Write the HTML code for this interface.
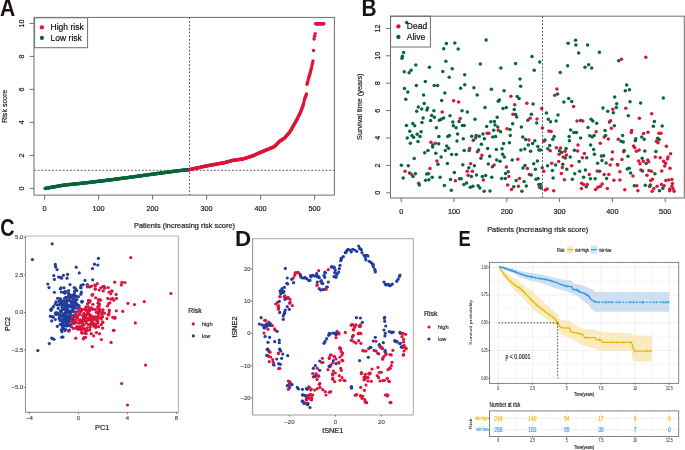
<!DOCTYPE html>
<html><head><meta charset="utf-8"><style>
html,body{margin:0;padding:0;background:#fff;}
body{width:685px;height:450px;overflow:hidden;}
svg{display:block;filter:blur(0.3px);}
text{font-family:"Liberation Sans", sans-serif;}
</style></head><body>
<svg width="685" height="450" viewBox="0 0 685 450">
<rect width="685" height="450" fill="#fff"/>
<line x1="34" y1="170.3" x2="334.4" y2="170.3" stroke="#444" stroke-width="0.9" stroke-dasharray="1.8 1.8"/>
<line x1="189.5" y1="17.4" x2="189.5" y2="195.1" stroke="#444" stroke-width="0.9" stroke-dasharray="1.8 1.8"/>
<circle cx="45.14" cy="188.41" r="1.75" fill="#07663a"/>
<circle cx="45.68" cy="188.31" r="1.75" fill="#07663a"/>
<circle cx="46.22" cy="188.22" r="1.75" fill="#07663a"/>
<circle cx="46.76" cy="188.12" r="1.75" fill="#07663a"/>
<circle cx="47.3" cy="188.03" r="1.75" fill="#07663a"/>
<circle cx="47.84" cy="187.93" r="1.75" fill="#07663a"/>
<circle cx="48.38" cy="187.84" r="1.75" fill="#07663a"/>
<circle cx="48.92" cy="187.74" r="1.75" fill="#07663a"/>
<circle cx="49.46" cy="187.65" r="1.75" fill="#07663a"/>
<circle cx="50" cy="187.55" r="1.75" fill="#07663a"/>
<circle cx="50.54" cy="187.46" r="1.75" fill="#07663a"/>
<circle cx="51.08" cy="187.36" r="1.75" fill="#07663a"/>
<circle cx="51.62" cy="187.27" r="1.75" fill="#07663a"/>
<circle cx="52.16" cy="187.17" r="1.75" fill="#07663a"/>
<circle cx="52.7" cy="187.08" r="1.75" fill="#07663a"/>
<circle cx="53.24" cy="186.98" r="1.75" fill="#07663a"/>
<circle cx="53.78" cy="186.89" r="1.75" fill="#07663a"/>
<circle cx="54.32" cy="186.79" r="1.75" fill="#07663a"/>
<circle cx="54.86" cy="186.7" r="1.75" fill="#07663a"/>
<circle cx="55.4" cy="186.6" r="1.75" fill="#07663a"/>
<circle cx="55.94" cy="186.51" r="1.75" fill="#07663a"/>
<circle cx="56.48" cy="186.41" r="1.75" fill="#07663a"/>
<circle cx="57.02" cy="186.32" r="1.75" fill="#07663a"/>
<circle cx="57.56" cy="186.22" r="1.75" fill="#07663a"/>
<circle cx="58.1" cy="186.13" r="1.75" fill="#07663a"/>
<circle cx="58.64" cy="186.03" r="1.75" fill="#07663a"/>
<circle cx="59.18" cy="185.94" r="1.75" fill="#07663a"/>
<circle cx="59.72" cy="185.84" r="1.75" fill="#07663a"/>
<circle cx="60.26" cy="185.75" r="1.75" fill="#07663a"/>
<circle cx="60.8" cy="185.66" r="1.75" fill="#07663a"/>
<circle cx="61.34" cy="185.56" r="1.75" fill="#07663a"/>
<circle cx="61.88" cy="185.47" r="1.75" fill="#07663a"/>
<circle cx="62.42" cy="185.37" r="1.75" fill="#07663a"/>
<circle cx="62.96" cy="185.28" r="1.75" fill="#07663a"/>
<circle cx="63.5" cy="185.19" r="1.75" fill="#07663a"/>
<circle cx="64.04" cy="185.13" r="1.75" fill="#07663a"/>
<circle cx="64.58" cy="185.07" r="1.75" fill="#07663a"/>
<circle cx="65.12" cy="185.01" r="1.75" fill="#07663a"/>
<circle cx="65.66" cy="184.96" r="1.75" fill="#07663a"/>
<circle cx="66.2" cy="184.9" r="1.75" fill="#07663a"/>
<circle cx="66.74" cy="184.84" r="1.75" fill="#07663a"/>
<circle cx="67.28" cy="184.78" r="1.75" fill="#07663a"/>
<circle cx="67.82" cy="184.73" r="1.75" fill="#07663a"/>
<circle cx="68.36" cy="184.67" r="1.75" fill="#07663a"/>
<circle cx="68.9" cy="184.61" r="1.75" fill="#07663a"/>
<circle cx="69.44" cy="184.55" r="1.75" fill="#07663a"/>
<circle cx="69.98" cy="184.49" r="1.75" fill="#07663a"/>
<circle cx="70.52" cy="184.44" r="1.75" fill="#07663a"/>
<circle cx="71.06" cy="184.38" r="1.75" fill="#07663a"/>
<circle cx="71.6" cy="184.32" r="1.75" fill="#07663a"/>
<circle cx="72.14" cy="184.26" r="1.75" fill="#07663a"/>
<circle cx="72.68" cy="184.2" r="1.75" fill="#07663a"/>
<circle cx="73.22" cy="184.15" r="1.75" fill="#07663a"/>
<circle cx="73.76" cy="184.09" r="1.75" fill="#07663a"/>
<circle cx="74.3" cy="184.03" r="1.75" fill="#07663a"/>
<circle cx="74.84" cy="183.97" r="1.75" fill="#07663a"/>
<circle cx="75.38" cy="183.92" r="1.75" fill="#07663a"/>
<circle cx="75.92" cy="183.86" r="1.75" fill="#07663a"/>
<circle cx="76.46" cy="183.8" r="1.75" fill="#07663a"/>
<circle cx="77" cy="183.74" r="1.75" fill="#07663a"/>
<circle cx="77.54" cy="183.68" r="1.75" fill="#07663a"/>
<circle cx="78.08" cy="183.63" r="1.75" fill="#07663a"/>
<circle cx="78.62" cy="183.57" r="1.75" fill="#07663a"/>
<circle cx="79.16" cy="183.51" r="1.75" fill="#07663a"/>
<circle cx="79.7" cy="183.45" r="1.75" fill="#07663a"/>
<circle cx="80.24" cy="183.39" r="1.75" fill="#07663a"/>
<circle cx="80.78" cy="183.34" r="1.75" fill="#07663a"/>
<circle cx="81.32" cy="183.28" r="1.75" fill="#07663a"/>
<circle cx="81.86" cy="183.22" r="1.75" fill="#07663a"/>
<circle cx="82.4" cy="183.16" r="1.75" fill="#07663a"/>
<circle cx="82.94" cy="183.11" r="1.75" fill="#07663a"/>
<circle cx="83.48" cy="183.05" r="1.75" fill="#07663a"/>
<circle cx="84.02" cy="182.99" r="1.75" fill="#07663a"/>
<circle cx="84.56" cy="182.93" r="1.75" fill="#07663a"/>
<circle cx="85.1" cy="182.87" r="1.75" fill="#07663a"/>
<circle cx="85.64" cy="182.82" r="1.75" fill="#07663a"/>
<circle cx="86.18" cy="182.76" r="1.75" fill="#07663a"/>
<circle cx="86.72" cy="182.7" r="1.75" fill="#07663a"/>
<circle cx="87.26" cy="182.64" r="1.75" fill="#07663a"/>
<circle cx="87.8" cy="182.57" r="1.75" fill="#07663a"/>
<circle cx="88.34" cy="182.51" r="1.75" fill="#07663a"/>
<circle cx="88.88" cy="182.44" r="1.75" fill="#07663a"/>
<circle cx="89.42" cy="182.38" r="1.75" fill="#07663a"/>
<circle cx="89.96" cy="182.31" r="1.75" fill="#07663a"/>
<circle cx="90.5" cy="182.25" r="1.75" fill="#07663a"/>
<circle cx="91.04" cy="182.18" r="1.75" fill="#07663a"/>
<circle cx="91.58" cy="182.12" r="1.75" fill="#07663a"/>
<circle cx="92.12" cy="182.05" r="1.75" fill="#07663a"/>
<circle cx="92.66" cy="181.99" r="1.75" fill="#07663a"/>
<circle cx="93.2" cy="181.92" r="1.75" fill="#07663a"/>
<circle cx="93.74" cy="181.86" r="1.75" fill="#07663a"/>
<circle cx="94.28" cy="181.79" r="1.75" fill="#07663a"/>
<circle cx="94.82" cy="181.73" r="1.75" fill="#07663a"/>
<circle cx="95.36" cy="181.67" r="1.75" fill="#07663a"/>
<circle cx="95.9" cy="181.6" r="1.75" fill="#07663a"/>
<circle cx="96.44" cy="181.54" r="1.75" fill="#07663a"/>
<circle cx="96.98" cy="181.47" r="1.75" fill="#07663a"/>
<circle cx="97.52" cy="181.41" r="1.75" fill="#07663a"/>
<circle cx="98.06" cy="181.34" r="1.75" fill="#07663a"/>
<circle cx="98.6" cy="181.28" r="1.75" fill="#07663a"/>
<circle cx="99.14" cy="181.21" r="1.75" fill="#07663a"/>
<circle cx="99.68" cy="181.15" r="1.75" fill="#07663a"/>
<circle cx="100.22" cy="181.08" r="1.75" fill="#07663a"/>
<circle cx="100.76" cy="181.02" r="1.75" fill="#07663a"/>
<circle cx="101.3" cy="180.95" r="1.75" fill="#07663a"/>
<circle cx="101.84" cy="180.89" r="1.75" fill="#07663a"/>
<circle cx="102.38" cy="180.82" r="1.75" fill="#07663a"/>
<circle cx="102.92" cy="180.76" r="1.75" fill="#07663a"/>
<circle cx="103.46" cy="180.7" r="1.75" fill="#07663a"/>
<circle cx="104" cy="180.63" r="1.75" fill="#07663a"/>
<circle cx="104.54" cy="180.57" r="1.75" fill="#07663a"/>
<circle cx="105.08" cy="180.5" r="1.75" fill="#07663a"/>
<circle cx="105.62" cy="180.44" r="1.75" fill="#07663a"/>
<circle cx="106.16" cy="180.37" r="1.75" fill="#07663a"/>
<circle cx="106.7" cy="180.31" r="1.75" fill="#07663a"/>
<circle cx="107.24" cy="180.24" r="1.75" fill="#07663a"/>
<circle cx="107.78" cy="180.18" r="1.75" fill="#07663a"/>
<circle cx="108.32" cy="180.11" r="1.75" fill="#07663a"/>
<circle cx="108.86" cy="180.05" r="1.75" fill="#07663a"/>
<circle cx="109.4" cy="179.98" r="1.75" fill="#07663a"/>
<circle cx="109.94" cy="179.92" r="1.75" fill="#07663a"/>
<circle cx="110.48" cy="179.85" r="1.75" fill="#07663a"/>
<circle cx="111.02" cy="179.78" r="1.75" fill="#07663a"/>
<circle cx="111.56" cy="179.71" r="1.75" fill="#07663a"/>
<circle cx="112.1" cy="179.64" r="1.75" fill="#07663a"/>
<circle cx="112.64" cy="179.56" r="1.75" fill="#07663a"/>
<circle cx="113.18" cy="179.49" r="1.75" fill="#07663a"/>
<circle cx="113.72" cy="179.42" r="1.75" fill="#07663a"/>
<circle cx="114.26" cy="179.35" r="1.75" fill="#07663a"/>
<circle cx="114.8" cy="179.28" r="1.75" fill="#07663a"/>
<circle cx="115.34" cy="179.21" r="1.75" fill="#07663a"/>
<circle cx="115.88" cy="179.13" r="1.75" fill="#07663a"/>
<circle cx="116.42" cy="179.06" r="1.75" fill="#07663a"/>
<circle cx="116.96" cy="178.99" r="1.75" fill="#07663a"/>
<circle cx="117.5" cy="178.92" r="1.75" fill="#07663a"/>
<circle cx="118.04" cy="178.85" r="1.75" fill="#07663a"/>
<circle cx="118.58" cy="178.78" r="1.75" fill="#07663a"/>
<circle cx="119.12" cy="178.7" r="1.75" fill="#07663a"/>
<circle cx="119.66" cy="178.63" r="1.75" fill="#07663a"/>
<circle cx="120.2" cy="178.56" r="1.75" fill="#07663a"/>
<circle cx="120.74" cy="178.49" r="1.75" fill="#07663a"/>
<circle cx="121.28" cy="178.42" r="1.75" fill="#07663a"/>
<circle cx="121.82" cy="178.35" r="1.75" fill="#07663a"/>
<circle cx="122.36" cy="178.27" r="1.75" fill="#07663a"/>
<circle cx="122.9" cy="178.2" r="1.75" fill="#07663a"/>
<circle cx="123.44" cy="178.13" r="1.75" fill="#07663a"/>
<circle cx="123.98" cy="178.06" r="1.75" fill="#07663a"/>
<circle cx="124.52" cy="177.99" r="1.75" fill="#07663a"/>
<circle cx="125.06" cy="177.92" r="1.75" fill="#07663a"/>
<circle cx="125.6" cy="177.85" r="1.75" fill="#07663a"/>
<circle cx="126.14" cy="177.77" r="1.75" fill="#07663a"/>
<circle cx="126.68" cy="177.7" r="1.75" fill="#07663a"/>
<circle cx="127.22" cy="177.63" r="1.75" fill="#07663a"/>
<circle cx="127.76" cy="177.56" r="1.75" fill="#07663a"/>
<circle cx="128.3" cy="177.49" r="1.75" fill="#07663a"/>
<circle cx="128.84" cy="177.42" r="1.75" fill="#07663a"/>
<circle cx="129.38" cy="177.34" r="1.75" fill="#07663a"/>
<circle cx="129.92" cy="177.27" r="1.75" fill="#07663a"/>
<circle cx="130.46" cy="177.2" r="1.75" fill="#07663a"/>
<circle cx="131" cy="177.13" r="1.75" fill="#07663a"/>
<circle cx="131.54" cy="177.06" r="1.75" fill="#07663a"/>
<circle cx="132.08" cy="176.99" r="1.75" fill="#07663a"/>
<circle cx="132.62" cy="176.91" r="1.75" fill="#07663a"/>
<circle cx="133.16" cy="176.84" r="1.75" fill="#07663a"/>
<circle cx="133.7" cy="176.77" r="1.75" fill="#07663a"/>
<circle cx="134.24" cy="176.7" r="1.75" fill="#07663a"/>
<circle cx="134.78" cy="176.62" r="1.75" fill="#07663a"/>
<circle cx="135.32" cy="176.55" r="1.75" fill="#07663a"/>
<circle cx="135.86" cy="176.47" r="1.75" fill="#07663a"/>
<circle cx="136.4" cy="176.4" r="1.75" fill="#07663a"/>
<circle cx="136.94" cy="176.33" r="1.75" fill="#07663a"/>
<circle cx="137.48" cy="176.25" r="1.75" fill="#07663a"/>
<circle cx="138.02" cy="176.18" r="1.75" fill="#07663a"/>
<circle cx="138.56" cy="176.1" r="1.75" fill="#07663a"/>
<circle cx="139.1" cy="176.03" r="1.75" fill="#07663a"/>
<circle cx="139.64" cy="175.96" r="1.75" fill="#07663a"/>
<circle cx="140.18" cy="175.88" r="1.75" fill="#07663a"/>
<circle cx="140.72" cy="175.81" r="1.75" fill="#07663a"/>
<circle cx="141.26" cy="175.73" r="1.75" fill="#07663a"/>
<circle cx="141.8" cy="175.66" r="1.75" fill="#07663a"/>
<circle cx="142.34" cy="175.59" r="1.75" fill="#07663a"/>
<circle cx="142.88" cy="175.51" r="1.75" fill="#07663a"/>
<circle cx="143.42" cy="175.44" r="1.75" fill="#07663a"/>
<circle cx="143.96" cy="175.36" r="1.75" fill="#07663a"/>
<circle cx="144.5" cy="175.29" r="1.75" fill="#07663a"/>
<circle cx="145.04" cy="175.21" r="1.75" fill="#07663a"/>
<circle cx="145.58" cy="175.14" r="1.75" fill="#07663a"/>
<circle cx="146.12" cy="175.07" r="1.75" fill="#07663a"/>
<circle cx="146.66" cy="174.99" r="1.75" fill="#07663a"/>
<circle cx="147.2" cy="174.92" r="1.75" fill="#07663a"/>
<circle cx="147.74" cy="174.84" r="1.75" fill="#07663a"/>
<circle cx="148.28" cy="174.77" r="1.75" fill="#07663a"/>
<circle cx="148.82" cy="174.7" r="1.75" fill="#07663a"/>
<circle cx="149.36" cy="174.62" r="1.75" fill="#07663a"/>
<circle cx="149.9" cy="174.55" r="1.75" fill="#07663a"/>
<circle cx="150.44" cy="174.47" r="1.75" fill="#07663a"/>
<circle cx="150.98" cy="174.4" r="1.75" fill="#07663a"/>
<circle cx="151.52" cy="174.33" r="1.75" fill="#07663a"/>
<circle cx="152.06" cy="174.25" r="1.75" fill="#07663a"/>
<circle cx="152.6" cy="174.18" r="1.75" fill="#07663a"/>
<circle cx="153.14" cy="174.1" r="1.75" fill="#07663a"/>
<circle cx="153.68" cy="174.03" r="1.75" fill="#07663a"/>
<circle cx="154.22" cy="173.96" r="1.75" fill="#07663a"/>
<circle cx="154.76" cy="173.88" r="1.75" fill="#07663a"/>
<circle cx="155.3" cy="173.81" r="1.75" fill="#07663a"/>
<circle cx="155.84" cy="173.73" r="1.75" fill="#07663a"/>
<circle cx="156.38" cy="173.66" r="1.75" fill="#07663a"/>
<circle cx="156.92" cy="173.59" r="1.75" fill="#07663a"/>
<circle cx="157.46" cy="173.51" r="1.75" fill="#07663a"/>
<circle cx="158" cy="173.44" r="1.75" fill="#07663a"/>
<circle cx="158.54" cy="173.37" r="1.75" fill="#07663a"/>
<circle cx="159.08" cy="173.3" r="1.75" fill="#07663a"/>
<circle cx="159.62" cy="173.23" r="1.75" fill="#07663a"/>
<circle cx="160.16" cy="173.16" r="1.75" fill="#07663a"/>
<circle cx="160.7" cy="173.08" r="1.75" fill="#07663a"/>
<circle cx="161.24" cy="173.01" r="1.75" fill="#07663a"/>
<circle cx="161.78" cy="172.94" r="1.75" fill="#07663a"/>
<circle cx="162.32" cy="172.87" r="1.75" fill="#07663a"/>
<circle cx="162.86" cy="172.8" r="1.75" fill="#07663a"/>
<circle cx="163.4" cy="172.72" r="1.75" fill="#07663a"/>
<circle cx="163.94" cy="172.65" r="1.75" fill="#07663a"/>
<circle cx="164.48" cy="172.58" r="1.75" fill="#07663a"/>
<circle cx="165.02" cy="172.51" r="1.75" fill="#07663a"/>
<circle cx="165.56" cy="172.44" r="1.75" fill="#07663a"/>
<circle cx="166.1" cy="172.37" r="1.75" fill="#07663a"/>
<circle cx="166.64" cy="172.29" r="1.75" fill="#07663a"/>
<circle cx="167.18" cy="172.22" r="1.75" fill="#07663a"/>
<circle cx="167.72" cy="172.15" r="1.75" fill="#07663a"/>
<circle cx="168.26" cy="172.08" r="1.75" fill="#07663a"/>
<circle cx="168.8" cy="172.01" r="1.75" fill="#07663a"/>
<circle cx="169.34" cy="171.94" r="1.75" fill="#07663a"/>
<circle cx="169.88" cy="171.86" r="1.75" fill="#07663a"/>
<circle cx="170.42" cy="171.79" r="1.75" fill="#07663a"/>
<circle cx="170.96" cy="171.72" r="1.75" fill="#07663a"/>
<circle cx="171.5" cy="171.65" r="1.75" fill="#07663a"/>
<circle cx="172.04" cy="171.58" r="1.75" fill="#07663a"/>
<circle cx="172.58" cy="171.5" r="1.75" fill="#07663a"/>
<circle cx="173.12" cy="171.43" r="1.75" fill="#07663a"/>
<circle cx="173.66" cy="171.36" r="1.75" fill="#07663a"/>
<circle cx="174.2" cy="171.29" r="1.75" fill="#07663a"/>
<circle cx="174.74" cy="171.22" r="1.75" fill="#07663a"/>
<circle cx="175.28" cy="171.15" r="1.75" fill="#07663a"/>
<circle cx="175.82" cy="171.07" r="1.75" fill="#07663a"/>
<circle cx="176.36" cy="171" r="1.75" fill="#07663a"/>
<circle cx="176.9" cy="170.93" r="1.75" fill="#07663a"/>
<circle cx="177.44" cy="170.86" r="1.75" fill="#07663a"/>
<circle cx="177.98" cy="170.79" r="1.75" fill="#07663a"/>
<circle cx="178.52" cy="170.72" r="1.75" fill="#07663a"/>
<circle cx="179.06" cy="170.64" r="1.75" fill="#07663a"/>
<circle cx="179.6" cy="170.57" r="1.75" fill="#07663a"/>
<circle cx="180.14" cy="170.5" r="1.75" fill="#07663a"/>
<circle cx="180.68" cy="170.45" r="1.75" fill="#07663a"/>
<circle cx="181.22" cy="170.4" r="1.75" fill="#07663a"/>
<circle cx="181.76" cy="170.35" r="1.75" fill="#07663a"/>
<circle cx="182.3" cy="170.29" r="1.75" fill="#07663a"/>
<circle cx="182.84" cy="170.24" r="1.75" fill="#07663a"/>
<circle cx="183.38" cy="170.19" r="1.75" fill="#07663a"/>
<circle cx="183.92" cy="170.14" r="1.75" fill="#07663a"/>
<circle cx="184.46" cy="170.09" r="1.75" fill="#07663a"/>
<circle cx="185" cy="170.04" r="1.75" fill="#07663a"/>
<circle cx="185.54" cy="169.99" r="1.75" fill="#07663a"/>
<circle cx="186.08" cy="169.93" r="1.75" fill="#07663a"/>
<circle cx="186.62" cy="169.88" r="1.75" fill="#07663a"/>
<circle cx="187.16" cy="169.83" r="1.75" fill="#07663a"/>
<circle cx="187.7" cy="169.78" r="1.75" fill="#07663a"/>
<circle cx="188.24" cy="169.73" r="1.75" fill="#07663a"/>
<circle cx="188.78" cy="169.68" r="1.75" fill="#07663a"/>
<circle cx="189.32" cy="169.63" r="1.75" fill="#07663a"/>
<circle cx="189.86" cy="169.54" r="1.75" fill="#dc1438"/>
<circle cx="190.4" cy="169.42" r="1.75" fill="#dc1438"/>
<circle cx="190.94" cy="169.31" r="1.75" fill="#dc1438"/>
<circle cx="191.48" cy="169.19" r="1.75" fill="#dc1438"/>
<circle cx="192.02" cy="169.07" r="1.75" fill="#dc1438"/>
<circle cx="192.56" cy="168.95" r="1.75" fill="#dc1438"/>
<circle cx="193.1" cy="168.84" r="1.75" fill="#dc1438"/>
<circle cx="193.64" cy="168.72" r="1.75" fill="#dc1438"/>
<circle cx="194.18" cy="168.6" r="1.75" fill="#dc1438"/>
<circle cx="194.72" cy="168.48" r="1.75" fill="#dc1438"/>
<circle cx="195.26" cy="168.37" r="1.75" fill="#dc1438"/>
<circle cx="195.8" cy="168.25" r="1.75" fill="#dc1438"/>
<circle cx="196.34" cy="168.13" r="1.75" fill="#dc1438"/>
<circle cx="196.88" cy="168.01" r="1.75" fill="#dc1438"/>
<circle cx="197.42" cy="167.9" r="1.75" fill="#dc1438"/>
<circle cx="197.96" cy="167.78" r="1.75" fill="#dc1438"/>
<circle cx="198.5" cy="167.66" r="1.75" fill="#dc1438"/>
<circle cx="199.04" cy="167.54" r="1.75" fill="#dc1438"/>
<circle cx="199.58" cy="167.43" r="1.75" fill="#dc1438"/>
<circle cx="200.12" cy="167.31" r="1.75" fill="#dc1438"/>
<circle cx="200.66" cy="167.19" r="1.75" fill="#dc1438"/>
<circle cx="201.2" cy="167.07" r="1.75" fill="#dc1438"/>
<circle cx="201.74" cy="166.96" r="1.75" fill="#dc1438"/>
<circle cx="202.28" cy="166.84" r="1.75" fill="#dc1438"/>
<circle cx="202.82" cy="166.72" r="1.75" fill="#dc1438"/>
<circle cx="203.36" cy="166.6" r="1.75" fill="#dc1438"/>
<circle cx="203.9" cy="166.49" r="1.75" fill="#dc1438"/>
<circle cx="204.44" cy="166.37" r="1.75" fill="#dc1438"/>
<circle cx="204.98" cy="166.25" r="1.75" fill="#dc1438"/>
<circle cx="205.52" cy="166.13" r="1.75" fill="#dc1438"/>
<circle cx="206.06" cy="166.02" r="1.75" fill="#dc1438"/>
<circle cx="206.6" cy="165.9" r="1.75" fill="#dc1438"/>
<circle cx="207.14" cy="165.78" r="1.75" fill="#dc1438"/>
<circle cx="207.68" cy="165.67" r="1.75" fill="#dc1438"/>
<circle cx="208.22" cy="165.58" r="1.75" fill="#dc1438"/>
<circle cx="208.76" cy="165.48" r="1.75" fill="#dc1438"/>
<circle cx="209.3" cy="165.38" r="1.75" fill="#dc1438"/>
<circle cx="209.84" cy="165.29" r="1.75" fill="#dc1438"/>
<circle cx="210.38" cy="165.19" r="1.75" fill="#dc1438"/>
<circle cx="210.92" cy="165.1" r="1.75" fill="#dc1438"/>
<circle cx="211.46" cy="165" r="1.75" fill="#dc1438"/>
<circle cx="212" cy="164.9" r="1.75" fill="#dc1438"/>
<circle cx="212.54" cy="164.81" r="1.75" fill="#dc1438"/>
<circle cx="213.08" cy="164.71" r="1.75" fill="#dc1438"/>
<circle cx="213.62" cy="164.62" r="1.75" fill="#dc1438"/>
<circle cx="214.16" cy="164.52" r="1.75" fill="#dc1438"/>
<circle cx="214.7" cy="164.42" r="1.75" fill="#dc1438"/>
<circle cx="215.24" cy="164.33" r="1.75" fill="#dc1438"/>
<circle cx="215.78" cy="164.23" r="1.75" fill="#dc1438"/>
<circle cx="216.32" cy="164.14" r="1.75" fill="#dc1438"/>
<circle cx="216.86" cy="164.04" r="1.75" fill="#dc1438"/>
<circle cx="217.4" cy="163.94" r="1.75" fill="#dc1438"/>
<circle cx="217.94" cy="163.85" r="1.75" fill="#dc1438"/>
<circle cx="218.48" cy="163.75" r="1.75" fill="#dc1438"/>
<circle cx="219.02" cy="163.66" r="1.75" fill="#dc1438"/>
<circle cx="219.56" cy="163.56" r="1.75" fill="#dc1438"/>
<circle cx="220.1" cy="163.46" r="1.75" fill="#dc1438"/>
<circle cx="220.64" cy="163.37" r="1.75" fill="#dc1438"/>
<circle cx="221.18" cy="163.27" r="1.75" fill="#dc1438"/>
<circle cx="221.72" cy="163.18" r="1.75" fill="#dc1438"/>
<circle cx="222.26" cy="163.08" r="1.75" fill="#dc1438"/>
<circle cx="222.8" cy="162.98" r="1.75" fill="#dc1438"/>
<circle cx="223.34" cy="162.89" r="1.75" fill="#dc1438"/>
<circle cx="223.88" cy="162.79" r="1.75" fill="#dc1438"/>
<circle cx="224.42" cy="162.7" r="1.75" fill="#dc1438"/>
<circle cx="224.96" cy="162.6" r="1.75" fill="#dc1438"/>
<circle cx="225.5" cy="162.44" r="1.75" fill="#dc1438"/>
<circle cx="226.04" cy="162.28" r="1.75" fill="#dc1438"/>
<circle cx="226.58" cy="162.12" r="1.75" fill="#dc1438"/>
<circle cx="227.12" cy="161.95" r="1.75" fill="#dc1438"/>
<circle cx="227.66" cy="161.79" r="1.75" fill="#dc1438"/>
<circle cx="228.2" cy="161.63" r="1.75" fill="#dc1438"/>
<circle cx="228.74" cy="161.47" r="1.75" fill="#dc1438"/>
<circle cx="229.28" cy="161.31" r="1.75" fill="#dc1438"/>
<circle cx="229.82" cy="161.15" r="1.75" fill="#dc1438"/>
<circle cx="230.36" cy="160.98" r="1.75" fill="#dc1438"/>
<circle cx="230.9" cy="160.82" r="1.75" fill="#dc1438"/>
<circle cx="231.44" cy="160.66" r="1.75" fill="#dc1438"/>
<circle cx="231.98" cy="160.5" r="1.75" fill="#dc1438"/>
<circle cx="232.52" cy="160.42" r="1.75" fill="#dc1438"/>
<circle cx="233.06" cy="160.35" r="1.75" fill="#dc1438"/>
<circle cx="233.6" cy="160.27" r="1.75" fill="#dc1438"/>
<circle cx="234.14" cy="160.2" r="1.75" fill="#dc1438"/>
<circle cx="234.68" cy="160.12" r="1.75" fill="#dc1438"/>
<circle cx="235.22" cy="160.04" r="1.75" fill="#dc1438"/>
<circle cx="235.76" cy="159.97" r="1.75" fill="#dc1438"/>
<circle cx="236.3" cy="159.89" r="1.75" fill="#dc1438"/>
<circle cx="236.84" cy="159.81" r="1.75" fill="#dc1438"/>
<circle cx="237.38" cy="159.74" r="1.75" fill="#dc1438"/>
<circle cx="237.92" cy="159.66" r="1.75" fill="#dc1438"/>
<circle cx="238.46" cy="159.59" r="1.75" fill="#dc1438"/>
<circle cx="239" cy="159.51" r="1.75" fill="#dc1438"/>
<circle cx="239.54" cy="159.43" r="1.75" fill="#dc1438"/>
<circle cx="240.08" cy="159.36" r="1.75" fill="#dc1438"/>
<circle cx="240.62" cy="159.28" r="1.75" fill="#dc1438"/>
<circle cx="241.16" cy="159.21" r="1.75" fill="#dc1438"/>
<circle cx="241.7" cy="159.13" r="1.75" fill="#dc1438"/>
<circle cx="242.24" cy="159.05" r="1.75" fill="#dc1438"/>
<circle cx="242.78" cy="158.95" r="1.75" fill="#dc1438"/>
<circle cx="243.32" cy="158.79" r="1.75" fill="#dc1438"/>
<circle cx="243.86" cy="158.63" r="1.75" fill="#dc1438"/>
<circle cx="244.4" cy="158.47" r="1.75" fill="#dc1438"/>
<circle cx="244.94" cy="158.31" r="1.75" fill="#dc1438"/>
<circle cx="245.48" cy="158.14" r="1.75" fill="#dc1438"/>
<circle cx="246.02" cy="157.98" r="1.75" fill="#dc1438"/>
<circle cx="246.56" cy="157.82" r="1.75" fill="#dc1438"/>
<circle cx="247.1" cy="157.66" r="1.75" fill="#dc1438"/>
<circle cx="247.64" cy="157.5" r="1.75" fill="#dc1438"/>
<circle cx="248.18" cy="157.34" r="1.75" fill="#dc1438"/>
<circle cx="248.72" cy="157.18" r="1.75" fill="#dc1438"/>
<circle cx="249.26" cy="157.01" r="1.75" fill="#dc1438"/>
<circle cx="249.8" cy="156.85" r="1.75" fill="#dc1438"/>
<circle cx="250.34" cy="156.69" r="1.75" fill="#dc1438"/>
<circle cx="250.88" cy="156.53" r="1.75" fill="#dc1438"/>
<circle cx="251.42" cy="156.35" r="1.75" fill="#dc1438"/>
<circle cx="251.96" cy="156.12" r="1.75" fill="#dc1438"/>
<circle cx="252.5" cy="155.88" r="1.75" fill="#dc1438"/>
<circle cx="253.04" cy="155.64" r="1.75" fill="#dc1438"/>
<circle cx="253.58" cy="155.41" r="1.75" fill="#dc1438"/>
<circle cx="254.12" cy="155.17" r="1.75" fill="#dc1438"/>
<circle cx="254.66" cy="154.94" r="1.75" fill="#dc1438"/>
<circle cx="255.2" cy="154.7" r="1.75" fill="#dc1438"/>
<circle cx="255.74" cy="154.46" r="1.75" fill="#dc1438"/>
<circle cx="256.28" cy="154.23" r="1.75" fill="#dc1438"/>
<circle cx="256.82" cy="153.99" r="1.75" fill="#dc1438"/>
<circle cx="257.36" cy="153.76" r="1.75" fill="#dc1438"/>
<circle cx="257.9" cy="153.52" r="1.75" fill="#dc1438"/>
<circle cx="258.44" cy="153.28" r="1.75" fill="#dc1438"/>
<circle cx="258.98" cy="153.05" r="1.75" fill="#dc1438"/>
<circle cx="259.52" cy="152.81" r="1.75" fill="#dc1438"/>
<circle cx="260.06" cy="152.58" r="1.75" fill="#dc1438"/>
<circle cx="260.6" cy="152.35" r="1.75" fill="#dc1438"/>
<circle cx="261.14" cy="152.12" r="1.75" fill="#dc1438"/>
<circle cx="261.68" cy="151.9" r="1.75" fill="#dc1438"/>
<circle cx="262.22" cy="151.67" r="1.75" fill="#dc1438"/>
<circle cx="262.76" cy="151.44" r="1.75" fill="#dc1438"/>
<circle cx="263.3" cy="151.22" r="1.75" fill="#dc1438"/>
<circle cx="263.84" cy="150.99" r="1.75" fill="#dc1438"/>
<circle cx="264.38" cy="150.76" r="1.75" fill="#dc1438"/>
<circle cx="264.92" cy="150.53" r="1.75" fill="#dc1438"/>
<circle cx="265.46" cy="150.31" r="1.75" fill="#dc1438"/>
<circle cx="266" cy="150.08" r="1.75" fill="#dc1438"/>
<circle cx="266.54" cy="149.85" r="1.75" fill="#dc1438"/>
<circle cx="267.08" cy="149.63" r="1.75" fill="#dc1438"/>
<circle cx="267.62" cy="149.4" r="1.75" fill="#dc1438"/>
<circle cx="268.16" cy="149.17" r="1.75" fill="#dc1438"/>
<circle cx="268.7" cy="148.95" r="1.75" fill="#dc1438"/>
<circle cx="269.24" cy="148.73" r="1.75" fill="#dc1438"/>
<circle cx="269.78" cy="148.51" r="1.75" fill="#dc1438"/>
<circle cx="270.32" cy="148.3" r="1.75" fill="#dc1438"/>
<circle cx="270.86" cy="148.09" r="1.75" fill="#dc1438"/>
<circle cx="271.4" cy="147.87" r="1.75" fill="#dc1438"/>
<circle cx="271.94" cy="147.66" r="1.75" fill="#dc1438"/>
<circle cx="272.48" cy="147.44" r="1.75" fill="#dc1438"/>
<circle cx="273.02" cy="147.23" r="1.75" fill="#dc1438"/>
<circle cx="273.56" cy="147.01" r="1.75" fill="#dc1438"/>
<circle cx="274.1" cy="146.8" r="1.75" fill="#dc1438"/>
<circle cx="274.64" cy="146.25" r="1.75" fill="#dc1438"/>
<circle cx="275.18" cy="145.7" r="1.75" fill="#dc1438"/>
<circle cx="275.72" cy="145.14" r="1.75" fill="#dc1438"/>
<circle cx="276.26" cy="144.59" r="1.75" fill="#dc1438"/>
<circle cx="276.8" cy="144.04" r="1.75" fill="#dc1438"/>
<circle cx="277.34" cy="143.49" r="1.75" fill="#dc1438"/>
<circle cx="277.88" cy="142.94" r="1.75" fill="#dc1438"/>
<circle cx="278.42" cy="142.38" r="1.75" fill="#dc1438"/>
<circle cx="278.96" cy="141.83" r="1.75" fill="#dc1438"/>
<circle cx="279.5" cy="141.36" r="1.75" fill="#dc1438"/>
<circle cx="280.04" cy="141" r="1.75" fill="#dc1438"/>
<circle cx="280.58" cy="140.64" r="1.75" fill="#dc1438"/>
<circle cx="281.12" cy="140.29" r="1.75" fill="#dc1438"/>
<circle cx="281.66" cy="139.93" r="1.75" fill="#dc1438"/>
<circle cx="282.2" cy="139.57" r="1.75" fill="#dc1438"/>
<circle cx="282.74" cy="139.21" r="1.75" fill="#dc1438"/>
<circle cx="283.28" cy="138.86" r="1.75" fill="#dc1438"/>
<circle cx="283.82" cy="138.5" r="1.75" fill="#dc1438"/>
<circle cx="284.36" cy="138.14" r="1.75" fill="#dc1438"/>
<circle cx="284.9" cy="137.63" r="1.75" fill="#dc1438"/>
<circle cx="285.44" cy="137.01" r="1.75" fill="#dc1438"/>
<circle cx="285.98" cy="136.4" r="1.75" fill="#dc1438"/>
<circle cx="286.52" cy="135.78" r="1.75" fill="#dc1438"/>
<circle cx="287.06" cy="135.17" r="1.75" fill="#dc1438"/>
<circle cx="287.6" cy="134.55" r="1.75" fill="#dc1438"/>
<circle cx="288.14" cy="133.93" r="1.75" fill="#dc1438"/>
<circle cx="288.68" cy="133.32" r="1.75" fill="#dc1438"/>
<circle cx="289.22" cy="132.7" r="1.75" fill="#dc1438"/>
<circle cx="289.76" cy="132.08" r="1.75" fill="#dc1438"/>
<circle cx="290.3" cy="131.23" r="1.75" fill="#dc1438"/>
<circle cx="290.84" cy="130.28" r="1.75" fill="#dc1438"/>
<circle cx="291.38" cy="129.33" r="1.75" fill="#dc1438"/>
<circle cx="291.92" cy="128.37" r="1.75" fill="#dc1438"/>
<circle cx="292.46" cy="127.42" r="1.75" fill="#dc1438"/>
<circle cx="293" cy="126.47" r="1.75" fill="#dc1438"/>
<circle cx="293.54" cy="125.51" r="1.75" fill="#dc1438"/>
<circle cx="294.08" cy="124.56" r="1.75" fill="#dc1438"/>
<circle cx="294.62" cy="123.61" r="1.75" fill="#dc1438"/>
<circle cx="295.16" cy="122.65" r="1.75" fill="#dc1438"/>
<circle cx="295.7" cy="121.7" r="1.75" fill="#dc1438"/>
<circle cx="296.24" cy="120.74" r="1.75" fill="#dc1438"/>
<circle cx="296.78" cy="119.79" r="1.75" fill="#dc1438"/>
<circle cx="297.32" cy="118.74" r="1.75" fill="#dc1438"/>
<circle cx="297.86" cy="117.66" r="1.75" fill="#dc1438"/>
<circle cx="298.4" cy="116.58" r="1.75" fill="#dc1438"/>
<circle cx="298.94" cy="115.5" r="1.75" fill="#dc1438"/>
<circle cx="299.48" cy="114.42" r="1.75" fill="#dc1438"/>
<circle cx="300.02" cy="113.34" r="1.75" fill="#dc1438"/>
<circle cx="300.56" cy="112.08" r="1.75" fill="#dc1438"/>
<circle cx="301.1" cy="110.63" r="1.75" fill="#dc1438"/>
<circle cx="301.64" cy="109.18" r="1.75" fill="#dc1438"/>
<circle cx="302.18" cy="107.73" r="1.75" fill="#dc1438"/>
<circle cx="302.72" cy="106.28" r="1.75" fill="#dc1438"/>
<circle cx="303.26" cy="104.83" r="1.75" fill="#dc1438"/>
<circle cx="303.8" cy="102.55" r="1.75" fill="#dc1438"/>
<circle cx="304.34" cy="99.9" r="1.75" fill="#dc1438"/>
<circle cx="304.88" cy="98.14" r="1.75" fill="#dc1438"/>
<circle cx="305.42" cy="96.76" r="1.75" fill="#dc1438"/>
<circle cx="305.96" cy="95.38" r="1.75" fill="#dc1438"/>
<circle cx="306.5" cy="94" r="1.75" fill="#dc1438"/>
<circle cx="307.04" cy="84.3" r="1.75" fill="#dc1438"/>
<circle cx="307.58" cy="82.2" r="1.75" fill="#dc1438"/>
<circle cx="308.12" cy="80.1" r="1.75" fill="#dc1438"/>
<circle cx="308.66" cy="78" r="1.75" fill="#dc1438"/>
<circle cx="309.2" cy="76.15" r="1.75" fill="#dc1438"/>
<circle cx="309.74" cy="74.3" r="1.75" fill="#dc1438"/>
<circle cx="310.28" cy="72.45" r="1.75" fill="#dc1438"/>
<circle cx="310.82" cy="70.6" r="1.75" fill="#dc1438"/>
<circle cx="311.36" cy="68.22" r="1.75" fill="#dc1438"/>
<circle cx="311.9" cy="65.85" r="1.75" fill="#dc1438"/>
<circle cx="312.44" cy="63.48" r="1.75" fill="#dc1438"/>
<circle cx="312.98" cy="61.1" r="1.75" fill="#dc1438"/>
<circle cx="313.52" cy="50.6" r="1.75" fill="#dc1438"/>
<circle cx="314.06" cy="39" r="1.75" fill="#dc1438"/>
<circle cx="314.6" cy="36.3" r="1.75" fill="#dc1438"/>
<circle cx="315.14" cy="33.7" r="1.75" fill="#dc1438"/>
<circle cx="315.68" cy="23.8" r="1.75" fill="#dc1438"/>
<circle cx="316.22" cy="23.8" r="1.75" fill="#dc1438"/>
<circle cx="316.76" cy="23.8" r="1.75" fill="#dc1438"/>
<circle cx="317.3" cy="23.8" r="1.75" fill="#dc1438"/>
<circle cx="317.84" cy="23.8" r="1.75" fill="#dc1438"/>
<circle cx="318.38" cy="23.8" r="1.75" fill="#dc1438"/>
<circle cx="318.92" cy="23.8" r="1.75" fill="#dc1438"/>
<circle cx="319.46" cy="23.8" r="1.75" fill="#dc1438"/>
<circle cx="320" cy="23.8" r="1.75" fill="#dc1438"/>
<circle cx="320.54" cy="23.8" r="1.75" fill="#dc1438"/>
<circle cx="321.08" cy="23.8" r="1.75" fill="#dc1438"/>
<circle cx="321.62" cy="23.8" r="1.75" fill="#dc1438"/>
<circle cx="322.16" cy="23.8" r="1.75" fill="#dc1438"/>
<circle cx="322.7" cy="23.8" r="1.75" fill="#dc1438"/>
<circle cx="323.24" cy="23.8" r="1.75" fill="#dc1438"/>
<circle cx="323.78" cy="23.8" r="1.75" fill="#dc1438"/>
<rect x="34" y="17.4" width="300.4" height="177.7" fill="none" stroke="#6e6e6e" stroke-width="1"/>
<line x1="29.6" y1="188.4" x2="34" y2="188.4" stroke="#6e6e6e" stroke-width="1" />
<text x="23.6" y="188.4" font-size="7.3" fill="#222" stroke="#222" stroke-width="0.2" text-anchor="middle" transform="rotate(-90 23.6 188.4)" >0</text>
<line x1="29.6" y1="155.4" x2="34" y2="155.4" stroke="#6e6e6e" stroke-width="1" />
<text x="23.6" y="155.4" font-size="7.3" fill="#222" stroke="#222" stroke-width="0.2" text-anchor="middle" transform="rotate(-90 23.6 155.4)" >2</text>
<line x1="29.6" y1="122.4" x2="34" y2="122.4" stroke="#6e6e6e" stroke-width="1" />
<text x="23.6" y="122.4" font-size="7.3" fill="#222" stroke="#222" stroke-width="0.2" text-anchor="middle" transform="rotate(-90 23.6 122.4)" >4</text>
<line x1="29.6" y1="89.4" x2="34" y2="89.4" stroke="#6e6e6e" stroke-width="1" />
<text x="23.6" y="89.4" font-size="7.3" fill="#222" stroke="#222" stroke-width="0.2" text-anchor="middle" transform="rotate(-90 23.6 89.4)" >6</text>
<line x1="29.6" y1="56.4" x2="34" y2="56.4" stroke="#6e6e6e" stroke-width="1" />
<text x="23.6" y="56.4" font-size="7.3" fill="#222" stroke="#222" stroke-width="0.2" text-anchor="middle" transform="rotate(-90 23.6 56.4)" >8</text>
<line x1="29.6" y1="23.4" x2="34" y2="23.4" stroke="#6e6e6e" stroke-width="1" />
<text x="23.6" y="23.4" font-size="7.3" fill="#222" stroke="#222" stroke-width="0.2" text-anchor="middle" transform="rotate(-90 23.6 23.4)" >10</text>
<line x1="44.6" y1="195.1" x2="44.6" y2="199.5" stroke="#6e6e6e" stroke-width="1" />
<text x="44.6" y="210.8" font-size="7.3" fill="#222" stroke="#222" stroke-width="0.2" text-anchor="middle" >0</text>
<line x1="98.6" y1="195.1" x2="98.6" y2="199.5" stroke="#6e6e6e" stroke-width="1" />
<text x="98.6" y="210.8" font-size="7.3" fill="#222" stroke="#222" stroke-width="0.2" text-anchor="middle" >100</text>
<line x1="152.6" y1="195.1" x2="152.6" y2="199.5" stroke="#6e6e6e" stroke-width="1" />
<text x="152.6" y="210.8" font-size="7.3" fill="#222" stroke="#222" stroke-width="0.2" text-anchor="middle" >200</text>
<line x1="206.6" y1="195.1" x2="206.6" y2="199.5" stroke="#6e6e6e" stroke-width="1" />
<text x="206.6" y="210.8" font-size="7.3" fill="#222" stroke="#222" stroke-width="0.2" text-anchor="middle" >300</text>
<line x1="260.6" y1="195.1" x2="260.6" y2="199.5" stroke="#6e6e6e" stroke-width="1" />
<text x="260.6" y="210.8" font-size="7.3" fill="#222" stroke="#222" stroke-width="0.2" text-anchor="middle" >400</text>
<line x1="314.6" y1="195.1" x2="314.6" y2="199.5" stroke="#6e6e6e" stroke-width="1" />
<text x="314.6" y="210.8" font-size="7.3" fill="#222" stroke="#222" stroke-width="0.2" text-anchor="middle" >500</text>
<text x="184.5" y="228" font-size="7.4" fill="#222" stroke="#222" stroke-width="0.2" text-anchor="middle" >Patients (increasing risk score)</text>
<text x="6.6" y="106.3" font-size="7.1" fill="#222" stroke="#222" stroke-width="0.2" text-anchor="middle" transform="rotate(-90 6.6 106.3)" >Risk score</text>
<rect x="34.6" y="17.8" width="53" height="29.9" fill="#fff" stroke="#6e6e6e" stroke-width="1"/>
<circle cx="41.9" cy="27.4" r="2.15" fill="#dc1438"/>
<circle cx="41.9" cy="37.9" r="2.15" fill="#07663a"/>
<text x="50.6" y="30.3" font-size="8.5" fill="#111" stroke="#111" stroke-width="0.2" text-anchor="start" >High risk</text>
<text x="50.6" y="40.6" font-size="8.5" fill="#111" stroke="#111" stroke-width="0.2" text-anchor="start" >Low risk</text>
<circle cx="401.4" cy="165.2" r="1.75" fill="#07663a"/>
<circle cx="402" cy="58.2" r="1.75" fill="#07663a"/>
<circle cx="402.4" cy="56.2" r="1.75" fill="#07663a"/>
<circle cx="403.1" cy="178.1" r="1.75" fill="#07663a"/>
<circle cx="403.6" cy="52.4" r="1.75" fill="#07663a"/>
<circle cx="404.2" cy="71.8" r="1.75" fill="#07663a"/>
<circle cx="404.4" cy="88.4" r="1.75" fill="#07663a"/>
<circle cx="405.1" cy="171.3" r="1.75" fill="#dc1438"/>
<circle cx="405.8" cy="99.3" r="1.75" fill="#07663a"/>
<circle cx="406.4" cy="125.4" r="1.75" fill="#07663a"/>
<circle cx="406.7" cy="22.4" r="1.75" fill="#07663a"/>
<circle cx="407.2" cy="138" r="1.75" fill="#07663a"/>
<circle cx="407.8" cy="92.1" r="1.75" fill="#07663a"/>
<circle cx="408.3" cy="165.8" r="1.75" fill="#07663a"/>
<circle cx="409.1" cy="72.7" r="1.75" fill="#07663a"/>
<circle cx="409.5" cy="172.9" r="1.75" fill="#07663a"/>
<circle cx="409.8" cy="131.3" r="1.75" fill="#07663a"/>
<circle cx="410.3" cy="143.2" r="1.75" fill="#07663a"/>
<circle cx="411.1" cy="70.2" r="1.75" fill="#07663a"/>
<circle cx="411.4" cy="174.2" r="1.75" fill="#dc1438"/>
<circle cx="412" cy="135.4" r="1.75" fill="#07663a"/>
<circle cx="412.8" cy="123.6" r="1.75" fill="#07663a"/>
<circle cx="413" cy="176.4" r="1.75" fill="#07663a"/>
<circle cx="413.6" cy="137.3" r="1.75" fill="#07663a"/>
<circle cx="414.2" cy="158.4" r="1.75" fill="#07663a"/>
<circle cx="414.7" cy="125.8" r="1.75" fill="#07663a"/>
<circle cx="415.4" cy="173.7" r="1.75" fill="#07663a"/>
<circle cx="415.8" cy="64.9" r="1.75" fill="#07663a"/>
<circle cx="416.3" cy="85.4" r="1.75" fill="#07663a"/>
<circle cx="416.7" cy="111.3" r="1.75" fill="#07663a"/>
<circle cx="417.2" cy="134.3" r="1.75" fill="#07663a"/>
<circle cx="418" cy="141.6" r="1.75" fill="#07663a"/>
<circle cx="418.3" cy="107.1" r="1.75" fill="#07663a"/>
<circle cx="418.7" cy="183.2" r="1.75" fill="#dc1438"/>
<circle cx="419.3" cy="185" r="1.75" fill="#07663a"/>
<circle cx="420" cy="136.6" r="1.75" fill="#07663a"/>
<circle cx="421.1" cy="131.8" r="1.75" fill="#07663a"/>
<circle cx="421.7" cy="109.1" r="1.75" fill="#07663a"/>
<circle cx="422" cy="122.4" r="1.75" fill="#07663a"/>
<circle cx="423.1" cy="118" r="1.75" fill="#07663a"/>
<circle cx="423.6" cy="94.9" r="1.75" fill="#07663a"/>
<circle cx="424.2" cy="103.6" r="1.75" fill="#07663a"/>
<circle cx="424.7" cy="152.7" r="1.75" fill="#07663a"/>
<circle cx="425.3" cy="81.6" r="1.75" fill="#07663a"/>
<circle cx="425.6" cy="180.3" r="1.75" fill="#07663a"/>
<circle cx="426.7" cy="174" r="1.75" fill="#07663a"/>
<circle cx="426.9" cy="109.9" r="1.75" fill="#07663a"/>
<circle cx="427.6" cy="108" r="1.75" fill="#07663a"/>
<circle cx="428" cy="150.4" r="1.75" fill="#07663a"/>
<circle cx="428.5" cy="173.7" r="1.75" fill="#07663a"/>
<circle cx="428.9" cy="179.7" r="1.75" fill="#07663a"/>
<circle cx="429.4" cy="67.3" r="1.75" fill="#07663a"/>
<circle cx="430" cy="168.5" r="1.75" fill="#dc1438"/>
<circle cx="430.6" cy="120.4" r="1.75" fill="#07663a"/>
<circle cx="430.9" cy="142.3" r="1.75" fill="#dc1438"/>
<circle cx="431.7" cy="115.4" r="1.75" fill="#07663a"/>
<circle cx="432.2" cy="177.2" r="1.75" fill="#07663a"/>
<circle cx="432.6" cy="147.1" r="1.75" fill="#07663a"/>
<circle cx="432.8" cy="144.9" r="1.75" fill="#07663a"/>
<circle cx="433.9" cy="110.8" r="1.75" fill="#07663a"/>
<circle cx="434.2" cy="85.4" r="1.75" fill="#07663a"/>
<circle cx="434.4" cy="117.3" r="1.75" fill="#07663a"/>
<circle cx="435.3" cy="143.2" r="1.75" fill="#dc1438"/>
<circle cx="435.8" cy="153.2" r="1.75" fill="#07663a"/>
<circle cx="436.4" cy="127.7" r="1.75" fill="#07663a"/>
<circle cx="436.9" cy="161" r="1.75" fill="#dc1438"/>
<circle cx="437.6" cy="85.4" r="1.75" fill="#07663a"/>
<circle cx="438" cy="164.3" r="1.75" fill="#07663a"/>
<circle cx="438.7" cy="143.8" r="1.75" fill="#07663a"/>
<circle cx="438.9" cy="136.6" r="1.75" fill="#07663a"/>
<circle cx="439.4" cy="120.2" r="1.75" fill="#07663a"/>
<circle cx="440.1" cy="177.2" r="1.75" fill="#07663a"/>
<circle cx="441.1" cy="119.3" r="1.75" fill="#07663a"/>
<circle cx="441.1" cy="156.9" r="1.75" fill="#07663a"/>
<circle cx="441.7" cy="100.4" r="1.75" fill="#07663a"/>
<circle cx="442.2" cy="112.1" r="1.75" fill="#dc1438"/>
<circle cx="442.8" cy="71.6" r="1.75" fill="#07663a"/>
<circle cx="443.6" cy="118" r="1.75" fill="#07663a"/>
<circle cx="443.7" cy="48.8" r="1.75" fill="#07663a"/>
<circle cx="444.4" cy="185.4" r="1.75" fill="#07663a"/>
<circle cx="444.8" cy="93" r="1.75" fill="#07663a"/>
<circle cx="445.3" cy="150.4" r="1.75" fill="#07663a"/>
<circle cx="445.9" cy="61.3" r="1.75" fill="#07663a"/>
<circle cx="446.4" cy="43.6" r="1.75" fill="#07663a"/>
<circle cx="446.7" cy="146" r="1.75" fill="#07663a"/>
<circle cx="447.4" cy="163.6" r="1.75" fill="#07663a"/>
<circle cx="447.8" cy="136.6" r="1.75" fill="#07663a"/>
<circle cx="448.6" cy="148.2" r="1.75" fill="#07663a"/>
<circle cx="449.2" cy="77.3" r="1.75" fill="#07663a"/>
<circle cx="449.4" cy="135.4" r="1.75" fill="#07663a"/>
<circle cx="450" cy="115.8" r="1.75" fill="#07663a"/>
<circle cx="450.5" cy="179.4" r="1.75" fill="#07663a"/>
<circle cx="451.3" cy="190.3" r="1.75" fill="#07663a"/>
<circle cx="451.7" cy="154.6" r="1.75" fill="#07663a"/>
<circle cx="452.2" cy="68.8" r="1.75" fill="#07663a"/>
<circle cx="452.8" cy="122.1" r="1.75" fill="#07663a"/>
<circle cx="453.3" cy="125.8" r="1.75" fill="#07663a"/>
<circle cx="453.6" cy="100.7" r="1.75" fill="#dc1438"/>
<circle cx="454.4" cy="172.6" r="1.75" fill="#07663a"/>
<circle cx="454.8" cy="43" r="1.75" fill="#07663a"/>
<circle cx="455.4" cy="180.8" r="1.75" fill="#dc1438"/>
<circle cx="456.1" cy="127.7" r="1.75" fill="#07663a"/>
<circle cx="456.3" cy="154.6" r="1.75" fill="#07663a"/>
<circle cx="457" cy="141" r="1.75" fill="#07663a"/>
<circle cx="457.6" cy="134" r="1.75" fill="#07663a"/>
<circle cx="458.2" cy="49" r="1.75" fill="#07663a"/>
<circle cx="458.6" cy="101.9" r="1.75" fill="#dc1438"/>
<circle cx="459.1" cy="121.6" r="1.75" fill="#07663a"/>
<circle cx="459.5" cy="178.8" r="1.75" fill="#07663a"/>
<circle cx="460.2" cy="118.4" r="1.75" fill="#dc1438"/>
<circle cx="460.6" cy="88.2" r="1.75" fill="#07663a"/>
<circle cx="461.2" cy="178.8" r="1.75" fill="#07663a"/>
<circle cx="462" cy="110.8" r="1.75" fill="#07663a"/>
<circle cx="462.4" cy="125.4" r="1.75" fill="#07663a"/>
<circle cx="462.8" cy="164.7" r="1.75" fill="#07663a"/>
<circle cx="463.3" cy="138.8" r="1.75" fill="#07663a"/>
<circle cx="463.9" cy="184.6" r="1.75" fill="#07663a"/>
<circle cx="464.2" cy="125.4" r="1.75" fill="#07663a"/>
<circle cx="464.2" cy="150.4" r="1.75" fill="#07663a"/>
<circle cx="464.7" cy="74.7" r="1.75" fill="#07663a"/>
<circle cx="464.7" cy="84.7" r="1.75" fill="#07663a"/>
<circle cx="466.6" cy="183" r="1.75" fill="#07663a"/>
<circle cx="467.2" cy="171.3" r="1.75" fill="#dc1438"/>
<circle cx="467.4" cy="111.9" r="1.75" fill="#07663a"/>
<circle cx="468.1" cy="175.3" r="1.75" fill="#dc1438"/>
<circle cx="468.8" cy="167.7" r="1.75" fill="#07663a"/>
<circle cx="469.2" cy="150.4" r="1.75" fill="#07663a"/>
<circle cx="469.7" cy="148.6" r="1.75" fill="#dc1438"/>
<circle cx="470.3" cy="187.2" r="1.75" fill="#07663a"/>
<circle cx="470.6" cy="163.8" r="1.75" fill="#dc1438"/>
<circle cx="471.4" cy="176.4" r="1.75" fill="#07663a"/>
<circle cx="471.7" cy="136.3" r="1.75" fill="#07663a"/>
<circle cx="472.4" cy="171.3" r="1.75" fill="#dc1438"/>
<circle cx="472.9" cy="186.3" r="1.75" fill="#07663a"/>
<circle cx="473.3" cy="140.2" r="1.75" fill="#07663a"/>
<circle cx="473.9" cy="87.7" r="1.75" fill="#07663a"/>
<circle cx="474.4" cy="165.8" r="1.75" fill="#07663a"/>
<circle cx="475" cy="119.3" r="1.75" fill="#07663a"/>
<circle cx="475.6" cy="138" r="1.75" fill="#dc1438"/>
<circle cx="476.1" cy="135.4" r="1.75" fill="#07663a"/>
<circle cx="476.5" cy="175" r="1.75" fill="#07663a"/>
<circle cx="477.2" cy="94.9" r="1.75" fill="#07663a"/>
<circle cx="477.4" cy="151.8" r="1.75" fill="#dc1438"/>
<circle cx="478.1" cy="185.7" r="1.75" fill="#07663a"/>
<circle cx="478.6" cy="149.9" r="1.75" fill="#07663a"/>
<circle cx="479.2" cy="136.3" r="1.75" fill="#07663a"/>
<circle cx="479.8" cy="187.9" r="1.75" fill="#07663a"/>
<circle cx="480.3" cy="64" r="1.75" fill="#07663a"/>
<circle cx="480.9" cy="158.2" r="1.75" fill="#07663a"/>
<circle cx="481.4" cy="144.3" r="1.75" fill="#07663a"/>
<circle cx="481.9" cy="155.2" r="1.75" fill="#dc1438"/>
<circle cx="482.3" cy="176.4" r="1.75" fill="#07663a"/>
<circle cx="483" cy="134" r="1.75" fill="#07663a"/>
<circle cx="483.4" cy="180" r="1.75" fill="#dc1438"/>
<circle cx="484.2" cy="191.2" r="1.75" fill="#07663a"/>
<circle cx="484.4" cy="138.8" r="1.75" fill="#07663a"/>
<circle cx="485" cy="107.4" r="1.75" fill="#07663a"/>
<circle cx="485.6" cy="175.5" r="1.75" fill="#07663a"/>
<circle cx="486.1" cy="39.9" r="1.75" fill="#07663a"/>
<circle cx="486.7" cy="126.6" r="1.75" fill="#07663a"/>
<circle cx="487.2" cy="133.2" r="1.75" fill="#dc1438"/>
<circle cx="487.6" cy="148.4" r="1.75" fill="#07663a"/>
<circle cx="488.3" cy="164" r="1.75" fill="#07663a"/>
<circle cx="488.9" cy="133.2" r="1.75" fill="#dc1438"/>
<circle cx="489.7" cy="156.2" r="1.75" fill="#07663a"/>
<circle cx="490" cy="191" r="1.75" fill="#07663a"/>
<circle cx="490.8" cy="121.8" r="1.75" fill="#07663a"/>
<circle cx="491.4" cy="89.3" r="1.75" fill="#07663a"/>
<circle cx="491.8" cy="177.3" r="1.75" fill="#07663a"/>
<circle cx="492.4" cy="166.8" r="1.75" fill="#07663a"/>
<circle cx="492.8" cy="136.9" r="1.75" fill="#07663a"/>
<circle cx="493.7" cy="130.2" r="1.75" fill="#07663a"/>
<circle cx="494.1" cy="164.9" r="1.75" fill="#dc1438"/>
<circle cx="494.4" cy="121.6" r="1.75" fill="#07663a"/>
<circle cx="495" cy="124.9" r="1.75" fill="#07663a"/>
<circle cx="495.6" cy="136.6" r="1.75" fill="#07663a"/>
<circle cx="496.3" cy="149.6" r="1.75" fill="#07663a"/>
<circle cx="496.7" cy="159.9" r="1.75" fill="#07663a"/>
<circle cx="497.2" cy="117.3" r="1.75" fill="#07663a"/>
<circle cx="497.8" cy="127.1" r="1.75" fill="#07663a"/>
<circle cx="498.3" cy="101.3" r="1.75" fill="#07663a"/>
<circle cx="498.3" cy="130.2" r="1.75" fill="#dc1438"/>
<circle cx="499.4" cy="99.9" r="1.75" fill="#07663a"/>
<circle cx="500" cy="161.3" r="1.75" fill="#07663a"/>
<circle cx="500.6" cy="131.8" r="1.75" fill="#07663a"/>
<circle cx="500.9" cy="68" r="1.75" fill="#07663a"/>
<circle cx="501.7" cy="178.6" r="1.75" fill="#07663a"/>
<circle cx="502" cy="148.8" r="1.75" fill="#07663a"/>
<circle cx="502.6" cy="154.3" r="1.75" fill="#07663a"/>
<circle cx="503" cy="108.6" r="1.75" fill="#07663a"/>
<circle cx="503.6" cy="143.6" r="1.75" fill="#07663a"/>
<circle cx="504.1" cy="90.7" r="1.75" fill="#07663a"/>
<circle cx="504.4" cy="157.1" r="1.75" fill="#07663a"/>
<circle cx="505.3" cy="178.6" r="1.75" fill="#07663a"/>
<circle cx="505.5" cy="173.4" r="1.75" fill="#07663a"/>
<circle cx="506.3" cy="107.4" r="1.75" fill="#07663a"/>
<circle cx="506.4" cy="166.9" r="1.75" fill="#dc1438"/>
<circle cx="507" cy="128.8" r="1.75" fill="#dc1438"/>
<circle cx="507.7" cy="185" r="1.75" fill="#dc1438"/>
<circle cx="508.2" cy="171.8" r="1.75" fill="#07663a"/>
<circle cx="508.8" cy="176.4" r="1.75" fill="#dc1438"/>
<circle cx="509.4" cy="142.7" r="1.75" fill="#07663a"/>
<circle cx="510" cy="129.6" r="1.75" fill="#07663a"/>
<circle cx="510.3" cy="135.4" r="1.75" fill="#07663a"/>
<circle cx="510.9" cy="96.3" r="1.75" fill="#dc1438"/>
<circle cx="511.5" cy="189.6" r="1.75" fill="#dc1438"/>
<circle cx="512.2" cy="159.9" r="1.75" fill="#07663a"/>
<circle cx="512.6" cy="123.8" r="1.75" fill="#07663a"/>
<circle cx="513" cy="114.3" r="1.75" fill="#dc1438"/>
<circle cx="513.7" cy="186.8" r="1.75" fill="#07663a"/>
<circle cx="514.2" cy="109.6" r="1.75" fill="#07663a"/>
<circle cx="514.7" cy="104.7" r="1.75" fill="#dc1438"/>
<circle cx="515.6" cy="63.4" r="1.75" fill="#07663a"/>
<circle cx="515.6" cy="114.6" r="1.75" fill="#07663a"/>
<circle cx="516.2" cy="180.6" r="1.75" fill="#07663a"/>
<circle cx="516.7" cy="117.1" r="1.75" fill="#07663a"/>
<circle cx="517.2" cy="96.6" r="1.75" fill="#07663a"/>
<circle cx="517.8" cy="159.3" r="1.75" fill="#dc1438"/>
<circle cx="518.4" cy="186.3" r="1.75" fill="#dc1438"/>
<circle cx="519.1" cy="98.6" r="1.75" fill="#07663a"/>
<circle cx="519.5" cy="178.4" r="1.75" fill="#dc1438"/>
<circle cx="520" cy="79" r="1.75" fill="#07663a"/>
<circle cx="520.6" cy="86.3" r="1.75" fill="#07663a"/>
<circle cx="520.9" cy="149.9" r="1.75" fill="#07663a"/>
<circle cx="521.4" cy="126.9" r="1.75" fill="#07663a"/>
<circle cx="521.9" cy="191.2" r="1.75" fill="#07663a"/>
<circle cx="522.8" cy="137.1" r="1.75" fill="#07663a"/>
<circle cx="523" cy="167.9" r="1.75" fill="#07663a"/>
<circle cx="524.1" cy="181.4" r="1.75" fill="#07663a"/>
<circle cx="524.8" cy="149" r="1.75" fill="#07663a"/>
<circle cx="525" cy="165.4" r="1.75" fill="#07663a"/>
<circle cx="525.6" cy="139.6" r="1.75" fill="#07663a"/>
<circle cx="526.3" cy="186.1" r="1.75" fill="#07663a"/>
<circle cx="526.9" cy="103.2" r="1.75" fill="#dc1438"/>
<circle cx="527.4" cy="168.5" r="1.75" fill="#dc1438"/>
<circle cx="527.8" cy="120.2" r="1.75" fill="#07663a"/>
<circle cx="528.3" cy="145.1" r="1.75" fill="#07663a"/>
<circle cx="528.9" cy="139.9" r="1.75" fill="#dc1438"/>
<circle cx="529.4" cy="174.5" r="1.75" fill="#dc1438"/>
<circle cx="530" cy="118.2" r="1.75" fill="#dc1438"/>
<circle cx="530.6" cy="151.3" r="1.75" fill="#07663a"/>
<circle cx="531.2" cy="175" r="1.75" fill="#07663a"/>
<circle cx="531.4" cy="114.3" r="1.75" fill="#07663a"/>
<circle cx="532" cy="56.6" r="1.75" fill="#07663a"/>
<circle cx="532.6" cy="143.6" r="1.75" fill="#07663a"/>
<circle cx="533.1" cy="104.1" r="1.75" fill="#07663a"/>
<circle cx="533.7" cy="163.8" r="1.75" fill="#07663a"/>
<circle cx="534.2" cy="70.2" r="1.75" fill="#07663a"/>
<circle cx="534.8" cy="140.7" r="1.75" fill="#07663a"/>
<circle cx="535.4" cy="169.3" r="1.75" fill="#07663a"/>
<circle cx="536" cy="179.2" r="1.75" fill="#07663a"/>
<circle cx="536.7" cy="122.9" r="1.75" fill="#07663a"/>
<circle cx="537" cy="119.1" r="1.75" fill="#dc1438"/>
<circle cx="537.4" cy="161" r="1.75" fill="#07663a"/>
<circle cx="537.8" cy="146.6" r="1.75" fill="#07663a"/>
<circle cx="538.1" cy="178.6" r="1.75" fill="#07663a"/>
<circle cx="538.9" cy="149.9" r="1.75" fill="#07663a"/>
<circle cx="538.9" cy="184.6" r="1.75" fill="#07663a"/>
<circle cx="539.5" cy="187.2" r="1.75" fill="#dc1438"/>
<circle cx="539.7" cy="62.1" r="1.75" fill="#07663a"/>
<circle cx="540.5" cy="184.6" r="1.75" fill="#07663a"/>
<circle cx="540.6" cy="149.9" r="1.75" fill="#07663a"/>
<circle cx="541.1" cy="187.9" r="1.75" fill="#07663a"/>
<circle cx="541.7" cy="108.6" r="1.75" fill="#dc1438"/>
<circle cx="542.2" cy="167.7" r="1.75" fill="#07663a"/>
<circle cx="542.4" cy="128" r="1.75" fill="#dc1438"/>
<circle cx="543.8" cy="171.3" r="1.75" fill="#dc1438"/>
<circle cx="543.9" cy="141.3" r="1.75" fill="#dc1438"/>
<circle cx="545" cy="139.9" r="1.75" fill="#07663a"/>
<circle cx="545.3" cy="190.1" r="1.75" fill="#dc1438"/>
<circle cx="546.4" cy="112.9" r="1.75" fill="#07663a"/>
<circle cx="547.1" cy="189" r="1.75" fill="#dc1438"/>
<circle cx="547.6" cy="165.8" r="1.75" fill="#07663a"/>
<circle cx="547.8" cy="148.8" r="1.75" fill="#07663a"/>
<circle cx="548.3" cy="119.3" r="1.75" fill="#07663a"/>
<circle cx="548.9" cy="131" r="1.75" fill="#dc1438"/>
<circle cx="549.7" cy="145.4" r="1.75" fill="#07663a"/>
<circle cx="550.2" cy="150.7" r="1.75" fill="#dc1438"/>
<circle cx="550.6" cy="121.8" r="1.75" fill="#07663a"/>
<circle cx="551.1" cy="131.6" r="1.75" fill="#dc1438"/>
<circle cx="551.7" cy="163.2" r="1.75" fill="#dc1438"/>
<circle cx="552.4" cy="170.4" r="1.75" fill="#07663a"/>
<circle cx="552.8" cy="139.3" r="1.75" fill="#07663a"/>
<circle cx="553.1" cy="178.1" r="1.75" fill="#07663a"/>
<circle cx="553.7" cy="190.7" r="1.75" fill="#dc1438"/>
<circle cx="554.2" cy="136.6" r="1.75" fill="#07663a"/>
<circle cx="554.7" cy="95.2" r="1.75" fill="#dc1438"/>
<circle cx="555.6" cy="164.9" r="1.75" fill="#07663a"/>
<circle cx="556.1" cy="121" r="1.75" fill="#07663a"/>
<circle cx="556.4" cy="147.7" r="1.75" fill="#dc1438"/>
<circle cx="556.9" cy="89.1" r="1.75" fill="#dc1438"/>
<circle cx="557.6" cy="94.1" r="1.75" fill="#07663a"/>
<circle cx="558" cy="114.9" r="1.75" fill="#07663a"/>
<circle cx="558.7" cy="161.6" r="1.75" fill="#dc1438"/>
<circle cx="559.1" cy="154.3" r="1.75" fill="#dc1438"/>
<circle cx="559.4" cy="150.7" r="1.75" fill="#07663a"/>
<circle cx="560.2" cy="72.4" r="1.75" fill="#07663a"/>
<circle cx="560.6" cy="148" r="1.75" fill="#dc1438"/>
<circle cx="561.4" cy="173.5" r="1.75" fill="#dc1438"/>
<circle cx="561.7" cy="152.4" r="1.75" fill="#07663a"/>
<circle cx="562.4" cy="167.4" r="1.75" fill="#dc1438"/>
<circle cx="562.8" cy="164.3" r="1.75" fill="#07663a"/>
<circle cx="563.1" cy="156.9" r="1.75" fill="#dc1438"/>
<circle cx="563.9" cy="102.1" r="1.75" fill="#07663a"/>
<circle cx="564.4" cy="179.7" r="1.75" fill="#dc1438"/>
<circle cx="565" cy="151.3" r="1.75" fill="#dc1438"/>
<circle cx="565.3" cy="157.9" r="1.75" fill="#07663a"/>
<circle cx="566.1" cy="148.4" r="1.75" fill="#07663a"/>
<circle cx="566.4" cy="154.9" r="1.75" fill="#dc1438"/>
<circle cx="566.8" cy="169.3" r="1.75" fill="#07663a"/>
<circle cx="567.6" cy="65.8" r="1.75" fill="#07663a"/>
<circle cx="568.1" cy="43.2" r="1.75" fill="#07663a"/>
<circle cx="568.7" cy="98.6" r="1.75" fill="#07663a"/>
<circle cx="569.1" cy="136.6" r="1.75" fill="#07663a"/>
<circle cx="569.4" cy="140.7" r="1.75" fill="#07663a"/>
<circle cx="570.2" cy="157.1" r="1.75" fill="#07663a"/>
<circle cx="570.6" cy="129.9" r="1.75" fill="#07663a"/>
<circle cx="571.7" cy="101.6" r="1.75" fill="#07663a"/>
<circle cx="571.7" cy="165.8" r="1.75" fill="#dc1438"/>
<circle cx="572.3" cy="179.2" r="1.75" fill="#07663a"/>
<circle cx="573.6" cy="106.6" r="1.75" fill="#dc1438"/>
<circle cx="573.9" cy="132.4" r="1.75" fill="#07663a"/>
<circle cx="574.4" cy="150.2" r="1.75" fill="#07663a"/>
<circle cx="574.8" cy="173.7" r="1.75" fill="#07663a"/>
<circle cx="575.6" cy="40.2" r="1.75" fill="#07663a"/>
<circle cx="575.9" cy="44.9" r="1.75" fill="#07663a"/>
<circle cx="576.4" cy="132.4" r="1.75" fill="#07663a"/>
<circle cx="577" cy="121" r="1.75" fill="#dc1438"/>
<circle cx="577.6" cy="151" r="1.75" fill="#dc1438"/>
<circle cx="578" cy="145.1" r="1.75" fill="#dc1438"/>
<circle cx="578.7" cy="53" r="1.75" fill="#07663a"/>
<circle cx="579.1" cy="161.6" r="1.75" fill="#07663a"/>
<circle cx="579.6" cy="171.2" r="1.75" fill="#07663a"/>
<circle cx="580.6" cy="120.4" r="1.75" fill="#07663a"/>
<circle cx="580.6" cy="138" r="1.75" fill="#07663a"/>
<circle cx="581.4" cy="188.5" r="1.75" fill="#dc1438"/>
<circle cx="581.6" cy="183.2" r="1.75" fill="#dc1438"/>
<circle cx="582.4" cy="157.7" r="1.75" fill="#dc1438"/>
<circle cx="582.8" cy="121" r="1.75" fill="#dc1438"/>
<circle cx="583.6" cy="177.3" r="1.75" fill="#07663a"/>
<circle cx="583.6" cy="184.6" r="1.75" fill="#dc1438"/>
<circle cx="584.4" cy="153.6" r="1.75" fill="#dc1438"/>
<circle cx="585" cy="67.3" r="1.75" fill="#07663a"/>
<circle cx="585.4" cy="170.1" r="1.75" fill="#07663a"/>
<circle cx="586.2" cy="186.8" r="1.75" fill="#07663a"/>
<circle cx="586.7" cy="157.7" r="1.75" fill="#07663a"/>
<circle cx="587.3" cy="184.6" r="1.75" fill="#dc1438"/>
<circle cx="587.6" cy="45.1" r="1.75" fill="#07663a"/>
<circle cx="588" cy="127.4" r="1.75" fill="#07663a"/>
<circle cx="588.7" cy="64.7" r="1.75" fill="#07663a"/>
<circle cx="589.3" cy="174.5" r="1.75" fill="#dc1438"/>
<circle cx="589.8" cy="135.8" r="1.75" fill="#07663a"/>
<circle cx="590.4" cy="178.8" r="1.75" fill="#07663a"/>
<circle cx="590.6" cy="144.9" r="1.75" fill="#07663a"/>
<circle cx="591.1" cy="119.3" r="1.75" fill="#07663a"/>
<circle cx="591.7" cy="68" r="1.75" fill="#07663a"/>
<circle cx="592.2" cy="137.1" r="1.75" fill="#07663a"/>
<circle cx="592.8" cy="121" r="1.75" fill="#07663a"/>
<circle cx="593.6" cy="149.6" r="1.75" fill="#07663a"/>
<circle cx="594.2" cy="135.4" r="1.75" fill="#07663a"/>
<circle cx="594.4" cy="154.3" r="1.75" fill="#07663a"/>
<circle cx="595.1" cy="178.8" r="1.75" fill="#07663a"/>
<circle cx="595.6" cy="189.6" r="1.75" fill="#dc1438"/>
<circle cx="596.1" cy="131.8" r="1.75" fill="#dc1438"/>
<circle cx="596.7" cy="123.2" r="1.75" fill="#07663a"/>
<circle cx="597.2" cy="171" r="1.75" fill="#dc1438"/>
<circle cx="597.6" cy="163.2" r="1.75" fill="#07663a"/>
<circle cx="598" cy="187.2" r="1.75" fill="#dc1438"/>
<circle cx="599.4" cy="52.3" r="1.75" fill="#07663a"/>
<circle cx="599.7" cy="171.2" r="1.75" fill="#07663a"/>
<circle cx="600.3" cy="143.2" r="1.75" fill="#dc1438"/>
<circle cx="600.4" cy="186.3" r="1.75" fill="#dc1438"/>
<circle cx="601.4" cy="156" r="1.75" fill="#07663a"/>
<circle cx="602" cy="160.4" r="1.75" fill="#07663a"/>
<circle cx="602.2" cy="183.9" r="1.75" fill="#dc1438"/>
<circle cx="603" cy="107.9" r="1.75" fill="#07663a"/>
<circle cx="603.6" cy="155.8" r="1.75" fill="#07663a"/>
<circle cx="604.1" cy="174.5" r="1.75" fill="#dc1438"/>
<circle cx="604.2" cy="136.9" r="1.75" fill="#dc1438"/>
<circle cx="605" cy="130.4" r="1.75" fill="#07663a"/>
<circle cx="605.6" cy="135.4" r="1.75" fill="#07663a"/>
<circle cx="606.1" cy="162.9" r="1.75" fill="#07663a"/>
<circle cx="606.6" cy="178.4" r="1.75" fill="#07663a"/>
<circle cx="607.3" cy="188.5" r="1.75" fill="#dc1438"/>
<circle cx="607.8" cy="111.2" r="1.75" fill="#07663a"/>
<circle cx="608.3" cy="139.1" r="1.75" fill="#dc1438"/>
<circle cx="608.8" cy="174.5" r="1.75" fill="#dc1438"/>
<circle cx="609.4" cy="122.1" r="1.75" fill="#07663a"/>
<circle cx="610.2" cy="164.9" r="1.75" fill="#dc1438"/>
<circle cx="610.6" cy="120.7" r="1.75" fill="#dc1438"/>
<circle cx="611.3" cy="128.2" r="1.75" fill="#dc1438"/>
<circle cx="612" cy="159.3" r="1.75" fill="#dc1438"/>
<circle cx="612.4" cy="152.1" r="1.75" fill="#dc1438"/>
<circle cx="612.8" cy="109.3" r="1.75" fill="#dc1438"/>
<circle cx="613.3" cy="112.7" r="1.75" fill="#07663a"/>
<circle cx="613.9" cy="180.3" r="1.75" fill="#dc1438"/>
<circle cx="614.4" cy="125.8" r="1.75" fill="#07663a"/>
<circle cx="614.7" cy="97.1" r="1.75" fill="#07663a"/>
<circle cx="616.3" cy="107.4" r="1.75" fill="#07663a"/>
<circle cx="616.7" cy="103.8" r="1.75" fill="#07663a"/>
<circle cx="617.3" cy="164.6" r="1.75" fill="#07663a"/>
<circle cx="617.8" cy="164.9" r="1.75" fill="#dc1438"/>
<circle cx="618.3" cy="139.3" r="1.75" fill="#dc1438"/>
<circle cx="618.7" cy="60.8" r="1.75" fill="#07663a"/>
<circle cx="619.9" cy="171.8" r="1.75" fill="#dc1438"/>
<circle cx="619.9" cy="179.9" r="1.75" fill="#dc1438"/>
<circle cx="621.1" cy="141.3" r="1.75" fill="#07663a"/>
<circle cx="621.4" cy="59.3" r="1.75" fill="#dc1438"/>
<circle cx="622" cy="159.6" r="1.75" fill="#dc1438"/>
<circle cx="622.6" cy="135.4" r="1.75" fill="#07663a"/>
<circle cx="623.3" cy="142.1" r="1.75" fill="#07663a"/>
<circle cx="623.6" cy="151.8" r="1.75" fill="#dc1438"/>
<circle cx="624.2" cy="150.4" r="1.75" fill="#07663a"/>
<circle cx="624.8" cy="189.8" r="1.75" fill="#dc1438"/>
<circle cx="625.3" cy="90.8" r="1.75" fill="#07663a"/>
<circle cx="625.8" cy="108.2" r="1.75" fill="#dc1438"/>
<circle cx="626.7" cy="85.1" r="1.75" fill="#07663a"/>
<circle cx="627.3" cy="169" r="1.75" fill="#07663a"/>
<circle cx="628" cy="156.2" r="1.75" fill="#07663a"/>
<circle cx="628.3" cy="115.8" r="1.75" fill="#07663a"/>
<circle cx="629.2" cy="168.2" r="1.75" fill="#07663a"/>
<circle cx="629.4" cy="89.7" r="1.75" fill="#07663a"/>
<circle cx="630" cy="101.8" r="1.75" fill="#07663a"/>
<circle cx="630.6" cy="173.1" r="1.75" fill="#07663a"/>
<circle cx="631.3" cy="132.4" r="1.75" fill="#dc1438"/>
<circle cx="631.7" cy="130.4" r="1.75" fill="#dc1438"/>
<circle cx="633" cy="175.9" r="1.75" fill="#dc1438"/>
<circle cx="633.6" cy="146" r="1.75" fill="#dc1438"/>
<circle cx="634.3" cy="185.7" r="1.75" fill="#07663a"/>
<circle cx="634.7" cy="147.7" r="1.75" fill="#dc1438"/>
<circle cx="635.3" cy="140.7" r="1.75" fill="#07663a"/>
<circle cx="635.8" cy="138.8" r="1.75" fill="#07663a"/>
<circle cx="636.4" cy="151.3" r="1.75" fill="#dc1438"/>
<circle cx="636.8" cy="185.7" r="1.75" fill="#dc1438"/>
<circle cx="637.9" cy="190.7" r="1.75" fill="#dc1438"/>
<circle cx="638.7" cy="161" r="1.75" fill="#dc1438"/>
<circle cx="639.1" cy="149.9" r="1.75" fill="#dc1438"/>
<circle cx="639.4" cy="118.2" r="1.75" fill="#dc1438"/>
<circle cx="640" cy="163.8" r="1.75" fill="#dc1438"/>
<circle cx="640.6" cy="102.9" r="1.75" fill="#07663a"/>
<circle cx="640.9" cy="169.9" r="1.75" fill="#dc1438"/>
<circle cx="641.7" cy="136.9" r="1.75" fill="#07663a"/>
<circle cx="642.2" cy="158.2" r="1.75" fill="#07663a"/>
<circle cx="642.6" cy="170.9" r="1.75" fill="#07663a"/>
<circle cx="643.3" cy="161.3" r="1.75" fill="#dc1438"/>
<circle cx="643.6" cy="133.6" r="1.75" fill="#dc1438"/>
<circle cx="644.2" cy="139.3" r="1.75" fill="#07663a"/>
<circle cx="644.8" cy="151" r="1.75" fill="#07663a"/>
<circle cx="645.3" cy="185.2" r="1.75" fill="#07663a"/>
<circle cx="645.8" cy="57.3" r="1.75" fill="#dc1438"/>
<circle cx="646.1" cy="163.6" r="1.75" fill="#07663a"/>
<circle cx="647" cy="175.3" r="1.75" fill="#dc1438"/>
<circle cx="647.8" cy="159.9" r="1.75" fill="#dc1438"/>
<circle cx="648" cy="132.3" r="1.75" fill="#dc1438"/>
<circle cx="648.7" cy="161.8" r="1.75" fill="#dc1438"/>
<circle cx="648.9" cy="170.4" r="1.75" fill="#dc1438"/>
<circle cx="649.6" cy="186.5" r="1.75" fill="#dc1438"/>
<circle cx="650.3" cy="185" r="1.75" fill="#07663a"/>
<circle cx="650.7" cy="180.6" r="1.75" fill="#dc1438"/>
<circle cx="651.4" cy="171.2" r="1.75" fill="#dc1438"/>
<circle cx="651.7" cy="113.8" r="1.75" fill="#dc1438"/>
<circle cx="652.2" cy="191.2" r="1.75" fill="#dc1438"/>
<circle cx="652.5" cy="179.2" r="1.75" fill="#dc1438"/>
<circle cx="653.3" cy="126.2" r="1.75" fill="#07663a"/>
<circle cx="653.8" cy="188.5" r="1.75" fill="#dc1438"/>
<circle cx="654.4" cy="121.6" r="1.75" fill="#07663a"/>
<circle cx="654.9" cy="173.7" r="1.75" fill="#07663a"/>
<circle cx="655.3" cy="156.9" r="1.75" fill="#dc1438"/>
<circle cx="655.9" cy="151.6" r="1.75" fill="#07663a"/>
<circle cx="656.4" cy="141.3" r="1.75" fill="#dc1438"/>
<circle cx="657.1" cy="186.3" r="1.75" fill="#dc1438"/>
<circle cx="657.6" cy="138.2" r="1.75" fill="#07663a"/>
<circle cx="658" cy="142.7" r="1.75" fill="#dc1438"/>
<circle cx="658.9" cy="133.2" r="1.75" fill="#dc1438"/>
<circle cx="659.2" cy="139.6" r="1.75" fill="#07663a"/>
<circle cx="659.5" cy="190.7" r="1.75" fill="#07663a"/>
<circle cx="660.2" cy="157.7" r="1.75" fill="#dc1438"/>
<circle cx="660.9" cy="133.2" r="1.75" fill="#dc1438"/>
<circle cx="661.5" cy="184.6" r="1.75" fill="#dc1438"/>
<circle cx="661.7" cy="170.9" r="1.75" fill="#dc1438"/>
<circle cx="662.2" cy="126" r="1.75" fill="#07663a"/>
<circle cx="662.8" cy="188.2" r="1.75" fill="#07663a"/>
<circle cx="663.3" cy="97.9" r="1.75" fill="#07663a"/>
<circle cx="663.6" cy="161.3" r="1.75" fill="#dc1438"/>
<circle cx="664.2" cy="185.7" r="1.75" fill="#dc1438"/>
<circle cx="664.7" cy="166" r="1.75" fill="#dc1438"/>
<circle cx="665.6" cy="163.2" r="1.75" fill="#dc1438"/>
<circle cx="665.8" cy="180.6" r="1.75" fill="#dc1438"/>
<circle cx="666.4" cy="146.3" r="1.75" fill="#dc1438"/>
<circle cx="667.6" cy="159.1" r="1.75" fill="#dc1438"/>
<circle cx="668" cy="156.9" r="1.75" fill="#dc1438"/>
<circle cx="668.6" cy="180" r="1.75" fill="#dc1438"/>
<circle cx="669.7" cy="189" r="1.75" fill="#dc1438"/>
<circle cx="669.7" cy="190.7" r="1.75" fill="#dc1438"/>
<circle cx="670" cy="168.2" r="1.75" fill="#dc1438"/>
<circle cx="670.6" cy="153.8" r="1.75" fill="#dc1438"/>
<circle cx="671.9" cy="179.5" r="1.75" fill="#dc1438"/>
<circle cx="671.9" cy="186.3" r="1.75" fill="#dc1438"/>
<circle cx="672.4" cy="183.5" r="1.75" fill="#dc1438"/>
<circle cx="673" cy="188.7" r="1.75" fill="#dc1438"/>
<circle cx="674.1" cy="191.2" r="1.75" fill="#dc1438"/>
<line x1="542.5" y1="16.2" x2="542.5" y2="198" stroke="#444" stroke-width="0.9" stroke-dasharray="1.8 1.8"/>
<rect x="390.5" y="16.2" width="293.8" height="181.8" fill="none" stroke="#6e6e6e" stroke-width="1"/>
<line x1="386.1" y1="192.8" x2="390.5" y2="192.8" stroke="#6e6e6e" stroke-width="1" />
<text x="380" y="192.8" font-size="7.3" fill="#222" stroke="#222" stroke-width="0.2" text-anchor="middle" transform="rotate(-90 380 192.8)" >0</text>
<line x1="386.1" y1="165.4" x2="390.5" y2="165.4" stroke="#6e6e6e" stroke-width="1" />
<text x="380" y="165.4" font-size="7.3" fill="#222" stroke="#222" stroke-width="0.2" text-anchor="middle" transform="rotate(-90 380 165.4)" >2</text>
<line x1="386.1" y1="138" x2="390.5" y2="138" stroke="#6e6e6e" stroke-width="1" />
<text x="380" y="138" font-size="7.3" fill="#222" stroke="#222" stroke-width="0.2" text-anchor="middle" transform="rotate(-90 380 138)" >4</text>
<line x1="386.1" y1="110.6" x2="390.5" y2="110.6" stroke="#6e6e6e" stroke-width="1" />
<text x="380" y="110.6" font-size="7.3" fill="#222" stroke="#222" stroke-width="0.2" text-anchor="middle" transform="rotate(-90 380 110.6)" >6</text>
<line x1="386.1" y1="83.2" x2="390.5" y2="83.2" stroke="#6e6e6e" stroke-width="1" />
<text x="380" y="83.2" font-size="7.3" fill="#222" stroke="#222" stroke-width="0.2" text-anchor="middle" transform="rotate(-90 380 83.2)" >8</text>
<line x1="386.1" y1="55.8" x2="390.5" y2="55.8" stroke="#6e6e6e" stroke-width="1" />
<text x="380" y="55.8" font-size="7.3" fill="#222" stroke="#222" stroke-width="0.2" text-anchor="middle" transform="rotate(-90 380 55.8)" >10</text>
<line x1="386.1" y1="28.4" x2="390.5" y2="28.4" stroke="#6e6e6e" stroke-width="1" />
<text x="380" y="28.4" font-size="7.3" fill="#222" stroke="#222" stroke-width="0.2" text-anchor="middle" transform="rotate(-90 380 28.4)" >12</text>
<line x1="401.2" y1="198" x2="401.2" y2="202.2" stroke="#6e6e6e" stroke-width="1" />
<text x="401.2" y="213.8" font-size="7.3" fill="#222" stroke="#222" stroke-width="0.2" text-anchor="middle" >0</text>
<line x1="454" y1="198" x2="454" y2="202.2" stroke="#6e6e6e" stroke-width="1" />
<text x="454" y="213.8" font-size="7.3" fill="#222" stroke="#222" stroke-width="0.2" text-anchor="middle" >100</text>
<line x1="506.8" y1="198" x2="506.8" y2="202.2" stroke="#6e6e6e" stroke-width="1" />
<text x="506.8" y="213.8" font-size="7.3" fill="#222" stroke="#222" stroke-width="0.2" text-anchor="middle" >200</text>
<line x1="559.6" y1="198" x2="559.6" y2="202.2" stroke="#6e6e6e" stroke-width="1" />
<text x="559.6" y="213.8" font-size="7.3" fill="#222" stroke="#222" stroke-width="0.2" text-anchor="middle" >300</text>
<line x1="612.4" y1="198" x2="612.4" y2="202.2" stroke="#6e6e6e" stroke-width="1" />
<text x="612.4" y="213.8" font-size="7.3" fill="#222" stroke="#222" stroke-width="0.2" text-anchor="middle" >400</text>
<line x1="665.2" y1="198" x2="665.2" y2="202.2" stroke="#6e6e6e" stroke-width="1" />
<text x="665.2" y="213.8" font-size="7.3" fill="#222" stroke="#222" stroke-width="0.2" text-anchor="middle" >500</text>
<text x="537.7" y="231.6" font-size="7.4" fill="#222" stroke="#222" stroke-width="0.2" text-anchor="middle" >Patients (increasing risk score)</text>
<text x="362.4" y="106.7" font-size="7.3" fill="#222" stroke="#222" stroke-width="0.2" text-anchor="middle" transform="rotate(-90 362.4 106.7)" >Survival time (years)</text>
<rect x="390.6" y="16.2" width="39.8" height="30.8" fill="none" stroke="#6e6e6e" stroke-width="1"/>
<circle cx="398.4" cy="26.4" r="2.15" fill="#dc1438"/>
<circle cx="398.4" cy="37" r="2.15" fill="#07663a"/>
<text x="406.8" y="29.4" font-size="8.5" fill="#111" stroke="#111" stroke-width="0.2" text-anchor="start" >Dead</text>
<text x="406.8" y="39.8" font-size="8.5" fill="#111" stroke="#111" stroke-width="0.2" text-anchor="start" >Alive</text>
<line x1="498.3" y1="262.4" x2="498.3" y2="383.4" stroke="#ececec" stroke-width="0.8" />
<line x1="515.4" y1="262.4" x2="515.4" y2="383.4" stroke="#f4f4f4" stroke-width="0.8" />
<line x1="532.5" y1="262.4" x2="532.5" y2="383.4" stroke="#ececec" stroke-width="0.8" />
<line x1="549.6" y1="262.4" x2="549.6" y2="383.4" stroke="#f4f4f4" stroke-width="0.8" />
<line x1="566.7" y1="262.4" x2="566.7" y2="383.4" stroke="#ececec" stroke-width="0.8" />
<line x1="583.8" y1="262.4" x2="583.8" y2="383.4" stroke="#f4f4f4" stroke-width="0.8" />
<line x1="600.9" y1="262.4" x2="600.9" y2="383.4" stroke="#ececec" stroke-width="0.8" />
<line x1="618" y1="262.4" x2="618" y2="383.4" stroke="#f4f4f4" stroke-width="0.8" />
<line x1="635.1" y1="262.4" x2="635.1" y2="383.4" stroke="#ececec" stroke-width="0.8" />
<line x1="652.2" y1="262.4" x2="652.2" y2="383.4" stroke="#f4f4f4" stroke-width="0.8" />
<line x1="669.3" y1="262.4" x2="669.3" y2="383.4" stroke="#ececec" stroke-width="0.8" />
<line x1="489.5" y1="378.3" x2="678.7" y2="378.3" stroke="#ececec" stroke-width="0.8" />
<line x1="489.5" y1="364.41" x2="678.7" y2="364.41" stroke="#f4f4f4" stroke-width="0.8" />
<line x1="489.5" y1="350.53" x2="678.7" y2="350.53" stroke="#ececec" stroke-width="0.8" />
<line x1="489.5" y1="336.64" x2="678.7" y2="336.64" stroke="#f4f4f4" stroke-width="0.8" />
<line x1="489.5" y1="322.75" x2="678.7" y2="322.75" stroke="#ececec" stroke-width="0.8" />
<line x1="489.5" y1="308.86" x2="678.7" y2="308.86" stroke="#f4f4f4" stroke-width="0.8" />
<line x1="489.5" y1="294.98" x2="678.7" y2="294.98" stroke="#ececec" stroke-width="0.8" />
<line x1="489.5" y1="281.09" x2="678.7" y2="281.09" stroke="#f4f4f4" stroke-width="0.8" />
<line x1="489.5" y1="267.2" x2="678.7" y2="267.2" stroke="#ececec" stroke-width="0.8" />
<polygon points="499,266.6 503.3,266.2 511.7,268.3 520,270.8 528.3,272.5 536.7,273.7 545,275.3 553.3,277.5 561.7,279.5 568,280.3 571.7,280.6 573,283.3 578.3,284.2 584,286.1 590,288.5 594,290.6 595,292 669.2,292 669.2,311.7 595,311.7 591,308.5 589,305 583,301 578.3,296.5 570,292.5 561.7,290 553.3,287.5 545,284.2 536.7,281.7 528.3,280 520,276.7 511.7,272.5 503.3,269.2 499,267.5" fill="#c4d9ef" fill-opacity="0.85"/>
<polygon points="499,267 503.3,270 511.7,276.7 520,282.5 528.3,288.3 536.7,295.8 545,303.3 553.3,310.8 558,314 560,319.4 569.5,320.8 573,323.8 583,328.9 595,329.6 600.9,332.2 631.5,333.2 634,335.4 652,335.4 652,361.7 634,361.7 632,357.3 632,350.8 600,350.8 595,348.6 584,345.7 570,338.4 560,334 558.3,326.7 553.3,323.3 545,318.3 536.7,312.5 528.3,304.2 520,295 511.7,287.5 503.3,276.7 499.5,269" fill="#f9e6b5" fill-opacity="0.85"/>
<polyline points="499.2,267.3 503.3,273.3 507.5,278.5 511.7,282.5 515.5,285.6 520,288.3 524,292 528.3,296.7 532.5,301 536.7,305 541,308.5 545,311.7 549,314.5 553.3,317.5 557.5,321.5 559,325.3 561,327.6 569.5,328.1 571,331.8 577.5,333.2 581.9,334 584.8,337.6 595,337.6 596.5,339.8 600.9,339.8 602.3,342.4 631.5,342.4 633,347.1 634.5,351.2 652,351.2" fill="none" stroke="#E7B800" stroke-width="1.3" stroke-linejoin="round"/>
<polyline points="499,266.9 503.3,267.6 508.3,269.6 512.8,270.9 517.2,272.7 521.7,274.4 526.1,275.8 530.6,276.7 536.7,278 543.9,279.2 548.3,280 553.3,281.7 555,282 560.6,284.4 566.1,286.2 570,286.5 571.7,286.7 572.8,289.4 577.2,290 579.4,291.7 583.9,293.3 588.3,295.6 590.6,298.9 595,301.9 598,302.2" fill="none" stroke="#2f8fd2" stroke-width="1.25" stroke-linejoin="round"/>
<line x1="598" y1="302.2" x2="669.2" y2="302.2" stroke="#2f8fd2" stroke-width="1.1" stroke-dasharray="2.2 1.2"/>
<line x1="576.45" y1="288.7" x2="576.45" y2="291.1" stroke="#2E9FDF" stroke-width="0.7" />
<line x1="594.6" y1="300.43" x2="594.6" y2="302.83" stroke="#2E9FDF" stroke-width="0.7" />
<line x1="656.19" y1="301" x2="656.19" y2="303.4" stroke="#2E9FDF" stroke-width="0.7" />
<line x1="578.69" y1="289.96" x2="578.69" y2="292.36" stroke="#2E9FDF" stroke-width="0.7" />
<line x1="585.83" y1="293.11" x2="585.83" y2="295.51" stroke="#2E9FDF" stroke-width="0.7" />
<line x1="599.27" y1="301" x2="599.27" y2="303.4" stroke="#2E9FDF" stroke-width="0.7" />
<line x1="531.21" y1="275.63" x2="531.21" y2="278.03" stroke="#2E9FDF" stroke-width="0.7" />
<line x1="586.51" y1="293.47" x2="586.51" y2="295.87" stroke="#2E9FDF" stroke-width="0.7" />
<line x1="606.45" y1="301" x2="606.45" y2="303.4" stroke="#2E9FDF" stroke-width="0.7" />
<line x1="634.01" y1="301" x2="634.01" y2="303.4" stroke="#2E9FDF" stroke-width="0.7" />
<line x1="515.91" y1="270.97" x2="515.91" y2="273.37" stroke="#2E9FDF" stroke-width="0.7" />
<line x1="551.27" y1="279.81" x2="551.27" y2="282.21" stroke="#2E9FDF" stroke-width="0.7" />
<line x1="515.32" y1="270.73" x2="515.32" y2="273.13" stroke="#2E9FDF" stroke-width="0.7" />
<line x1="636.83" y1="301" x2="636.83" y2="303.4" stroke="#2E9FDF" stroke-width="0.7" />
<line x1="617.19" y1="301" x2="617.19" y2="303.4" stroke="#2E9FDF" stroke-width="0.7" />
<line x1="507.08" y1="267.91" x2="507.08" y2="270.31" stroke="#2E9FDF" stroke-width="0.7" />
<line x1="665.99" y1="301" x2="665.99" y2="303.4" stroke="#2E9FDF" stroke-width="0.7" />
<line x1="663.04" y1="301" x2="663.04" y2="303.4" stroke="#2E9FDF" stroke-width="0.7" />
<line x1="610.51" y1="301" x2="610.51" y2="303.4" stroke="#2E9FDF" stroke-width="0.7" />
<line x1="604.03" y1="301" x2="604.03" y2="303.4" stroke="#2E9FDF" stroke-width="0.7" />
<line x1="526.62" y1="274.7" x2="526.62" y2="277.1" stroke="#2E9FDF" stroke-width="0.7" />
<line x1="502.54" y1="266.28" x2="502.54" y2="268.68" stroke="#2E9FDF" stroke-width="0.7" />
<line x1="589.3" y1="295.83" x2="589.3" y2="298.23" stroke="#2E9FDF" stroke-width="0.7" />
<line x1="510.06" y1="268.91" x2="510.06" y2="271.31" stroke="#2E9FDF" stroke-width="0.7" />
<line x1="532.15" y1="275.83" x2="532.15" y2="278.23" stroke="#2E9FDF" stroke-width="0.7" />
<line x1="540.89" y1="277.5" x2="540.89" y2="279.9" stroke="#2E9FDF" stroke-width="0.7" />
<line x1="505.08" y1="267.11" x2="505.08" y2="269.51" stroke="#2E9FDF" stroke-width="0.7" />
<line x1="578.4" y1="289.73" x2="578.4" y2="292.13" stroke="#2E9FDF" stroke-width="0.7" />
<line x1="574.45" y1="288.42" x2="574.45" y2="290.82" stroke="#2E9FDF" stroke-width="0.7" />
<line x1="642.37" y1="301" x2="642.37" y2="303.4" stroke="#2E9FDF" stroke-width="0.7" />
<line x1="587.73" y1="294.1" x2="587.73" y2="296.5" stroke="#2E9FDF" stroke-width="0.7" />
<line x1="608.21" y1="301" x2="608.21" y2="303.4" stroke="#2E9FDF" stroke-width="0.7" />
<line x1="584.46" y1="292.39" x2="584.46" y2="294.79" stroke="#2E9FDF" stroke-width="0.7" />
<line x1="611.95" y1="301" x2="611.95" y2="303.4" stroke="#2E9FDF" stroke-width="0.7" />
<line x1="577.29" y1="288.87" x2="577.29" y2="291.27" stroke="#2E9FDF" stroke-width="0.7" />
<line x1="547.01" y1="278.57" x2="547.01" y2="280.97" stroke="#2E9FDF" stroke-width="0.7" />
<line x1="668.6" y1="301" x2="668.6" y2="303.4" stroke="#2E9FDF" stroke-width="0.7" />
<line x1="668.27" y1="301" x2="668.27" y2="303.4" stroke="#2E9FDF" stroke-width="0.7" />
<line x1="642" y1="301" x2="642" y2="303.4" stroke="#2E9FDF" stroke-width="0.7" />
<line x1="619.62" y1="301" x2="619.62" y2="303.4" stroke="#2E9FDF" stroke-width="0.7" />
<line x1="553.28" y1="280.49" x2="553.28" y2="282.89" stroke="#2E9FDF" stroke-width="0.7" />
<line x1="538.81" y1="277.15" x2="538.81" y2="279.55" stroke="#2E9FDF" stroke-width="0.7" />
<line x1="548.85" y1="278.99" x2="548.85" y2="281.39" stroke="#2E9FDF" stroke-width="0.7" />
<line x1="511.87" y1="269.43" x2="511.87" y2="271.83" stroke="#2E9FDF" stroke-width="0.7" />
<line x1="629.5" y1="301" x2="629.5" y2="303.4" stroke="#2E9FDF" stroke-width="0.7" />
<line x1="567.67" y1="285.12" x2="567.67" y2="287.52" stroke="#2E9FDF" stroke-width="0.7" />
<line x1="643.07" y1="301" x2="643.07" y2="303.4" stroke="#2E9FDF" stroke-width="0.7" />
<line x1="565.32" y1="284.74" x2="565.32" y2="287.14" stroke="#2E9FDF" stroke-width="0.7" />
<line x1="661.91" y1="301" x2="661.91" y2="303.4" stroke="#2E9FDF" stroke-width="0.7" />
<line x1="643.2" y1="301" x2="643.2" y2="303.4" stroke="#2E9FDF" stroke-width="0.7" />
<line x1="500.09" y1="265.88" x2="500.09" y2="268.28" stroke="#2E9FDF" stroke-width="0.7" />
<line x1="535.44" y1="276.53" x2="535.44" y2="278.93" stroke="#2E9FDF" stroke-width="0.7" />
<line x1="653.84" y1="301" x2="653.84" y2="303.4" stroke="#2E9FDF" stroke-width="0.7" />
<line x1="579.43" y1="290.51" x2="579.43" y2="292.91" stroke="#2E9FDF" stroke-width="0.7" />
<line x1="665.68" y1="301" x2="665.68" y2="303.4" stroke="#2E9FDF" stroke-width="0.7" />
<line x1="567.16" y1="285.08" x2="567.16" y2="287.48" stroke="#2E9FDF" stroke-width="0.7" />
<line x1="512.34" y1="269.57" x2="512.34" y2="271.97" stroke="#2E9FDF" stroke-width="0.7" />
<line x1="606.38" y1="301" x2="606.38" y2="303.4" stroke="#2E9FDF" stroke-width="0.7" />
<line x1="631.57" y1="301" x2="631.57" y2="303.4" stroke="#2E9FDF" stroke-width="0.7" />
<line x1="545.59" y1="278.31" x2="545.59" y2="280.71" stroke="#2E9FDF" stroke-width="0.7" />
<line x1="517.81" y1="285.79" x2="517.81" y2="288.19" stroke="#E7B800" stroke-width="0.7" />
<line x1="553.89" y1="316.86" x2="553.89" y2="319.26" stroke="#E7B800" stroke-width="0.7" />
<line x1="646.72" y1="350" x2="646.72" y2="352.4" stroke="#E7B800" stroke-width="0.7" />
<line x1="616.43" y1="341.2" x2="616.43" y2="343.6" stroke="#E7B800" stroke-width="0.7" />
<line x1="522.34" y1="289.27" x2="522.34" y2="291.67" stroke="#E7B800" stroke-width="0.7" />
<line x1="541.22" y1="307.48" x2="541.22" y2="309.88" stroke="#E7B800" stroke-width="0.7" />
<line x1="519.85" y1="287.01" x2="519.85" y2="289.41" stroke="#E7B800" stroke-width="0.7" />
<line x1="513.8" y1="283.02" x2="513.8" y2="285.42" stroke="#E7B800" stroke-width="0.7" />
<line x1="622.16" y1="341.2" x2="622.16" y2="343.6" stroke="#E7B800" stroke-width="0.7" />
<line x1="531.12" y1="298.39" x2="531.12" y2="300.79" stroke="#E7B800" stroke-width="0.7" />
<line x1="587.22" y1="336.4" x2="587.22" y2="338.8" stroke="#E7B800" stroke-width="0.7" />
<line x1="570.77" y1="330.04" x2="570.77" y2="332.44" stroke="#E7B800" stroke-width="0.7" />
<line x1="533.03" y1="300.31" x2="533.03" y2="302.71" stroke="#E7B800" stroke-width="0.7" />
<line x1="612.59" y1="341.2" x2="612.59" y2="343.6" stroke="#E7B800" stroke-width="0.7" />
<line x1="524.25" y1="291.08" x2="524.25" y2="293.48" stroke="#E7B800" stroke-width="0.7" />
<line x1="599.63" y1="338.6" x2="599.63" y2="341" stroke="#E7B800" stroke-width="0.7" />
<line x1="522.13" y1="289.07" x2="522.13" y2="291.47" stroke="#E7B800" stroke-width="0.7" />
<line x1="566.85" y1="326.74" x2="566.85" y2="329.14" stroke="#E7B800" stroke-width="0.7" />
<line x1="536.29" y1="303.41" x2="536.29" y2="305.81" stroke="#E7B800" stroke-width="0.7" />
<line x1="544.66" y1="310.23" x2="544.66" y2="312.63" stroke="#E7B800" stroke-width="0.7" />
<line x1="647.73" y1="350" x2="647.73" y2="352.4" stroke="#E7B800" stroke-width="0.7" />
<line x1="623.1" y1="341.2" x2="623.1" y2="343.6" stroke="#E7B800" stroke-width="0.7" />
<line x1="549.71" y1="313.79" x2="549.71" y2="316.19" stroke="#E7B800" stroke-width="0.7" />
<line x1="635.08" y1="350" x2="635.08" y2="352.4" stroke="#E7B800" stroke-width="0.7" />
<line x1="535.97" y1="303.11" x2="535.97" y2="305.51" stroke="#E7B800" stroke-width="0.7" />
<line x1="562.96" y1="326.52" x2="562.96" y2="328.92" stroke="#E7B800" stroke-width="0.7" />
<line x1="630.59" y1="341.2" x2="630.59" y2="343.6" stroke="#E7B800" stroke-width="0.7" />
<line x1="599.35" y1="338.6" x2="599.35" y2="341" stroke="#E7B800" stroke-width="0.7" />
<line x1="519.75" y1="286.95" x2="519.75" y2="289.35" stroke="#E7B800" stroke-width="0.7" />
<line x1="650.43" y1="350" x2="650.43" y2="352.4" stroke="#E7B800" stroke-width="0.7" />
<line x1="498.3" y1="322.9" x2="557.7" y2="322.9" stroke="#333" stroke-width="0.9" stroke-dasharray="1.6 1.6"/>
<line x1="557.7" y1="322.9" x2="557.7" y2="378.3" stroke="#333" stroke-width="0.9" stroke-dasharray="1.6 1.6"/>
<rect x="489.5" y="262.4" width="189.2" height="121" fill="none" stroke="#777" stroke-width="0.9"/>
<line x1="488.2" y1="378.3" x2="489.5" y2="378.3" stroke="#333" stroke-width="0.7" />
<text transform="translate(487.6 379.8) scale(0.69 1)" font-size="4.6" fill="#555" stroke="#555" stroke-width="0.15" text-anchor="end">0.00</text>
<line x1="488.2" y1="350.53" x2="489.5" y2="350.53" stroke="#333" stroke-width="0.7" />
<text transform="translate(487.6 352.03) scale(0.69 1)" font-size="4.6" fill="#555" stroke="#555" stroke-width="0.15" text-anchor="end">0.25</text>
<line x1="488.2" y1="322.75" x2="489.5" y2="322.75" stroke="#333" stroke-width="0.7" />
<text transform="translate(487.6 324.25) scale(0.69 1)" font-size="4.6" fill="#555" stroke="#555" stroke-width="0.15" text-anchor="end">0.50</text>
<line x1="488.2" y1="294.98" x2="489.5" y2="294.98" stroke="#333" stroke-width="0.7" />
<text transform="translate(487.6 296.48) scale(0.69 1)" font-size="4.6" fill="#555" stroke="#555" stroke-width="0.15" text-anchor="end">0.75</text>
<line x1="488.2" y1="267.2" x2="489.5" y2="267.2" stroke="#333" stroke-width="0.7" />
<text transform="translate(487.6 268.7) scale(0.69 1)" font-size="4.6" fill="#555" stroke="#555" stroke-width="0.15" text-anchor="end">1.00</text>
<line x1="498.3" y1="383.4" x2="498.3" y2="384.7" stroke="#333" stroke-width="0.7" />
<text transform="translate(498.3 389.6) scale(0.69 1)" font-size="5" fill="#555" stroke="#555" stroke-width="0.15" text-anchor="middle">0</text>
<line x1="498.3" y1="436.5" x2="498.3" y2="437.8" stroke="#333" stroke-width="0.7" />
<text transform="translate(498.3 442.3) scale(0.69 1)" font-size="5" fill="#555" stroke="#555" stroke-width="0.15" text-anchor="middle">0</text>
<line x1="532.5" y1="383.4" x2="532.5" y2="384.7" stroke="#333" stroke-width="0.7" />
<text transform="translate(532.5 389.6) scale(0.69 1)" font-size="5" fill="#555" stroke="#555" stroke-width="0.15" text-anchor="middle">2.5</text>
<line x1="532.5" y1="436.5" x2="532.5" y2="437.8" stroke="#333" stroke-width="0.7" />
<text transform="translate(532.5 442.3) scale(0.69 1)" font-size="5" fill="#555" stroke="#555" stroke-width="0.15" text-anchor="middle">2.5</text>
<line x1="566.7" y1="383.4" x2="566.7" y2="384.7" stroke="#333" stroke-width="0.7" />
<text transform="translate(566.7 389.6) scale(0.69 1)" font-size="5" fill="#555" stroke="#555" stroke-width="0.15" text-anchor="middle">5</text>
<line x1="566.7" y1="436.5" x2="566.7" y2="437.8" stroke="#333" stroke-width="0.7" />
<text transform="translate(566.7 442.3) scale(0.69 1)" font-size="5" fill="#555" stroke="#555" stroke-width="0.15" text-anchor="middle">5</text>
<line x1="600.9" y1="383.4" x2="600.9" y2="384.7" stroke="#333" stroke-width="0.7" />
<text transform="translate(600.9 389.6) scale(0.69 1)" font-size="5" fill="#555" stroke="#555" stroke-width="0.15" text-anchor="middle">7.5</text>
<line x1="600.9" y1="436.5" x2="600.9" y2="437.8" stroke="#333" stroke-width="0.7" />
<text transform="translate(600.9 442.3) scale(0.69 1)" font-size="5" fill="#555" stroke="#555" stroke-width="0.15" text-anchor="middle">7.5</text>
<line x1="635.1" y1="383.4" x2="635.1" y2="384.7" stroke="#333" stroke-width="0.7" />
<text transform="translate(635.1 389.6) scale(0.69 1)" font-size="5" fill="#555" stroke="#555" stroke-width="0.15" text-anchor="middle">10</text>
<line x1="635.1" y1="436.5" x2="635.1" y2="437.8" stroke="#333" stroke-width="0.7" />
<text transform="translate(635.1 442.3) scale(0.69 1)" font-size="5" fill="#555" stroke="#555" stroke-width="0.15" text-anchor="middle">10</text>
<line x1="669.3" y1="383.4" x2="669.3" y2="384.7" stroke="#333" stroke-width="0.7" />
<text transform="translate(669.3 389.6) scale(0.69 1)" font-size="5" fill="#555" stroke="#555" stroke-width="0.15" text-anchor="middle">12.5</text>
<line x1="669.3" y1="436.5" x2="669.3" y2="437.8" stroke="#333" stroke-width="0.7" />
<text transform="translate(669.3 442.3) scale(0.69 1)" font-size="5" fill="#555" stroke="#555" stroke-width="0.15" text-anchor="middle">12.5</text>
<text transform="translate(584.1 395.8) scale(0.69 1)" font-size="5.6" fill="#222" stroke="#222" stroke-width="0.15" text-anchor="middle">Time(years)</text>
<text transform="translate(584.1 449) scale(0.69 1)" font-size="5.6" fill="#222" stroke="#222" stroke-width="0.15" text-anchor="middle">Time(years)</text>
<text transform="translate(472.4 322.3) rotate(-90) scale(1 0.69)" font-size="5.4" fill="#333" stroke="#333" stroke-width="0.05" text-anchor="middle">Survival probability</text>
<text transform="translate(505.5 358.7) scale(0.69 1)" font-size="7.6" fill="#111" stroke="#111" stroke-width="0.15" text-anchor="start">p &lt; 0.0001</text>
<text transform="translate(557 251.8) scale(0.69 1)" font-size="5.6" fill="#222" stroke="#222" stroke-width="0.15" text-anchor="start">Risk</text>
<rect x="567.2" y="245.6" width="5.8" height="8.2" fill="#E7B800" fill-opacity="0.25"/>
<line x1="567.2" y1="249.7" x2="573" y2="249.7" stroke="#E7B800" stroke-width="1.2" />
<text transform="translate(575.1 251.5) scale(0.69 1)" font-size="5" fill="#222" stroke="#222" stroke-width="0.15" text-anchor="start">risk=high</text>
<rect x="590.9" y="245.6" width="6" height="8.2" fill="#2E9FDF" fill-opacity="0.25"/>
<line x1="590.9" y1="249.7" x2="596.9" y2="249.7" stroke="#2E9FDF" stroke-width="1.2" />
<text transform="translate(598.8 251.5) scale(0.69 1)" font-size="5" fill="#222" stroke="#222" stroke-width="0.15" text-anchor="start">risk=low</text>
<line x1="498.3" y1="410.9" x2="498.3" y2="436.5" stroke="#ececec" stroke-width="0.8" />
<line x1="515.4" y1="410.9" x2="515.4" y2="436.5" stroke="#f4f4f4" stroke-width="0.8" />
<line x1="532.5" y1="410.9" x2="532.5" y2="436.5" stroke="#ececec" stroke-width="0.8" />
<line x1="549.6" y1="410.9" x2="549.6" y2="436.5" stroke="#f4f4f4" stroke-width="0.8" />
<line x1="566.7" y1="410.9" x2="566.7" y2="436.5" stroke="#ececec" stroke-width="0.8" />
<line x1="583.8" y1="410.9" x2="583.8" y2="436.5" stroke="#f4f4f4" stroke-width="0.8" />
<line x1="600.9" y1="410.9" x2="600.9" y2="436.5" stroke="#ececec" stroke-width="0.8" />
<line x1="618" y1="410.9" x2="618" y2="436.5" stroke="#f4f4f4" stroke-width="0.8" />
<line x1="635.1" y1="410.9" x2="635.1" y2="436.5" stroke="#ececec" stroke-width="0.8" />
<line x1="652.2" y1="410.9" x2="652.2" y2="436.5" stroke="#f4f4f4" stroke-width="0.8" />
<line x1="669.3" y1="410.9" x2="669.3" y2="436.5" stroke="#ececec" stroke-width="0.8" />
<line x1="489.5" y1="418.3" x2="678.7" y2="418.3" stroke="#ececec" stroke-width="0.8" />
<line x1="489.5" y1="429.7" x2="678.7" y2="429.7" stroke="#ececec" stroke-width="0.8" />
<rect x="489.5" y="410.9" width="189.2" height="25.6" fill="none" stroke="#777" stroke-width="0.9"/>
<text transform="translate(498.3 420.9) scale(0.69 1)" font-size="7.2" fill="#E7B800" stroke="#E7B800" stroke-width="0.15" text-anchor="middle">249</text>
<text transform="translate(498.3 432.3) scale(0.69 1)" font-size="7.2" fill="#2E9FDF" stroke="#2E9FDF" stroke-width="0.15" text-anchor="middle">268</text>
<text transform="translate(532.5 420.9) scale(0.69 1)" font-size="7.2" fill="#E7B800" stroke="#E7B800" stroke-width="0.15" text-anchor="middle">140</text>
<text transform="translate(532.5 432.3) scale(0.69 1)" font-size="7.2" fill="#2E9FDF" stroke="#2E9FDF" stroke-width="0.15" text-anchor="middle">183</text>
<text transform="translate(566.7 420.9) scale(0.69 1)" font-size="7.2" fill="#E7B800" stroke="#E7B800" stroke-width="0.15" text-anchor="middle">54</text>
<text transform="translate(566.7 432.3) scale(0.69 1)" font-size="7.2" fill="#2E9FDF" stroke="#2E9FDF" stroke-width="0.15" text-anchor="middle">95</text>
<text transform="translate(600.9 420.9) scale(0.69 1)" font-size="7.2" fill="#E7B800" stroke="#E7B800" stroke-width="0.15" text-anchor="middle">17</text>
<text transform="translate(600.9 432.3) scale(0.69 1)" font-size="7.2" fill="#2E9FDF" stroke="#2E9FDF" stroke-width="0.15" text-anchor="middle">36</text>
<text transform="translate(635.1 420.9) scale(0.69 1)" font-size="7.2" fill="#E7B800" stroke="#E7B800" stroke-width="0.15" text-anchor="middle">6</text>
<text transform="translate(635.1 432.3) scale(0.69 1)" font-size="7.2" fill="#2E9FDF" stroke="#2E9FDF" stroke-width="0.15" text-anchor="middle">7</text>
<text transform="translate(669.3 420.9) scale(0.69 1)" font-size="7.2" fill="#E7B800" stroke="#E7B800" stroke-width="0.15" text-anchor="middle">0</text>
<text transform="translate(669.3 432.3) scale(0.69 1)" font-size="7.2" fill="#2E9FDF" stroke="#2E9FDF" stroke-width="0.15" text-anchor="middle">0</text>
<line x1="488.2" y1="418.3" x2="489.5" y2="418.3" stroke="#333" stroke-width="0.7" />
<line x1="488.2" y1="429.7" x2="489.5" y2="429.7" stroke="#333" stroke-width="0.7" />
<text transform="translate(487.7 419.6) scale(0.69 1)" font-size="4.6" fill="#E7B800" stroke="#E7B800" stroke-width="0.15" text-anchor="end">risk=high</text>
<text transform="translate(487.7 431) scale(0.69 1)" font-size="4.6" fill="#2E9FDF" stroke="#2E9FDF" stroke-width="0.15" text-anchor="end">risk=low</text>
<text transform="translate(472.3 423.9) rotate(-90) scale(1 0.69)" font-size="5.4" fill="#222" stroke="#222" stroke-width="0.05" text-anchor="middle">Risk</text>
<text transform="translate(489.5 407) scale(0.69 1)" font-size="6.9" fill="#111" stroke="#111" stroke-width="0.15" text-anchor="start">Number at risk</text>
<circle cx="52.2" cy="243.8" r="1.6" fill="#223c9c"/>
<circle cx="32.4" cy="259.6" r="1.6" fill="#223c9c"/>
<circle cx="55.3" cy="264.4" r="1.6" fill="#223c9c"/>
<circle cx="55.6" cy="266.9" r="1.6" fill="#223c9c"/>
<circle cx="57.1" cy="269.6" r="1.6" fill="#223c9c"/>
<circle cx="76.2" cy="267.2" r="1.6" fill="#223c9c"/>
<circle cx="79.3" cy="272.9" r="1.6" fill="#223c9c"/>
<circle cx="98.4" cy="258.4" r="1.6" fill="#223c9c"/>
<circle cx="94.5" cy="264.2" r="1.6" fill="#223c9c"/>
<circle cx="97.8" cy="265" r="1.6" fill="#223c9c"/>
<circle cx="92.5" cy="268.6" r="1.6" fill="#223c9c"/>
<circle cx="53.8" cy="275.6" r="1.6" fill="#223c9c"/>
<circle cx="58.6" cy="277" r="1.6" fill="#223c9c"/>
<circle cx="60.4" cy="277.4" r="1.6" fill="#223c9c"/>
<circle cx="63.4" cy="275.3" r="1.6" fill="#223c9c"/>
<circle cx="67.6" cy="274.4" r="1.6" fill="#223c9c"/>
<circle cx="67" cy="278.2" r="1.6" fill="#223c9c"/>
<circle cx="61.6" cy="278.2" r="1.6" fill="#223c9c"/>
<circle cx="54.4" cy="279.4" r="1.6" fill="#223c9c"/>
<circle cx="85" cy="280.4" r="1.6" fill="#223c9c"/>
<circle cx="92.7" cy="279.8" r="1.6" fill="#223c9c"/>
<circle cx="47.8" cy="284" r="1.6" fill="#223c9c"/>
<circle cx="49" cy="287.6" r="1.6" fill="#223c9c"/>
<circle cx="70" cy="284.6" r="1.6" fill="#223c9c"/>
<circle cx="74.2" cy="287.6" r="1.6" fill="#223c9c"/>
<circle cx="83.2" cy="284.6" r="1.6" fill="#223c9c"/>
<circle cx="87.3" cy="284.6" r="1.6" fill="#223c9c"/>
<circle cx="89.7" cy="287" r="1.6" fill="#223c9c"/>
<circle cx="81.1" cy="287.8" r="1.6" fill="#223c9c"/>
<circle cx="60.4" cy="288.8" r="1.6" fill="#223c9c"/>
<circle cx="64" cy="287.8" r="1.6" fill="#223c9c"/>
<circle cx="37.9" cy="350.6" r="1.6" fill="#223c9c"/>
<circle cx="52.4" cy="338.5" r="1.6" fill="#223c9c"/>
<circle cx="49.3" cy="343.6" r="1.6" fill="#223c9c"/>
<circle cx="51.7" cy="338" r="1.6" fill="#223c9c"/>
<circle cx="54" cy="339.3" r="1.6" fill="#223c9c"/>
<circle cx="63.2" cy="304.15" r="1.6" fill="#223c9c"/>
<circle cx="74.33" cy="293.86" r="1.6" fill="#223c9c"/>
<circle cx="63.4" cy="313.73" r="1.6" fill="#223c9c"/>
<circle cx="61.77" cy="325.05" r="1.6" fill="#223c9c"/>
<circle cx="71.78" cy="305.95" r="1.6" fill="#223c9c"/>
<circle cx="68.7" cy="290.61" r="1.6" fill="#223c9c"/>
<circle cx="65.54" cy="314.09" r="1.6" fill="#223c9c"/>
<circle cx="66.46" cy="318.91" r="1.6" fill="#223c9c"/>
<circle cx="59.09" cy="318.23" r="1.6" fill="#223c9c"/>
<circle cx="64.24" cy="314.71" r="1.6" fill="#223c9c"/>
<circle cx="74.38" cy="307.72" r="1.6" fill="#223c9c"/>
<circle cx="81.86" cy="302.08" r="1.6" fill="#223c9c"/>
<circle cx="57.28" cy="304.96" r="1.6" fill="#223c9c"/>
<circle cx="53.33" cy="317.19" r="1.6" fill="#223c9c"/>
<circle cx="62.77" cy="319.9" r="1.6" fill="#223c9c"/>
<circle cx="68.41" cy="315.75" r="1.6" fill="#223c9c"/>
<circle cx="59.54" cy="314.34" r="1.6" fill="#223c9c"/>
<circle cx="69.93" cy="305.85" r="1.6" fill="#223c9c"/>
<circle cx="58.22" cy="308.42" r="1.6" fill="#223c9c"/>
<circle cx="74.01" cy="323.33" r="1.6" fill="#223c9c"/>
<circle cx="63.08" cy="326.74" r="1.6" fill="#223c9c"/>
<circle cx="72.64" cy="316.56" r="1.6" fill="#223c9c"/>
<circle cx="71.47" cy="303.01" r="1.6" fill="#223c9c"/>
<circle cx="61.35" cy="292.01" r="1.6" fill="#223c9c"/>
<circle cx="77.76" cy="305.05" r="1.6" fill="#223c9c"/>
<circle cx="71.55" cy="300.94" r="1.6" fill="#223c9c"/>
<circle cx="67.67" cy="325.62" r="1.6" fill="#223c9c"/>
<circle cx="69.73" cy="300.87" r="1.6" fill="#223c9c"/>
<circle cx="69.71" cy="311.27" r="1.6" fill="#223c9c"/>
<circle cx="78.44" cy="296.59" r="1.6" fill="#223c9c"/>
<circle cx="62.37" cy="306.79" r="1.6" fill="#223c9c"/>
<circle cx="74.51" cy="305.99" r="1.6" fill="#223c9c"/>
<circle cx="61.17" cy="287.79" r="1.6" fill="#223c9c"/>
<circle cx="59.24" cy="304.82" r="1.6" fill="#223c9c"/>
<circle cx="64.01" cy="309.52" r="1.6" fill="#223c9c"/>
<circle cx="72.68" cy="317.82" r="1.6" fill="#223c9c"/>
<circle cx="67.38" cy="309.05" r="1.6" fill="#223c9c"/>
<circle cx="65.27" cy="325.99" r="1.6" fill="#223c9c"/>
<circle cx="72.89" cy="320.34" r="1.6" fill="#223c9c"/>
<circle cx="67.17" cy="299.92" r="1.6" fill="#223c9c"/>
<circle cx="65.54" cy="291.3" r="1.6" fill="#223c9c"/>
<circle cx="70.29" cy="312.61" r="1.6" fill="#223c9c"/>
<circle cx="62.95" cy="337.02" r="1.6" fill="#223c9c"/>
<circle cx="58.64" cy="313.72" r="1.6" fill="#223c9c"/>
<circle cx="55.36" cy="313.03" r="1.6" fill="#223c9c"/>
<circle cx="64.85" cy="330.57" r="1.6" fill="#223c9c"/>
<circle cx="66.97" cy="312.45" r="1.6" fill="#223c9c"/>
<circle cx="72.79" cy="316.86" r="1.6" fill="#223c9c"/>
<circle cx="75.98" cy="296.14" r="1.6" fill="#223c9c"/>
<circle cx="68.7" cy="312.41" r="1.6" fill="#223c9c"/>
<circle cx="59.83" cy="318.9" r="1.6" fill="#223c9c"/>
<circle cx="64.76" cy="318.77" r="1.6" fill="#223c9c"/>
<circle cx="63.8" cy="317.49" r="1.6" fill="#223c9c"/>
<circle cx="75.92" cy="297.18" r="1.6" fill="#223c9c"/>
<circle cx="70.76" cy="325.31" r="1.6" fill="#223c9c"/>
<circle cx="54.37" cy="292.23" r="1.6" fill="#223c9c"/>
<circle cx="59.61" cy="315.7" r="1.6" fill="#223c9c"/>
<circle cx="82.09" cy="301.3" r="1.6" fill="#223c9c"/>
<circle cx="70.72" cy="296.95" r="1.6" fill="#223c9c"/>
<circle cx="65.71" cy="297.46" r="1.6" fill="#223c9c"/>
<circle cx="77.7" cy="308.32" r="1.6" fill="#223c9c"/>
<circle cx="80.5" cy="287.6" r="1.6" fill="#223c9c"/>
<circle cx="66.61" cy="324.61" r="1.6" fill="#223c9c"/>
<circle cx="66.54" cy="312.46" r="1.6" fill="#223c9c"/>
<circle cx="65.81" cy="315.29" r="1.6" fill="#223c9c"/>
<circle cx="68.26" cy="306.52" r="1.6" fill="#223c9c"/>
<circle cx="61.42" cy="300.48" r="1.6" fill="#223c9c"/>
<circle cx="72.93" cy="308.52" r="1.6" fill="#223c9c"/>
<circle cx="68.49" cy="325.06" r="1.6" fill="#223c9c"/>
<circle cx="60.56" cy="316.54" r="1.6" fill="#223c9c"/>
<circle cx="68.93" cy="320.99" r="1.6" fill="#223c9c"/>
<circle cx="69.18" cy="321.36" r="1.6" fill="#223c9c"/>
<circle cx="67.95" cy="305.89" r="1.6" fill="#223c9c"/>
<circle cx="66.14" cy="312.59" r="1.6" fill="#223c9c"/>
<circle cx="51.7" cy="320.94" r="1.6" fill="#223c9c"/>
<circle cx="74.85" cy="301.31" r="1.6" fill="#223c9c"/>
<circle cx="81.36" cy="292.2" r="1.6" fill="#223c9c"/>
<circle cx="69.71" cy="294.6" r="1.6" fill="#223c9c"/>
<circle cx="60.18" cy="304.07" r="1.6" fill="#223c9c"/>
<circle cx="72.53" cy="304.07" r="1.6" fill="#223c9c"/>
<circle cx="65.43" cy="321.71" r="1.6" fill="#223c9c"/>
<circle cx="72.66" cy="311.19" r="1.6" fill="#223c9c"/>
<circle cx="56.49" cy="312.72" r="1.6" fill="#223c9c"/>
<circle cx="69.61" cy="317.97" r="1.6" fill="#223c9c"/>
<circle cx="56.41" cy="314.54" r="1.6" fill="#223c9c"/>
<circle cx="72.3" cy="318.52" r="1.6" fill="#223c9c"/>
<circle cx="61.05" cy="311.17" r="1.6" fill="#223c9c"/>
<circle cx="68.48" cy="300.11" r="1.6" fill="#223c9c"/>
<circle cx="72.91" cy="306.95" r="1.6" fill="#223c9c"/>
<circle cx="63.35" cy="325.35" r="1.6" fill="#223c9c"/>
<circle cx="64.65" cy="314.27" r="1.6" fill="#223c9c"/>
<circle cx="76.84" cy="290.55" r="1.6" fill="#223c9c"/>
<circle cx="79.1" cy="305.86" r="1.6" fill="#223c9c"/>
<circle cx="70.37" cy="312.34" r="1.6" fill="#223c9c"/>
<circle cx="60.7" cy="303.71" r="1.6" fill="#223c9c"/>
<circle cx="66.78" cy="308.56" r="1.6" fill="#223c9c"/>
<circle cx="51.88" cy="308.64" r="1.6" fill="#223c9c"/>
<circle cx="72.36" cy="295.37" r="1.6" fill="#223c9c"/>
<circle cx="67.57" cy="317.64" r="1.6" fill="#223c9c"/>
<circle cx="73.39" cy="303.99" r="1.6" fill="#223c9c"/>
<circle cx="68.18" cy="312.71" r="1.6" fill="#223c9c"/>
<circle cx="71.04" cy="319.31" r="1.6" fill="#223c9c"/>
<circle cx="51.09" cy="310.48" r="1.6" fill="#223c9c"/>
<circle cx="60.22" cy="298.72" r="1.6" fill="#223c9c"/>
<circle cx="65.99" cy="306.87" r="1.6" fill="#223c9c"/>
<circle cx="62.48" cy="323.25" r="1.6" fill="#223c9c"/>
<circle cx="60.31" cy="311" r="1.6" fill="#223c9c"/>
<circle cx="75.29" cy="300.29" r="1.6" fill="#223c9c"/>
<circle cx="68.77" cy="295.43" r="1.6" fill="#223c9c"/>
<circle cx="63.56" cy="322.04" r="1.6" fill="#223c9c"/>
<circle cx="63.91" cy="300.97" r="1.6" fill="#223c9c"/>
<circle cx="68.36" cy="293.07" r="1.6" fill="#223c9c"/>
<circle cx="74.89" cy="301.99" r="1.6" fill="#223c9c"/>
<circle cx="60.27" cy="324.36" r="1.6" fill="#223c9c"/>
<circle cx="63.69" cy="292.43" r="1.6" fill="#223c9c"/>
<circle cx="65.17" cy="320.18" r="1.6" fill="#223c9c"/>
<circle cx="75.5" cy="288.56" r="1.6" fill="#223c9c"/>
<circle cx="80.91" cy="294.22" r="1.6" fill="#223c9c"/>
<circle cx="65.46" cy="329.23" r="1.6" fill="#223c9c"/>
<circle cx="73.45" cy="306.13" r="1.6" fill="#223c9c"/>
<circle cx="68.21" cy="321.74" r="1.6" fill="#223c9c"/>
<circle cx="55.78" cy="314.28" r="1.6" fill="#223c9c"/>
<circle cx="66.84" cy="304.43" r="1.6" fill="#223c9c"/>
<circle cx="66.01" cy="319.55" r="1.6" fill="#223c9c"/>
<circle cx="66.05" cy="317.04" r="1.6" fill="#223c9c"/>
<circle cx="68.95" cy="312.03" r="1.6" fill="#223c9c"/>
<circle cx="61.93" cy="307.02" r="1.6" fill="#223c9c"/>
<circle cx="61.61" cy="301.66" r="1.6" fill="#223c9c"/>
<circle cx="61.41" cy="329.86" r="1.6" fill="#223c9c"/>
<circle cx="59.59" cy="317.69" r="1.6" fill="#223c9c"/>
<circle cx="70.44" cy="311.77" r="1.6" fill="#223c9c"/>
<circle cx="63.89" cy="316.27" r="1.6" fill="#223c9c"/>
<circle cx="66.68" cy="311.56" r="1.6" fill="#223c9c"/>
<circle cx="66.27" cy="323.08" r="1.6" fill="#223c9c"/>
<circle cx="57.6" cy="298.32" r="1.6" fill="#223c9c"/>
<circle cx="70.41" cy="306.27" r="1.6" fill="#223c9c"/>
<circle cx="66.32" cy="312.83" r="1.6" fill="#223c9c"/>
<circle cx="66.72" cy="310.97" r="1.6" fill="#223c9c"/>
<circle cx="55.28" cy="304.16" r="1.6" fill="#223c9c"/>
<circle cx="69.37" cy="312.67" r="1.6" fill="#223c9c"/>
<circle cx="61.73" cy="337.14" r="1.6" fill="#223c9c"/>
<circle cx="70.52" cy="311.03" r="1.6" fill="#223c9c"/>
<circle cx="82" cy="301.55" r="1.6" fill="#223c9c"/>
<circle cx="72.35" cy="295.91" r="1.6" fill="#223c9c"/>
<circle cx="65.02" cy="304.51" r="1.6" fill="#223c9c"/>
<circle cx="74.01" cy="295.45" r="1.6" fill="#223c9c"/>
<circle cx="68.43" cy="319.24" r="1.6" fill="#223c9c"/>
<circle cx="63.89" cy="316.95" r="1.6" fill="#223c9c"/>
<circle cx="76.27" cy="304.93" r="1.6" fill="#223c9c"/>
<circle cx="62.91" cy="304.63" r="1.6" fill="#223c9c"/>
<circle cx="66.08" cy="319.77" r="1.6" fill="#223c9c"/>
<circle cx="67.29" cy="323.7" r="1.6" fill="#223c9c"/>
<circle cx="78.11" cy="307.73" r="1.6" fill="#223c9c"/>
<circle cx="76.13" cy="315.58" r="1.6" fill="#223c9c"/>
<circle cx="63.07" cy="328.58" r="1.6" fill="#223c9c"/>
<circle cx="64.24" cy="303.79" r="1.6" fill="#223c9c"/>
<circle cx="61.41" cy="312.02" r="1.6" fill="#223c9c"/>
<circle cx="55.9" cy="301.88" r="1.6" fill="#223c9c"/>
<circle cx="62.03" cy="315.28" r="1.6" fill="#223c9c"/>
<circle cx="72.87" cy="308.69" r="1.6" fill="#223c9c"/>
<circle cx="71.87" cy="296.91" r="1.6" fill="#223c9c"/>
<circle cx="74.9" cy="308.04" r="1.6" fill="#223c9c"/>
<circle cx="65.88" cy="323.93" r="1.6" fill="#223c9c"/>
<circle cx="64.95" cy="307.47" r="1.6" fill="#223c9c"/>
<circle cx="73.4" cy="298.77" r="1.6" fill="#223c9c"/>
<circle cx="74.53" cy="291.41" r="1.6" fill="#223c9c"/>
<circle cx="81.09" cy="285.47" r="1.6" fill="#223c9c"/>
<circle cx="66.76" cy="300.82" r="1.6" fill="#223c9c"/>
<circle cx="64.63" cy="303.9" r="1.6" fill="#223c9c"/>
<circle cx="68.68" cy="319.82" r="1.6" fill="#223c9c"/>
<circle cx="70.53" cy="314.78" r="1.6" fill="#223c9c"/>
<circle cx="55.34" cy="319.52" r="1.6" fill="#223c9c"/>
<circle cx="67.14" cy="309.77" r="1.6" fill="#223c9c"/>
<circle cx="67.22" cy="325.98" r="1.6" fill="#223c9c"/>
<circle cx="62.32" cy="319.94" r="1.6" fill="#223c9c"/>
<circle cx="64.91" cy="293.16" r="1.6" fill="#223c9c"/>
<circle cx="69.43" cy="330.09" r="1.6" fill="#223c9c"/>
<circle cx="64.81" cy="292.76" r="1.6" fill="#223c9c"/>
<circle cx="62.36" cy="327.01" r="1.6" fill="#223c9c"/>
<circle cx="67.07" cy="319.86" r="1.6" fill="#223c9c"/>
<circle cx="70.47" cy="316.54" r="1.6" fill="#223c9c"/>
<circle cx="53.49" cy="306.53" r="1.6" fill="#223c9c"/>
<circle cx="66.05" cy="309.16" r="1.6" fill="#223c9c"/>
<circle cx="67.54" cy="322.2" r="1.6" fill="#223c9c"/>
<circle cx="57.34" cy="326.37" r="1.6" fill="#223c9c"/>
<circle cx="69.64" cy="295.41" r="1.6" fill="#223c9c"/>
<circle cx="66.68" cy="322.83" r="1.6" fill="#223c9c"/>
<circle cx="78.72" cy="307.73" r="1.6" fill="#223c9c"/>
<circle cx="71.24" cy="306.78" r="1.6" fill="#223c9c"/>
<circle cx="73.22" cy="311.45" r="1.6" fill="#223c9c"/>
<circle cx="50.36" cy="316.13" r="1.6" fill="#223c9c"/>
<circle cx="65.65" cy="312.24" r="1.6" fill="#223c9c"/>
<circle cx="69.61" cy="311.15" r="1.6" fill="#223c9c"/>
<circle cx="67.78" cy="310.98" r="1.6" fill="#223c9c"/>
<circle cx="62.36" cy="309.09" r="1.6" fill="#223c9c"/>
<circle cx="62.21" cy="321.39" r="1.6" fill="#223c9c"/>
<circle cx="72.94" cy="322.92" r="1.6" fill="#223c9c"/>
<circle cx="70.53" cy="318.29" r="1.6" fill="#223c9c"/>
<circle cx="67.28" cy="322.25" r="1.6" fill="#223c9c"/>
<circle cx="65.65" cy="312.67" r="1.6" fill="#223c9c"/>
<circle cx="73.46" cy="315.47" r="1.6" fill="#223c9c"/>
<circle cx="70.5" cy="324.49" r="1.6" fill="#223c9c"/>
<circle cx="76.84" cy="299.6" r="1.6" fill="#223c9c"/>
<circle cx="71.83" cy="296.66" r="1.6" fill="#223c9c"/>
<circle cx="58.89" cy="301.34" r="1.6" fill="#223c9c"/>
<circle cx="70.2" cy="297.72" r="1.6" fill="#223c9c"/>
<circle cx="68.81" cy="331.09" r="1.6" fill="#223c9c"/>
<circle cx="50.77" cy="309.62" r="1.6" fill="#223c9c"/>
<circle cx="68.83" cy="305.09" r="1.6" fill="#223c9c"/>
<circle cx="60.12" cy="320.58" r="1.6" fill="#223c9c"/>
<circle cx="66.92" cy="309.87" r="1.6" fill="#223c9c"/>
<circle cx="75.95" cy="312.46" r="1.6" fill="#223c9c"/>
<circle cx="66.46" cy="301.02" r="1.6" fill="#223c9c"/>
<circle cx="70.78" cy="326.16" r="1.6" fill="#223c9c"/>
<circle cx="64.54" cy="298.23" r="1.6" fill="#223c9c"/>
<circle cx="66.62" cy="302.57" r="1.6" fill="#223c9c"/>
<circle cx="67.72" cy="324.8" r="1.6" fill="#223c9c"/>
<circle cx="76.53" cy="303.55" r="1.6" fill="#223c9c"/>
<circle cx="72.48" cy="311.5" r="1.6" fill="#223c9c"/>
<circle cx="64.22" cy="321.47" r="1.6" fill="#223c9c"/>
<circle cx="76.33" cy="311.75" r="1.6" fill="#223c9c"/>
<circle cx="61.85" cy="331.68" r="1.6" fill="#223c9c"/>
<circle cx="70.73" cy="306.98" r="1.6" fill="#223c9c"/>
<circle cx="67.57" cy="297.07" r="1.6" fill="#223c9c"/>
<circle cx="52.3" cy="316.71" r="1.6" fill="#223c9c"/>
<circle cx="74.32" cy="302.41" r="1.6" fill="#223c9c"/>
<circle cx="72.92" cy="320.37" r="1.6" fill="#223c9c"/>
<circle cx="63.93" cy="304.15" r="1.6" fill="#223c9c"/>
<circle cx="97.3" cy="283.7" r="1.6" fill="#dc143c"/>
<circle cx="100.8" cy="287.8" r="1.6" fill="#dc143c"/>
<circle cx="95.1" cy="288.8" r="1.6" fill="#dc143c"/>
<circle cx="104.1" cy="286.4" r="1.6" fill="#dc143c"/>
<circle cx="130.8" cy="257.6" r="1.6" fill="#dc143c"/>
<circle cx="114.7" cy="282.2" r="1.6" fill="#dc143c"/>
<circle cx="121.9" cy="282.4" r="1.6" fill="#dc143c"/>
<circle cx="124.9" cy="282.5" r="1.6" fill="#dc143c"/>
<circle cx="121.3" cy="284.9" r="1.6" fill="#dc143c"/>
<circle cx="108.2" cy="287.6" r="1.6" fill="#dc143c"/>
<circle cx="170.9" cy="293.5" r="1.6" fill="#dc143c"/>
<circle cx="144.3" cy="301.7" r="1.6" fill="#dc143c"/>
<circle cx="134.5" cy="304.5" r="1.6" fill="#dc143c"/>
<circle cx="127.9" cy="303.3" r="1.6" fill="#dc143c"/>
<circle cx="135.3" cy="322.9" r="1.6" fill="#dc143c"/>
<circle cx="145.5" cy="365.1" r="1.6" fill="#dc143c"/>
<circle cx="121.6" cy="383.5" r="1.6" fill="#dc143c"/>
<circle cx="127.5" cy="405" r="1.6" fill="#dc143c"/>
<circle cx="92.3" cy="346.7" r="1.6" fill="#dc143c"/>
<circle cx="111.1" cy="342.4" r="1.6" fill="#dc143c"/>
<circle cx="113.4" cy="330.3" r="1.6" fill="#dc143c"/>
<circle cx="115" cy="317.4" r="1.6" fill="#dc143c"/>
<circle cx="114" cy="330.3" r="1.6" fill="#dc143c"/>
<circle cx="114.7" cy="318.3" r="1.6" fill="#dc143c"/>
<circle cx="112.7" cy="317.3" r="1.6" fill="#dc143c"/>
<circle cx="122.7" cy="311.3" r="1.6" fill="#dc143c"/>
<circle cx="109.3" cy="312" r="1.6" fill="#dc143c"/>
<circle cx="94.58" cy="316.98" r="1.6" fill="#dc143c"/>
<circle cx="89.88" cy="329.95" r="1.6" fill="#dc143c"/>
<circle cx="92.83" cy="324.62" r="1.6" fill="#dc143c"/>
<circle cx="77.92" cy="328.39" r="1.6" fill="#dc143c"/>
<circle cx="89.74" cy="308.62" r="1.6" fill="#dc143c"/>
<circle cx="85.78" cy="309.46" r="1.6" fill="#dc143c"/>
<circle cx="97.24" cy="317.22" r="1.6" fill="#dc143c"/>
<circle cx="80.74" cy="327.7" r="1.6" fill="#dc143c"/>
<circle cx="93.89" cy="324.7" r="1.6" fill="#dc143c"/>
<circle cx="92.8" cy="304.28" r="1.6" fill="#dc143c"/>
<circle cx="89.77" cy="309.72" r="1.6" fill="#dc143c"/>
<circle cx="101.24" cy="324.63" r="1.6" fill="#dc143c"/>
<circle cx="86.08" cy="329.69" r="1.6" fill="#dc143c"/>
<circle cx="89.51" cy="309.38" r="1.6" fill="#dc143c"/>
<circle cx="100.09" cy="311.42" r="1.6" fill="#dc143c"/>
<circle cx="75.74" cy="338.18" r="1.6" fill="#dc143c"/>
<circle cx="89.98" cy="327.37" r="1.6" fill="#dc143c"/>
<circle cx="87.28" cy="311.26" r="1.6" fill="#dc143c"/>
<circle cx="90.59" cy="318.01" r="1.6" fill="#dc143c"/>
<circle cx="72.25" cy="322.21" r="1.6" fill="#dc143c"/>
<circle cx="84.08" cy="324.99" r="1.6" fill="#dc143c"/>
<circle cx="87.94" cy="313.9" r="1.6" fill="#dc143c"/>
<circle cx="92.15" cy="316.28" r="1.6" fill="#dc143c"/>
<circle cx="96.39" cy="332.56" r="1.6" fill="#dc143c"/>
<circle cx="108.41" cy="314.24" r="1.6" fill="#dc143c"/>
<circle cx="81.73" cy="322.43" r="1.6" fill="#dc143c"/>
<circle cx="88.4" cy="324.55" r="1.6" fill="#dc143c"/>
<circle cx="97.89" cy="323.07" r="1.6" fill="#dc143c"/>
<circle cx="86" cy="306.75" r="1.6" fill="#dc143c"/>
<circle cx="86.27" cy="323.12" r="1.6" fill="#dc143c"/>
<circle cx="78.69" cy="319.88" r="1.6" fill="#dc143c"/>
<circle cx="80.2" cy="326.71" r="1.6" fill="#dc143c"/>
<circle cx="97.45" cy="320.86" r="1.6" fill="#dc143c"/>
<circle cx="97.56" cy="316.65" r="1.6" fill="#dc143c"/>
<circle cx="81.72" cy="332.64" r="1.6" fill="#dc143c"/>
<circle cx="96.47" cy="312.3" r="1.6" fill="#dc143c"/>
<circle cx="85.11" cy="316.79" r="1.6" fill="#dc143c"/>
<circle cx="82.28" cy="333.2" r="1.6" fill="#dc143c"/>
<circle cx="82.77" cy="315.68" r="1.6" fill="#dc143c"/>
<circle cx="85.57" cy="337.38" r="1.6" fill="#dc143c"/>
<circle cx="72.13" cy="316.6" r="1.6" fill="#dc143c"/>
<circle cx="86.25" cy="333.6" r="1.6" fill="#dc143c"/>
<circle cx="89.13" cy="310.56" r="1.6" fill="#dc143c"/>
<circle cx="88.37" cy="311.94" r="1.6" fill="#dc143c"/>
<circle cx="83.98" cy="313.27" r="1.6" fill="#dc143c"/>
<circle cx="74.85" cy="320.97" r="1.6" fill="#dc143c"/>
<circle cx="91.82" cy="317.18" r="1.6" fill="#dc143c"/>
<circle cx="80.47" cy="319.92" r="1.6" fill="#dc143c"/>
<circle cx="91.09" cy="324.8" r="1.6" fill="#dc143c"/>
<circle cx="79.29" cy="308.08" r="1.6" fill="#dc143c"/>
<circle cx="97.64" cy="312.64" r="1.6" fill="#dc143c"/>
<circle cx="102.55" cy="312.33" r="1.6" fill="#dc143c"/>
<circle cx="89.97" cy="315.23" r="1.6" fill="#dc143c"/>
<circle cx="68.52" cy="330.55" r="1.6" fill="#dc143c"/>
<circle cx="82.64" cy="323.26" r="1.6" fill="#dc143c"/>
<circle cx="93.69" cy="335.85" r="1.6" fill="#dc143c"/>
<circle cx="75.11" cy="316.58" r="1.6" fill="#dc143c"/>
<circle cx="76.77" cy="326.53" r="1.6" fill="#dc143c"/>
<circle cx="87.64" cy="320.05" r="1.6" fill="#dc143c"/>
<circle cx="82.65" cy="309.76" r="1.6" fill="#dc143c"/>
<circle cx="92.04" cy="308.98" r="1.6" fill="#dc143c"/>
<circle cx="84.07" cy="314.74" r="1.6" fill="#dc143c"/>
<circle cx="84.51" cy="318.69" r="1.6" fill="#dc143c"/>
<circle cx="109.23" cy="310.14" r="1.6" fill="#dc143c"/>
<circle cx="93.36" cy="319.8" r="1.6" fill="#dc143c"/>
<circle cx="85.54" cy="315.86" r="1.6" fill="#dc143c"/>
<circle cx="85.91" cy="310.36" r="1.6" fill="#dc143c"/>
<circle cx="84.8" cy="309.13" r="1.6" fill="#dc143c"/>
<circle cx="71.52" cy="320.72" r="1.6" fill="#dc143c"/>
<circle cx="102.38" cy="316.28" r="1.6" fill="#dc143c"/>
<circle cx="75.36" cy="319.79" r="1.6" fill="#dc143c"/>
<circle cx="102.67" cy="328.11" r="1.6" fill="#dc143c"/>
<circle cx="88.79" cy="300.3" r="1.6" fill="#dc143c"/>
<circle cx="96.62" cy="318.63" r="1.6" fill="#dc143c"/>
<circle cx="94.25" cy="323.5" r="1.6" fill="#dc143c"/>
<circle cx="91.3" cy="308.53" r="1.6" fill="#dc143c"/>
<circle cx="78.03" cy="329.18" r="1.6" fill="#dc143c"/>
<circle cx="85.59" cy="317.85" r="1.6" fill="#dc143c"/>
<circle cx="94.22" cy="319.01" r="1.6" fill="#dc143c"/>
<circle cx="87.44" cy="313.25" r="1.6" fill="#dc143c"/>
<circle cx="92.2" cy="321.84" r="1.6" fill="#dc143c"/>
<circle cx="89.91" cy="317.33" r="1.6" fill="#dc143c"/>
<circle cx="77.52" cy="326.96" r="1.6" fill="#dc143c"/>
<circle cx="90.42" cy="319.4" r="1.6" fill="#dc143c"/>
<circle cx="75.32" cy="319.78" r="1.6" fill="#dc143c"/>
<circle cx="90.15" cy="300.88" r="1.6" fill="#dc143c"/>
<circle cx="75.8" cy="313.51" r="1.6" fill="#dc143c"/>
<circle cx="88.41" cy="310.96" r="1.6" fill="#dc143c"/>
<circle cx="91.37" cy="322.36" r="1.6" fill="#dc143c"/>
<circle cx="76.26" cy="328.15" r="1.6" fill="#dc143c"/>
<circle cx="78.31" cy="315.23" r="1.6" fill="#dc143c"/>
<circle cx="81.33" cy="311.09" r="1.6" fill="#dc143c"/>
<circle cx="99.52" cy="333.76" r="1.6" fill="#dc143c"/>
<circle cx="83.69" cy="319.97" r="1.6" fill="#dc143c"/>
<circle cx="89.59" cy="310.67" r="1.6" fill="#dc143c"/>
<circle cx="83.38" cy="318.18" r="1.6" fill="#dc143c"/>
<circle cx="83.31" cy="329.06" r="1.6" fill="#dc143c"/>
<circle cx="98.86" cy="305.91" r="1.6" fill="#dc143c"/>
<circle cx="89.81" cy="314.52" r="1.6" fill="#dc143c"/>
<circle cx="71.47" cy="326.85" r="1.6" fill="#dc143c"/>
<circle cx="83.28" cy="320.52" r="1.6" fill="#dc143c"/>
<circle cx="91.3" cy="333.63" r="1.6" fill="#dc143c"/>
<circle cx="96.91" cy="312.45" r="1.6" fill="#dc143c"/>
<circle cx="93.77" cy="326.04" r="1.6" fill="#dc143c"/>
<circle cx="101.38" cy="339.48" r="1.6" fill="#dc143c"/>
<circle cx="80.62" cy="322.11" r="1.6" fill="#dc143c"/>
<circle cx="84.24" cy="337.38" r="1.6" fill="#dc143c"/>
<circle cx="79.43" cy="328.63" r="1.6" fill="#dc143c"/>
<circle cx="82.59" cy="328.76" r="1.6" fill="#dc143c"/>
<circle cx="83.8" cy="328.5" r="1.6" fill="#dc143c"/>
<circle cx="79.03" cy="323.18" r="1.6" fill="#dc143c"/>
<circle cx="85.21" cy="330.84" r="1.6" fill="#dc143c"/>
<circle cx="79.16" cy="311.06" r="1.6" fill="#dc143c"/>
<circle cx="97.69" cy="307.02" r="1.6" fill="#dc143c"/>
<circle cx="80.74" cy="326.78" r="1.6" fill="#dc143c"/>
<circle cx="101.74" cy="314.14" r="1.6" fill="#dc143c"/>
<circle cx="91.21" cy="323.35" r="1.6" fill="#dc143c"/>
<circle cx="86.07" cy="315.66" r="1.6" fill="#dc143c"/>
<circle cx="94.71" cy="318.73" r="1.6" fill="#dc143c"/>
<circle cx="83.23" cy="319.93" r="1.6" fill="#dc143c"/>
<circle cx="75.5" cy="316.6" r="1.6" fill="#dc143c"/>
<circle cx="91.19" cy="323.67" r="1.6" fill="#dc143c"/>
<circle cx="79.86" cy="312.63" r="1.6" fill="#dc143c"/>
<circle cx="107.45" cy="305.95" r="1.6" fill="#dc143c"/>
<circle cx="102.73" cy="322.14" r="1.6" fill="#dc143c"/>
<circle cx="77.54" cy="317.54" r="1.6" fill="#dc143c"/>
<circle cx="82.72" cy="320.8" r="1.6" fill="#dc143c"/>
<circle cx="99.86" cy="309.06" r="1.6" fill="#dc143c"/>
<circle cx="94.98" cy="316.92" r="1.6" fill="#dc143c"/>
<circle cx="97.67" cy="321.24" r="1.6" fill="#dc143c"/>
<circle cx="73.53" cy="328.45" r="1.6" fill="#dc143c"/>
<circle cx="81.93" cy="325.94" r="1.6" fill="#dc143c"/>
<circle cx="87.59" cy="313.06" r="1.6" fill="#dc143c"/>
<circle cx="79.68" cy="314.49" r="1.6" fill="#dc143c"/>
<circle cx="90.02" cy="315.32" r="1.6" fill="#dc143c"/>
<circle cx="93.98" cy="318.05" r="1.6" fill="#dc143c"/>
<circle cx="81.81" cy="329.36" r="1.6" fill="#dc143c"/>
<circle cx="90.92" cy="324.62" r="1.6" fill="#dc143c"/>
<circle cx="84.88" cy="332.89" r="1.6" fill="#dc143c"/>
<circle cx="89" cy="319.01" r="1.6" fill="#dc143c"/>
<circle cx="98.41" cy="311.83" r="1.6" fill="#dc143c"/>
<circle cx="95.38" cy="325.89" r="1.6" fill="#dc143c"/>
<circle cx="85.98" cy="321.27" r="1.6" fill="#dc143c"/>
<circle cx="80.19" cy="320.58" r="1.6" fill="#dc143c"/>
<circle cx="88.85" cy="319.91" r="1.6" fill="#dc143c"/>
<circle cx="89.19" cy="318.73" r="1.6" fill="#dc143c"/>
<circle cx="76.12" cy="322.45" r="1.6" fill="#dc143c"/>
<circle cx="102.32" cy="316.93" r="1.6" fill="#dc143c"/>
<circle cx="95.3" cy="309.61" r="1.6" fill="#dc143c"/>
<circle cx="75.88" cy="316.39" r="1.6" fill="#dc143c"/>
<circle cx="87.04" cy="327.87" r="1.6" fill="#dc143c"/>
<circle cx="98.53" cy="326.69" r="1.6" fill="#dc143c"/>
<circle cx="86.53" cy="309.54" r="1.6" fill="#dc143c"/>
<circle cx="87.37" cy="330.38" r="1.6" fill="#dc143c"/>
<circle cx="88.15" cy="314.14" r="1.6" fill="#dc143c"/>
<circle cx="75.6" cy="322.82" r="1.6" fill="#dc143c"/>
<circle cx="108.83" cy="314.62" r="1.6" fill="#dc143c"/>
<circle cx="95.7" cy="324.43" r="1.6" fill="#dc143c"/>
<circle cx="101.21" cy="319.1" r="1.6" fill="#dc143c"/>
<circle cx="95.64" cy="327.57" r="1.6" fill="#dc143c"/>
<circle cx="95.36" cy="325.76" r="1.6" fill="#dc143c"/>
<circle cx="81.38" cy="309.22" r="1.6" fill="#dc143c"/>
<circle cx="87.82" cy="318.49" r="1.6" fill="#dc143c"/>
<circle cx="83.36" cy="338.94" r="1.6" fill="#dc143c"/>
<circle cx="81.27" cy="320.7" r="1.6" fill="#dc143c"/>
<circle cx="100.56" cy="300.16" r="1.6" fill="#dc143c"/>
<circle cx="103.06" cy="309.82" r="1.6" fill="#dc143c"/>
<circle cx="80.88" cy="329.97" r="1.6" fill="#dc143c"/>
<circle cx="91.2" cy="307.89" r="1.6" fill="#dc143c"/>
<circle cx="98.09" cy="309" r="1.6" fill="#dc143c"/>
<circle cx="95.39" cy="285.93" r="1.6" fill="#dc143c"/>
<circle cx="95.39" cy="289.24" r="1.6" fill="#dc143c"/>
<circle cx="94.19" cy="318.52" r="1.6" fill="#dc143c"/>
<circle cx="92.1" cy="295.36" r="1.6" fill="#dc143c"/>
<circle cx="99.55" cy="310.47" r="1.6" fill="#dc143c"/>
<circle cx="100.01" cy="309.88" r="1.6" fill="#dc143c"/>
<circle cx="98.1" cy="303.17" r="1.6" fill="#dc143c"/>
<circle cx="110.81" cy="293.79" r="1.6" fill="#dc143c"/>
<circle cx="95.69" cy="297.77" r="1.6" fill="#dc143c"/>
<circle cx="92.57" cy="294.34" r="1.6" fill="#dc143c"/>
<circle cx="107.84" cy="298.4" r="1.6" fill="#dc143c"/>
<circle cx="109.89" cy="302.79" r="1.6" fill="#dc143c"/>
<circle cx="87.39" cy="285.4" r="1.6" fill="#dc143c"/>
<circle cx="87.49" cy="303.86" r="1.6" fill="#dc143c"/>
<circle cx="111.92" cy="291.23" r="1.6" fill="#dc143c"/>
<circle cx="97.26" cy="318.51" r="1.6" fill="#dc143c"/>
<circle cx="103.2" cy="290.93" r="1.6" fill="#dc143c"/>
<circle cx="102.69" cy="322.36" r="1.6" fill="#dc143c"/>
<circle cx="98.47" cy="317.21" r="1.6" fill="#dc143c"/>
<circle cx="89.26" cy="302.47" r="1.6" fill="#dc143c"/>
<circle cx="108.7" cy="303.53" r="1.6" fill="#dc143c"/>
<circle cx="116.35" cy="310.87" r="1.6" fill="#dc143c"/>
<circle cx="91.57" cy="286.11" r="1.6" fill="#dc143c"/>
<circle cx="104.84" cy="288.16" r="1.6" fill="#dc143c"/>
<circle cx="116.11" cy="294.46" r="1.6" fill="#dc143c"/>
<circle cx="87.3" cy="286.78" r="1.6" fill="#dc143c"/>
<circle cx="89.44" cy="308.6" r="1.6" fill="#dc143c"/>
<circle cx="96.63" cy="320.76" r="1.6" fill="#dc143c"/>
<circle cx="110.77" cy="299.23" r="1.6" fill="#dc143c"/>
<circle cx="104.56" cy="313.13" r="1.6" fill="#dc143c"/>
<circle cx="98.97" cy="305.68" r="1.6" fill="#dc143c"/>
<circle cx="109.04" cy="292.05" r="1.6" fill="#dc143c"/>
<circle cx="108.41" cy="315.01" r="1.6" fill="#dc143c"/>
<circle cx="98.08" cy="318.26" r="1.6" fill="#dc143c"/>
<circle cx="99.11" cy="290.09" r="1.6" fill="#dc143c"/>
<circle cx="106.94" cy="318.54" r="1.6" fill="#dc143c"/>
<circle cx="99.21" cy="299.56" r="1.6" fill="#dc143c"/>
<circle cx="88.49" cy="300.67" r="1.6" fill="#dc143c"/>
<circle cx="112.57" cy="298.31" r="1.6" fill="#dc143c"/>
<circle cx="116.43" cy="298.46" r="1.6" fill="#dc143c"/>
<circle cx="100.19" cy="317.83" r="1.6" fill="#dc143c"/>
<circle cx="98.35" cy="302.77" r="1.6" fill="#dc143c"/>
<circle cx="88.41" cy="306.76" r="1.6" fill="#dc143c"/>
<circle cx="111.84" cy="290.77" r="1.6" fill="#dc143c"/>
<circle cx="94.73" cy="285.02" r="1.6" fill="#dc143c"/>
<circle cx="99.43" cy="304.12" r="1.6" fill="#dc143c"/>
<circle cx="98.89" cy="314.3" r="1.6" fill="#dc143c"/>
<circle cx="98.33" cy="299.92" r="1.6" fill="#dc143c"/>
<circle cx="113.77" cy="300.24" r="1.6" fill="#dc143c"/>
<circle cx="102.85" cy="286.67" r="1.6" fill="#dc143c"/>
<circle cx="92.97" cy="309.16" r="1.6" fill="#dc143c"/>
<circle cx="104.18" cy="287.08" r="1.6" fill="#dc143c"/>
<line x1="25.5" y1="236" x2="178.4" y2="236" stroke="#b8b8b8" stroke-width="1.2" />
<line x1="178.4" y1="236" x2="178.4" y2="412.4" stroke="#b8b8b8" stroke-width="1.2" />
<line x1="25.5" y1="412.4" x2="178.4" y2="412.4" stroke="#a0a0a0" stroke-width="1.2" />
<line x1="25.5" y1="236" x2="25.5" y2="412.4" stroke="#979797" stroke-width="1.1" />
<line x1="24" y1="237.4" x2="25.5" y2="237.4" stroke="#555" stroke-width="0.8" />
<text x="23.4" y="239.4" font-size="6" fill="#555" stroke="#555" stroke-width="0.2" text-anchor="end" >5.0</text>
<line x1="24" y1="274.9" x2="25.5" y2="274.9" stroke="#555" stroke-width="0.8" />
<text x="23.4" y="276.9" font-size="6" fill="#555" stroke="#555" stroke-width="0.2" text-anchor="end" >2.5</text>
<line x1="24" y1="312.4" x2="25.5" y2="312.4" stroke="#555" stroke-width="0.8" />
<text x="23.4" y="314.4" font-size="6" fill="#555" stroke="#555" stroke-width="0.2" text-anchor="end" >0.0</text>
<line x1="24" y1="349.9" x2="25.5" y2="349.9" stroke="#555" stroke-width="0.8" />
<text x="23.4" y="351.9" font-size="6" fill="#555" stroke="#555" stroke-width="0.2" text-anchor="end" >&#8722;2.5</text>
<line x1="24" y1="387.4" x2="25.5" y2="387.4" stroke="#555" stroke-width="0.8" />
<text x="23.4" y="389.4" font-size="6" fill="#555" stroke="#555" stroke-width="0.2" text-anchor="end" >&#8722;5.0</text>
<line x1="29.4" y1="412.4" x2="29.4" y2="414" stroke="#555" stroke-width="0.8" />
<text x="29.4" y="420.4" font-size="6" fill="#555" stroke="#555" stroke-width="0.2" text-anchor="middle" >&#8722;4</text>
<line x1="78.4" y1="412.4" x2="78.4" y2="414" stroke="#555" stroke-width="0.8" />
<text x="78.4" y="420.4" font-size="6" fill="#555" stroke="#555" stroke-width="0.2" text-anchor="middle" >0</text>
<line x1="127.4" y1="412.4" x2="127.4" y2="414" stroke="#555" stroke-width="0.8" />
<text x="127.4" y="420.4" font-size="6" fill="#555" stroke="#555" stroke-width="0.2" text-anchor="middle" >4</text>
<line x1="176.4" y1="412.4" x2="176.4" y2="414" stroke="#555" stroke-width="0.8" />
<text x="176.4" y="420.4" font-size="6" fill="#555" stroke="#555" stroke-width="0.2" text-anchor="middle" >8</text>
<text x="102.2" y="429.6" font-size="7.3" fill="#222" stroke="#222" stroke-width="0.2" text-anchor="middle" >PC1</text>
<text x="10" y="324" font-size="7.3" fill="#222" stroke="#222" stroke-width="0.2" text-anchor="middle" transform="rotate(-90 10 324)" >PC2</text>
<text x="188.3" y="313.1" font-size="6.9" fill="#222" stroke="#222" stroke-width="0.2" text-anchor="start" >Risk</text>
<circle cx="193.3" cy="323.9" r="1.6" fill="#dc143c"/>
<circle cx="193.3" cy="335.9" r="1.6" fill="#223c9c"/>
<text x="202" y="326" font-size="5.6" fill="#333" stroke="#333" stroke-width="0.2" text-anchor="start" >high</text>
<text x="202" y="338" font-size="5.6" fill="#333" stroke="#333" stroke-width="0.2" text-anchor="start" >low</text>
<circle cx="356.7" cy="251.3" r="1.6" fill="#223c9c"/>
<circle cx="392" cy="362.3" r="1.6" fill="#dc143c"/>
<circle cx="334.7" cy="333.3" r="1.6" fill="#223c9c"/>
<circle cx="302.7" cy="401" r="1.6" fill="#223c9c"/>
<circle cx="275.7" cy="304" r="1.6" fill="#dc143c"/>
<circle cx="371.3" cy="262.7" r="1.6" fill="#223c9c"/>
<circle cx="379.96" cy="346.85" r="1.6" fill="#dc143c"/>
<circle cx="354" cy="342" r="1.6" fill="#dc143c"/>
<circle cx="328" cy="369.7" r="1.6" fill="#dc143c"/>
<circle cx="315.64" cy="376.19" r="1.6" fill="#223c9c"/>
<circle cx="338.7" cy="362.3" r="1.6" fill="#dc143c"/>
<circle cx="351.3" cy="325.3" r="1.6" fill="#dc143c"/>
<circle cx="289.3" cy="309.3" r="1.6" fill="#223c9c"/>
<circle cx="321.7" cy="362.53" r="1.6" fill="#dc143c"/>
<circle cx="313.3" cy="377" r="1.6" fill="#dc143c"/>
<circle cx="386.05" cy="284.98" r="1.6" fill="#223c9c"/>
<circle cx="386" cy="353.7" r="1.6" fill="#dc143c"/>
<circle cx="378.81" cy="353.83" r="1.6" fill="#dc143c"/>
<circle cx="360" cy="326.7" r="1.6" fill="#dc143c"/>
<circle cx="332.7" cy="375" r="1.6" fill="#dc143c"/>
<circle cx="290" cy="299.3" r="1.6" fill="#dc143c"/>
<circle cx="289.1" cy="384.3" r="1.6" fill="#dc143c"/>
<circle cx="367.02" cy="255.34" r="1.6" fill="#223c9c"/>
<circle cx="400.4" cy="333.3" r="1.6" fill="#223c9c"/>
<circle cx="360.4" cy="318" r="1.6" fill="#223c9c"/>
<circle cx="309.91" cy="280.41" r="1.6" fill="#223c9c"/>
<circle cx="366.7" cy="402.7" r="1.6" fill="#dc143c"/>
<circle cx="278.7" cy="368.7" r="1.6" fill="#dc143c"/>
<circle cx="302.7" cy="278" r="1.6" fill="#223c9c"/>
<circle cx="267.7" cy="324" r="1.6" fill="#223c9c"/>
<circle cx="309.3" cy="387.4" r="1.6" fill="#dc143c"/>
<circle cx="317.1" cy="284.7" r="1.6" fill="#dc143c"/>
<circle cx="387.93" cy="395.1" r="1.6" fill="#dc143c"/>
<circle cx="290" cy="382.1" r="1.6" fill="#223c9c"/>
<circle cx="399.3" cy="276.7" r="1.6" fill="#223c9c"/>
<circle cx="372.7" cy="264.7" r="1.6" fill="#223c9c"/>
<circle cx="284.54" cy="313.14" r="1.6" fill="#223c9c"/>
<circle cx="381.3" cy="372.3" r="1.6" fill="#dc143c"/>
<circle cx="336" cy="277.3" r="1.6" fill="#223c9c"/>
<circle cx="341.29" cy="258.14" r="1.6" fill="#223c9c"/>
<circle cx="326.7" cy="287.1" r="1.6" fill="#223c9c"/>
<circle cx="365.3" cy="374.3" r="1.6" fill="#dc143c"/>
<circle cx="272.3" cy="325.7" r="1.6" fill="#dc143c"/>
<circle cx="399.99" cy="332.34" r="1.6" fill="#223c9c"/>
<circle cx="391.3" cy="332" r="1.6" fill="#223c9c"/>
<circle cx="353.7" cy="330" r="1.6" fill="#dc143c"/>
<circle cx="319.81" cy="383.38" r="1.6" fill="#dc143c"/>
<circle cx="334" cy="276.7" r="1.6" fill="#223c9c"/>
<circle cx="384" cy="282" r="1.6" fill="#223c9c"/>
<circle cx="280.7" cy="293.3" r="1.6" fill="#223c9c"/>
<circle cx="369.3" cy="261.3" r="1.6" fill="#223c9c"/>
<circle cx="339.1" cy="334" r="1.6" fill="#dc143c"/>
<circle cx="370.02" cy="347.5" r="1.6" fill="#223c9c"/>
<circle cx="342" cy="360.3" r="1.6" fill="#dc143c"/>
<circle cx="280.07" cy="290.97" r="1.6" fill="#223c9c"/>
<circle cx="396.7" cy="281.3" r="1.6" fill="#223c9c"/>
<circle cx="328.3" cy="269.7" r="1.6" fill="#dc143c"/>
<circle cx="382.7" cy="358.3" r="1.6" fill="#dc143c"/>
<circle cx="274" cy="365" r="1.6" fill="#223c9c"/>
<circle cx="329.3" cy="333.3" r="1.6" fill="#223c9c"/>
<circle cx="329.1" cy="366.3" r="1.6" fill="#223c9c"/>
<circle cx="392.4" cy="284" r="1.6" fill="#223c9c"/>
<circle cx="360.4" cy="324.9" r="1.6" fill="#dc143c"/>
<circle cx="274.7" cy="341.7" r="1.6" fill="#223c9c"/>
<circle cx="403.6" cy="354.6" r="1.6" fill="#dc143c"/>
<circle cx="306.9" cy="403.9" r="1.6" fill="#dc143c"/>
<circle cx="365.3" cy="258" r="1.6" fill="#223c9c"/>
<circle cx="385.7" cy="326" r="1.6" fill="#223c9c"/>
<circle cx="316" cy="373.7" r="1.6" fill="#dc143c"/>
<circle cx="391.3" cy="365.7" r="1.6" fill="#dc143c"/>
<circle cx="337" cy="331.3" r="1.6" fill="#dc143c"/>
<circle cx="351.52" cy="388.1" r="1.6" fill="#223c9c"/>
<circle cx="372" cy="369" r="1.6" fill="#dc143c"/>
<circle cx="333.3" cy="360.7" r="1.6" fill="#223c9c"/>
<circle cx="285.3" cy="310" r="1.6" fill="#223c9c"/>
<circle cx="358.7" cy="246" r="1.6" fill="#223c9c"/>
<circle cx="298.7" cy="272.9" r="1.6" fill="#dc143c"/>
<circle cx="360.7" cy="387.4" r="1.6" fill="#dc143c"/>
<circle cx="268.7" cy="322" r="1.6" fill="#dc143c"/>
<circle cx="330.7" cy="365" r="1.6" fill="#dc143c"/>
<circle cx="378" cy="367.4" r="1.6" fill="#dc143c"/>
<circle cx="302.9" cy="401.6" r="1.6" fill="#223c9c"/>
<circle cx="308.7" cy="280.4" r="1.6" fill="#223c9c"/>
<circle cx="324.7" cy="289.3" r="1.6" fill="#223c9c"/>
<circle cx="313.3" cy="368.3" r="1.6" fill="#223c9c"/>
<circle cx="373.24" cy="264.39" r="1.6" fill="#223c9c"/>
<circle cx="330.7" cy="391.7" r="1.6" fill="#dc143c"/>
<circle cx="345.06" cy="380.73" r="1.6" fill="#dc143c"/>
<circle cx="389.31" cy="381.54" r="1.6" fill="#dc143c"/>
<circle cx="283.7" cy="291.3" r="1.6" fill="#223c9c"/>
<circle cx="351.3" cy="252" r="1.6" fill="#223c9c"/>
<circle cx="271.3" cy="325.1" r="1.6" fill="#dc143c"/>
<circle cx="269.3" cy="361.7" r="1.6" fill="#dc143c"/>
<circle cx="319.3" cy="384.3" r="1.6" fill="#dc143c"/>
<circle cx="377.7" cy="353.3" r="1.6" fill="#dc143c"/>
<circle cx="384.7" cy="321.3" r="1.6" fill="#223c9c"/>
<circle cx="375.15" cy="270.74" r="1.6" fill="#223c9c"/>
<circle cx="278.06" cy="306.83" r="1.6" fill="#dc143c"/>
<circle cx="385.3" cy="333.3" r="1.6" fill="#223c9c"/>
<circle cx="365.5" cy="401.6" r="1.6" fill="#dc143c"/>
<circle cx="379.3" cy="344.7" r="1.6" fill="#223c9c"/>
<circle cx="342.78" cy="360.72" r="1.6" fill="#dc143c"/>
<circle cx="318.31" cy="276.31" r="1.6" fill="#223c9c"/>
<circle cx="384" cy="330" r="1.6" fill="#223c9c"/>
<circle cx="324" cy="275.3" r="1.6" fill="#223c9c"/>
<circle cx="308.89" cy="397.01" r="1.6" fill="#dc143c"/>
<circle cx="279.3" cy="342.7" r="1.6" fill="#223c9c"/>
<circle cx="400" cy="275.1" r="1.6" fill="#223c9c"/>
<circle cx="398" cy="279.3" r="1.6" fill="#223c9c"/>
<circle cx="322.4" cy="358.3" r="1.6" fill="#dc143c"/>
<circle cx="281.3" cy="293.3" r="1.6" fill="#223c9c"/>
<circle cx="319.7" cy="361" r="1.6" fill="#223c9c"/>
<circle cx="322.9" cy="362.3" r="1.6" fill="#dc143c"/>
<circle cx="389.3" cy="331.6" r="1.6" fill="#223c9c"/>
<circle cx="384.59" cy="317.31" r="1.6" fill="#223c9c"/>
<circle cx="266" cy="324.4" r="1.6" fill="#223c9c"/>
<circle cx="334.7" cy="357" r="1.6" fill="#dc143c"/>
<circle cx="338.88" cy="332.73" r="1.6" fill="#dc143c"/>
<circle cx="393.3" cy="332" r="1.6" fill="#223c9c"/>
<circle cx="355.23" cy="395.27" r="1.6" fill="#dc143c"/>
<circle cx="287.7" cy="284" r="1.6" fill="#223c9c"/>
<circle cx="368" cy="256" r="1.6" fill="#223c9c"/>
<circle cx="360.8" cy="395.6" r="1.6" fill="#dc143c"/>
<circle cx="307.67" cy="404.64" r="1.6" fill="#223c9c"/>
<circle cx="273.3" cy="362.3" r="1.6" fill="#dc143c"/>
<circle cx="317.09" cy="285.62" r="1.6" fill="#dc143c"/>
<circle cx="336.04" cy="276.05" r="1.6" fill="#223c9c"/>
<circle cx="375.3" cy="272" r="1.6" fill="#223c9c"/>
<circle cx="368.7" cy="373.7" r="1.6" fill="#dc143c"/>
<circle cx="388" cy="369.7" r="1.6" fill="#dc143c"/>
<circle cx="286.9" cy="283.3" r="1.6" fill="#223c9c"/>
<circle cx="279.7" cy="349.3" r="1.6" fill="#223c9c"/>
<circle cx="403.6" cy="339.3" r="1.6" fill="#dc143c"/>
<circle cx="335.3" cy="373" r="1.6" fill="#dc143c"/>
<circle cx="356.7" cy="394.6" r="1.6" fill="#dc143c"/>
<circle cx="314.7" cy="276" r="1.6" fill="#223c9c"/>
<circle cx="306" cy="396.3" r="1.6" fill="#223c9c"/>
<circle cx="369.4" cy="373.44" r="1.6" fill="#dc143c"/>
<circle cx="342.7" cy="353" r="1.6" fill="#dc143c"/>
<circle cx="268.06" cy="355.87" r="1.6" fill="#dc143c"/>
<circle cx="320.84" cy="281.25" r="1.6" fill="#223c9c"/>
<circle cx="401.22" cy="346.84" r="1.6" fill="#223c9c"/>
<circle cx="284" cy="314" r="1.6" fill="#223c9c"/>
<circle cx="402.49" cy="346.96" r="1.6" fill="#223c9c"/>
<circle cx="267.13" cy="349.36" r="1.6" fill="#223c9c"/>
<circle cx="284.3" cy="296.7" r="1.6" fill="#dc143c"/>
<circle cx="270" cy="352.3" r="1.6" fill="#dc143c"/>
<circle cx="404" cy="351" r="1.6" fill="#dc143c"/>
<circle cx="340" cy="349" r="1.6" fill="#dc143c"/>
<circle cx="360.9" cy="343.3" r="1.6" fill="#dc143c"/>
<circle cx="280" cy="296.7" r="1.6" fill="#dc143c"/>
<circle cx="264" cy="325.7" r="1.6" fill="#223c9c"/>
<circle cx="394.7" cy="340.7" r="1.6" fill="#223c9c"/>
<circle cx="329.28" cy="358.49" r="1.6" fill="#dc143c"/>
<circle cx="364" cy="377" r="1.6" fill="#dc143c"/>
<circle cx="385" cy="351.7" r="1.6" fill="#223c9c"/>
<circle cx="290.16" cy="302.37" r="1.6" fill="#dc143c"/>
<circle cx="318.8" cy="376.29" r="1.6" fill="#dc143c"/>
<circle cx="289.6" cy="387.4" r="1.6" fill="#223c9c"/>
<circle cx="278.4" cy="353.7" r="1.6" fill="#dc143c"/>
<circle cx="341.3" cy="370.3" r="1.6" fill="#dc143c"/>
<circle cx="373.3" cy="266.7" r="1.6" fill="#223c9c"/>
<circle cx="362.77" cy="350.61" r="1.6" fill="#dc143c"/>
<circle cx="269.6" cy="337.3" r="1.6" fill="#223c9c"/>
<circle cx="354.7" cy="250" r="1.6" fill="#223c9c"/>
<circle cx="300.3" cy="274.7" r="1.6" fill="#223c9c"/>
<circle cx="264.62" cy="320.53" r="1.6" fill="#dc143c"/>
<circle cx="384.9" cy="336" r="1.6" fill="#223c9c"/>
<circle cx="360.4" cy="395.9" r="1.6" fill="#dc143c"/>
<circle cx="266.57" cy="324.1" r="1.6" fill="#223c9c"/>
<circle cx="264.7" cy="328" r="1.6" fill="#223c9c"/>
<circle cx="359.6" cy="360.6" r="1.6" fill="#223c9c"/>
<circle cx="310.79" cy="389.89" r="1.6" fill="#dc143c"/>
<circle cx="358.7" cy="333.3" r="1.6" fill="#dc143c"/>
<circle cx="317.3" cy="276.7" r="1.6" fill="#223c9c"/>
<circle cx="310.98" cy="276.86" r="1.6" fill="#223c9c"/>
<circle cx="364.7" cy="379.4" r="1.6" fill="#dc143c"/>
<circle cx="386.7" cy="284.7" r="1.6" fill="#223c9c"/>
<circle cx="389.3" cy="368.3" r="1.6" fill="#dc143c"/>
<circle cx="344" cy="380.3" r="1.6" fill="#dc143c"/>
<circle cx="389.46" cy="285.68" r="1.6" fill="#223c9c"/>
<circle cx="304.9" cy="277.33" r="1.6" fill="#223c9c"/>
<circle cx="284.7" cy="312" r="1.6" fill="#223c9c"/>
<circle cx="382" cy="348.7" r="1.6" fill="#dc143c"/>
<circle cx="324.7" cy="277.3" r="1.6" fill="#223c9c"/>
<circle cx="284.4" cy="287.3" r="1.6" fill="#223c9c"/>
<circle cx="362.7" cy="396.3" r="1.6" fill="#dc143c"/>
<circle cx="336" cy="337.7" r="1.6" fill="#dc143c"/>
<circle cx="402" cy="347" r="1.6" fill="#223c9c"/>
<circle cx="317.3" cy="368.3" r="1.6" fill="#dc143c"/>
<circle cx="310.7" cy="275.6" r="1.6" fill="#223c9c"/>
<circle cx="287.7" cy="298.3" r="1.6" fill="#dc143c"/>
<circle cx="330.52" cy="365.74" r="1.6" fill="#dc143c"/>
<circle cx="317.3" cy="388.7" r="1.6" fill="#dc143c"/>
<circle cx="352.4" cy="336.9" r="1.6" fill="#223c9c"/>
<circle cx="360.07" cy="326.1" r="1.6" fill="#dc143c"/>
<circle cx="335.4" cy="272.91" r="1.6" fill="#223c9c"/>
<circle cx="322.7" cy="289.7" r="1.6" fill="#223c9c"/>
<circle cx="404.7" cy="347" r="1.6" fill="#dc143c"/>
<circle cx="280.7" cy="351" r="1.6" fill="#223c9c"/>
<circle cx="328.3" cy="282" r="1.6" fill="#223c9c"/>
<circle cx="364" cy="351" r="1.6" fill="#dc143c"/>
<circle cx="272.7" cy="359.7" r="1.6" fill="#dc143c"/>
<circle cx="330" cy="334" r="1.6" fill="#223c9c"/>
<circle cx="396.7" cy="341.3" r="1.6" fill="#223c9c"/>
<circle cx="278.64" cy="308.09" r="1.6" fill="#dc143c"/>
<circle cx="364" cy="255.3" r="1.6" fill="#223c9c"/>
<circle cx="316.7" cy="273.7" r="1.6" fill="#223c9c"/>
<circle cx="336.65" cy="333.63" r="1.6" fill="#223c9c"/>
<circle cx="304" cy="403.4" r="1.6" fill="#223c9c"/>
<circle cx="319.7" cy="370.3" r="1.6" fill="#223c9c"/>
<circle cx="268.7" cy="356.3" r="1.6" fill="#dc143c"/>
<circle cx="307.12" cy="399.1" r="1.6" fill="#dc143c"/>
<circle cx="312.7" cy="395" r="1.6" fill="#dc143c"/>
<circle cx="364.7" cy="399.7" r="1.6" fill="#dc143c"/>
<circle cx="311.3" cy="389" r="1.6" fill="#dc143c"/>
<circle cx="283.12" cy="292.4" r="1.6" fill="#223c9c"/>
<circle cx="358.23" cy="333.75" r="1.6" fill="#dc143c"/>
<circle cx="356" cy="324.9" r="1.6" fill="#dc143c"/>
<circle cx="274.7" cy="328.9" r="1.6" fill="#dc143c"/>
<circle cx="283.3" cy="316" r="1.6" fill="#223c9c"/>
<circle cx="360.9" cy="333.7" r="1.6" fill="#dc143c"/>
<circle cx="287.3" cy="385.7" r="1.6" fill="#223c9c"/>
<circle cx="266.7" cy="355.4" r="1.6" fill="#223c9c"/>
<circle cx="379.3" cy="372.3" r="1.6" fill="#dc143c"/>
<circle cx="384.4" cy="380.3" r="1.6" fill="#dc143c"/>
<circle cx="334.2" cy="267.17" r="1.6" fill="#223c9c"/>
<circle cx="396.92" cy="341.89" r="1.6" fill="#223c9c"/>
<circle cx="332.7" cy="378.3" r="1.6" fill="#dc143c"/>
<circle cx="330.4" cy="355" r="1.6" fill="#dc143c"/>
<circle cx="311.63" cy="399.85" r="1.6" fill="#dc143c"/>
<circle cx="310" cy="407.5" r="1.6" fill="#223c9c"/>
<circle cx="267.7" cy="349.3" r="1.6" fill="#223c9c"/>
<circle cx="338.89" cy="362.89" r="1.6" fill="#dc143c"/>
<circle cx="268.7" cy="351" r="1.6" fill="#223c9c"/>
<circle cx="402.87" cy="333.33" r="1.6" fill="#dc143c"/>
<circle cx="293.3" cy="278" r="1.6" fill="#dc143c"/>
<circle cx="368.7" cy="348.7" r="1.6" fill="#dc143c"/>
<circle cx="289.26" cy="381.85" r="1.6" fill="#dc143c"/>
<circle cx="334" cy="268" r="1.6" fill="#223c9c"/>
<circle cx="387.6" cy="395.9" r="1.6" fill="#dc143c"/>
<circle cx="319.3" cy="277.7" r="1.6" fill="#223c9c"/>
<circle cx="325.3" cy="272.9" r="1.6" fill="#223c9c"/>
<circle cx="334.7" cy="272.7" r="1.6" fill="#223c9c"/>
<circle cx="315.3" cy="365.7" r="1.6" fill="#223c9c"/>
<circle cx="343.3" cy="256.7" r="1.6" fill="#223c9c"/>
<circle cx="359.9" cy="333.19" r="1.6" fill="#dc143c"/>
<circle cx="321.3" cy="280.7" r="1.6" fill="#223c9c"/>
<circle cx="308.7" cy="386.8" r="1.6" fill="#dc143c"/>
<circle cx="382.7" cy="348.3" r="1.6" fill="#dc143c"/>
<circle cx="365.3" cy="402.3" r="1.6" fill="#dc143c"/>
<circle cx="308" cy="395.4" r="1.6" fill="#dc143c"/>
<circle cx="377.3" cy="375.7" r="1.6" fill="#dc143c"/>
<circle cx="395.25" cy="341.31" r="1.6" fill="#223c9c"/>
<circle cx="332.58" cy="373.9" r="1.6" fill="#dc143c"/>
<circle cx="325.1" cy="341.3" r="1.6" fill="#223c9c"/>
<circle cx="310" cy="394.5" r="1.6" fill="#dc143c"/>
<circle cx="356" cy="343.1" r="1.6" fill="#dc143c"/>
<circle cx="259.3" cy="324" r="1.6" fill="#223c9c"/>
<circle cx="298.4" cy="389" r="1.6" fill="#223c9c"/>
<circle cx="332" cy="266.7" r="1.6" fill="#223c9c"/>
<circle cx="374.7" cy="269.3" r="1.6" fill="#223c9c"/>
<circle cx="380.7" cy="347.1" r="1.6" fill="#dc143c"/>
<circle cx="364.4" cy="390.3" r="1.6" fill="#dc143c"/>
<circle cx="353.25" cy="329.56" r="1.6" fill="#dc143c"/>
<circle cx="311.7" cy="397.7" r="1.6" fill="#dc143c"/>
<circle cx="348" cy="249.3" r="1.6" fill="#223c9c"/>
<circle cx="302.4" cy="395" r="1.6" fill="#223c9c"/>
<circle cx="262" cy="324.9" r="1.6" fill="#223c9c"/>
<circle cx="340.76" cy="348.61" r="1.6" fill="#dc143c"/>
<circle cx="341.3" cy="351.7" r="1.6" fill="#dc143c"/>
<circle cx="279.7" cy="349" r="1.6" fill="#223c9c"/>
<circle cx="359.6" cy="248.4" r="1.6" fill="#223c9c"/>
<circle cx="390.7" cy="285.3" r="1.6" fill="#223c9c"/>
<circle cx="304.7" cy="278" r="1.6" fill="#223c9c"/>
<circle cx="292.3" cy="305.7" r="1.6" fill="#dc143c"/>
<circle cx="261.1" cy="317.7" r="1.6" fill="#223c9c"/>
<circle cx="304.7" cy="403" r="1.6" fill="#223c9c"/>
<circle cx="337.3" cy="274" r="1.6" fill="#223c9c"/>
<circle cx="383.3" cy="342.7" r="1.6" fill="#223c9c"/>
<circle cx="406.08" cy="348.86" r="1.6" fill="#dc143c"/>
<circle cx="281.6" cy="358.3" r="1.6" fill="#223c9c"/>
<circle cx="362.4" cy="322.3" r="1.6" fill="#223c9c"/>
<circle cx="340" cy="380.3" r="1.6" fill="#dc143c"/>
<circle cx="392.9" cy="350.3" r="1.6" fill="#dc143c"/>
<circle cx="265.6" cy="320.4" r="1.6" fill="#dc143c"/>
<circle cx="324" cy="343.3" r="1.6" fill="#223c9c"/>
<circle cx="390.27" cy="368.41" r="1.6" fill="#dc143c"/>
<circle cx="286" cy="298" r="1.6" fill="#dc143c"/>
<circle cx="390.3" cy="402.3" r="1.6" fill="#dc143c"/>
<circle cx="329.3" cy="357.7" r="1.6" fill="#dc143c"/>
<circle cx="320.7" cy="290" r="1.6" fill="#223c9c"/>
<circle cx="328.7" cy="335.3" r="1.6" fill="#223c9c"/>
<circle cx="300.47" cy="275.48" r="1.6" fill="#223c9c"/>
<circle cx="378.7" cy="377.7" r="1.6" fill="#dc143c"/>
<circle cx="269.67" cy="351.72" r="1.6" fill="#dc143c"/>
<circle cx="285" cy="299.3" r="1.6" fill="#223c9c"/>
<circle cx="361.3" cy="373.7" r="1.6" fill="#dc143c"/>
<circle cx="365.01" cy="377.41" r="1.6" fill="#dc143c"/>
<circle cx="280.3" cy="364.3" r="1.6" fill="#223c9c"/>
<circle cx="276.7" cy="359" r="1.6" fill="#223c9c"/>
<circle cx="268" cy="342.3" r="1.6" fill="#223c9c"/>
<circle cx="346.7" cy="250.7" r="1.6" fill="#223c9c"/>
<circle cx="307.18" cy="389.32" r="1.6" fill="#223c9c"/>
<circle cx="306.4" cy="399.2" r="1.6" fill="#223c9c"/>
<circle cx="312.7" cy="373.7" r="1.6" fill="#dc143c"/>
<circle cx="352.7" cy="249.3" r="1.6" fill="#223c9c"/>
<circle cx="365.23" cy="255.69" r="1.6" fill="#223c9c"/>
<circle cx="297.6" cy="272.4" r="1.6" fill="#dc143c"/>
<circle cx="302.4" cy="389.3" r="1.6" fill="#223c9c"/>
<circle cx="390" cy="354.6" r="1.6" fill="#dc143c"/>
<circle cx="320" cy="387.4" r="1.6" fill="#dc143c"/>
<circle cx="279.7" cy="312.4" r="1.6" fill="#223c9c"/>
<circle cx="351.3" cy="387.4" r="1.6" fill="#223c9c"/>
<circle cx="282.94" cy="291.45" r="1.6" fill="#223c9c"/>
<circle cx="287.3" cy="278" r="1.6" fill="#223c9c"/>
<circle cx="274.85" cy="330.06" r="1.6" fill="#dc143c"/>
<circle cx="278.4" cy="309.3" r="1.6" fill="#dc143c"/>
<circle cx="310.9" cy="399.7" r="1.6" fill="#dc143c"/>
<circle cx="314.7" cy="376.3" r="1.6" fill="#223c9c"/>
<circle cx="386.03" cy="354.33" r="1.6" fill="#dc143c"/>
<circle cx="362" cy="252.7" r="1.6" fill="#223c9c"/>
<circle cx="340.7" cy="260.7" r="1.6" fill="#223c9c"/>
<circle cx="351.35" cy="386.59" r="1.6" fill="#223c9c"/>
<circle cx="376" cy="341.3" r="1.6" fill="#dc143c"/>
<circle cx="351.25" cy="340.34" r="1.6" fill="#dc143c"/>
<circle cx="295.09" cy="272.73" r="1.6" fill="#dc143c"/>
<circle cx="382.7" cy="380.7" r="1.6" fill="#dc143c"/>
<circle cx="369.37" cy="374.08" r="1.6" fill="#dc143c"/>
<circle cx="330" cy="366.3" r="1.6" fill="#223c9c"/>
<circle cx="282.7" cy="354.1" r="1.6" fill="#223c9c"/>
<circle cx="339.3" cy="268.7" r="1.6" fill="#223c9c"/>
<circle cx="263.96" cy="327.77" r="1.6" fill="#223c9c"/>
<circle cx="331.3" cy="267.1" r="1.6" fill="#223c9c"/>
<circle cx="359.32" cy="326.13" r="1.6" fill="#dc143c"/>
<circle cx="375.3" cy="337.3" r="1.6" fill="#223c9c"/>
<circle cx="282.4" cy="292" r="1.6" fill="#223c9c"/>
<circle cx="287.7" cy="355.7" r="1.6" fill="#223c9c"/>
<circle cx="277.3" cy="302.7" r="1.6" fill="#dc143c"/>
<circle cx="331.3" cy="355" r="1.6" fill="#dc143c"/>
<circle cx="390.4" cy="402.7" r="1.6" fill="#dc143c"/>
<circle cx="390.96" cy="402.59" r="1.6" fill="#dc143c"/>
<circle cx="338.7" cy="272" r="1.6" fill="#223c9c"/>
<circle cx="363.98" cy="379.79" r="1.6" fill="#dc143c"/>
<circle cx="335.3" cy="270" r="1.6" fill="#223c9c"/>
<circle cx="267.7" cy="349" r="1.6" fill="#223c9c"/>
<circle cx="370.7" cy="347.3" r="1.6" fill="#223c9c"/>
<circle cx="277.1" cy="331.3" r="1.6" fill="#223c9c"/>
<circle cx="314.7" cy="390.1" r="1.6" fill="#dc143c"/>
<circle cx="356" cy="394.9" r="1.6" fill="#dc143c"/>
<circle cx="291.7" cy="279.3" r="1.6" fill="#223c9c"/>
<circle cx="340.7" cy="368.3" r="1.6" fill="#dc143c"/>
<circle cx="368.3" cy="357.3" r="1.6" fill="#223c9c"/>
<circle cx="278.4" cy="305.7" r="1.6" fill="#dc143c"/>
<circle cx="388.7" cy="284.4" r="1.6" fill="#223c9c"/>
<circle cx="329.3" cy="392.3" r="1.6" fill="#dc143c"/>
<circle cx="273.5" cy="364.56" r="1.6" fill="#223c9c"/>
<circle cx="388.7" cy="381" r="1.6" fill="#dc143c"/>
<circle cx="318.4" cy="375.7" r="1.6" fill="#dc143c"/>
<circle cx="366" cy="385" r="1.6" fill="#dc143c"/>
<circle cx="340" cy="357" r="1.6" fill="#dc143c"/>
<circle cx="354.7" cy="327.3" r="1.6" fill="#dc143c"/>
<circle cx="284.7" cy="296.7" r="1.6" fill="#dc143c"/>
<circle cx="371.3" cy="381.3" r="1.6" fill="#dc143c"/>
<circle cx="339.76" cy="347.67" r="1.6" fill="#dc143c"/>
<circle cx="306.4" cy="399.7" r="1.6" fill="#dc143c"/>
<circle cx="405.7" cy="334.3" r="1.6" fill="#dc143c"/>
<circle cx="270.7" cy="357" r="1.6" fill="#dc143c"/>
<circle cx="296" cy="272.9" r="1.6" fill="#dc143c"/>
<circle cx="315.65" cy="275.77" r="1.6" fill="#223c9c"/>
<circle cx="292" cy="384.7" r="1.6" fill="#223c9c"/>
<circle cx="342" cy="377.7" r="1.6" fill="#dc143c"/>
<circle cx="301.1" cy="277.3" r="1.6" fill="#223c9c"/>
<circle cx="370.3" cy="373" r="1.6" fill="#dc143c"/>
<circle cx="332.76" cy="379.37" r="1.6" fill="#dc143c"/>
<circle cx="293.6" cy="282.7" r="1.6" fill="#223c9c"/>
<circle cx="318.7" cy="270.7" r="1.6" fill="#dc143c"/>
<circle cx="283.3" cy="319.3" r="1.6" fill="#223c9c"/>
<circle cx="306.54" cy="403.19" r="1.6" fill="#dc143c"/>
<circle cx="332.7" cy="363" r="1.6" fill="#dc143c"/>
<circle cx="334.7" cy="381.7" r="1.6" fill="#dc143c"/>
<circle cx="288.3" cy="381" r="1.6" fill="#dc143c"/>
<circle cx="278.3" cy="353.07" r="1.6" fill="#dc143c"/>
<circle cx="282" cy="288.7" r="1.6" fill="#223c9c"/>
<circle cx="368" cy="381" r="1.6" fill="#dc143c"/>
<circle cx="302.9" cy="394.9" r="1.6" fill="#223c9c"/>
<circle cx="270" cy="323.3" r="1.6" fill="#223c9c"/>
<circle cx="340" cy="265.3" r="1.6" fill="#223c9c"/>
<circle cx="381.3" cy="347" r="1.6" fill="#dc143c"/>
<circle cx="326" cy="395" r="1.6" fill="#dc143c"/>
<circle cx="358.7" cy="340.7" r="1.6" fill="#dc143c"/>
<circle cx="366" cy="377" r="1.6" fill="#dc143c"/>
<circle cx="402" cy="336.7" r="1.6" fill="#dc143c"/>
<circle cx="306.4" cy="388.7" r="1.6" fill="#223c9c"/>
<circle cx="327.31" cy="287" r="1.6" fill="#223c9c"/>
<circle cx="284.86" cy="295.81" r="1.6" fill="#dc143c"/>
<circle cx="402" cy="347.3" r="1.6" fill="#223c9c"/>
<circle cx="308.8" cy="398" r="1.6" fill="#dc143c"/>
<circle cx="324.93" cy="272.15" r="1.6" fill="#223c9c"/>
<circle cx="345.3" cy="252.7" r="1.6" fill="#223c9c"/>
<circle cx="280" cy="296.7" r="1.6" fill="#dc143c"/>
<circle cx="279.3" cy="301.3" r="1.6" fill="#223c9c"/>
<circle cx="366.25" cy="377.76" r="1.6" fill="#dc143c"/>
<circle cx="312.7" cy="275.3" r="1.6" fill="#223c9c"/>
<circle cx="294.7" cy="275.3" r="1.6" fill="#dc143c"/>
<circle cx="404" cy="345.3" r="1.6" fill="#dc143c"/>
<circle cx="336" cy="334.7" r="1.6" fill="#223c9c"/>
<circle cx="399.65" cy="343.43" r="1.6" fill="#223c9c"/>
<circle cx="403.34" cy="355.22" r="1.6" fill="#dc143c"/>
<circle cx="336" cy="363.7" r="1.6" fill="#223c9c"/>
<circle cx="288" cy="297.3" r="1.6" fill="#dc143c"/>
<circle cx="340" cy="348.7" r="1.6" fill="#dc143c"/>
<circle cx="366" cy="351" r="1.6" fill="#dc143c"/>
<circle cx="319.3" cy="288.7" r="1.6" fill="#223c9c"/>
<circle cx="380" cy="381" r="1.6" fill="#dc143c"/>
<circle cx="384.4" cy="318.3" r="1.6" fill="#223c9c"/>
<circle cx="291.18" cy="384.14" r="1.6" fill="#223c9c"/>
<circle cx="370.7" cy="347.4" r="1.6" fill="#223c9c"/>
<circle cx="351.6" cy="387.4" r="1.6" fill="#223c9c"/>
<circle cx="356.4" cy="317.7" r="1.6" fill="#223c9c"/>
<circle cx="270.29" cy="324.95" r="1.6" fill="#223c9c"/>
<circle cx="322.74" cy="283.62" r="1.6" fill="#223c9c"/>
<circle cx="391.24" cy="354.9" r="1.6" fill="#dc143c"/>
<circle cx="379.3" cy="345" r="1.6" fill="#223c9c"/>
<circle cx="288.3" cy="389.3" r="1.6" fill="#dc143c"/>
<circle cx="317.1" cy="379.4" r="1.6" fill="#dc143c"/>
<circle cx="278.7" cy="363.7" r="1.6" fill="#223c9c"/>
<circle cx="269.3" cy="325.3" r="1.6" fill="#223c9c"/>
<circle cx="385.23" cy="350.54" r="1.6" fill="#223c9c"/>
<circle cx="373.3" cy="341" r="1.6" fill="#223c9c"/>
<circle cx="266.9" cy="326.3" r="1.6" fill="#223c9c"/>
<circle cx="279.3" cy="340" r="1.6" fill="#223c9c"/>
<circle cx="352" cy="340" r="1.6" fill="#dc143c"/>
<circle cx="326" cy="289.3" r="1.6" fill="#dc143c"/>
<circle cx="376" cy="351" r="1.6" fill="#223c9c"/>
<circle cx="362" cy="398.3" r="1.6" fill="#dc143c"/>
<circle cx="403.6" cy="342" r="1.6" fill="#dc143c"/>
<circle cx="332.7" cy="333" r="1.6" fill="#223c9c"/>
<circle cx="342" cy="355" r="1.6" fill="#dc143c"/>
<circle cx="306.7" cy="278.7" r="1.6" fill="#223c9c"/>
<circle cx="279.73" cy="368.38" r="1.6" fill="#dc143c"/>
<circle cx="265.1" cy="336.4" r="1.6" fill="#223c9c"/>
<circle cx="322" cy="283.3" r="1.6" fill="#223c9c"/>
<circle cx="368" cy="377.7" r="1.6" fill="#dc143c"/>
<circle cx="289.6" cy="303.3" r="1.6" fill="#dc143c"/>
<circle cx="351.71" cy="324.67" r="1.6" fill="#dc143c"/>
<circle cx="305.16" cy="395.41" r="1.6" fill="#223c9c"/>
<circle cx="366" cy="260" r="1.6" fill="#223c9c"/>
<circle cx="350" cy="250" r="1.6" fill="#223c9c"/>
<circle cx="285.3" cy="268.4" r="1.6" fill="#223c9c"/>
<circle cx="334.31" cy="356.3" r="1.6" fill="#dc143c"/>
<circle cx="406" cy="348" r="1.6" fill="#dc143c"/>
<circle cx="403.1" cy="334" r="1.6" fill="#dc143c"/>
<circle cx="325.3" cy="391.7" r="1.6" fill="#dc143c"/>
<circle cx="282" cy="291.3" r="1.6" fill="#223c9c"/>
<circle cx="387.3" cy="378.3" r="1.6" fill="#dc143c"/>
<circle cx="360.22" cy="248.73" r="1.6" fill="#223c9c"/>
<circle cx="317.3" cy="282" r="1.6" fill="#223c9c"/>
<circle cx="345.3" cy="332.4" r="1.6" fill="#dc143c"/>
<circle cx="361.46" cy="372.54" r="1.6" fill="#dc143c"/>
<circle cx="382.67" cy="359.18" r="1.6" fill="#dc143c"/>
<circle cx="333.3" cy="371" r="1.6" fill="#dc143c"/>
<circle cx="353.3" cy="335.3" r="1.6" fill="#dc143c"/>
<circle cx="326.7" cy="338.7" r="1.6" fill="#223c9c"/>
<circle cx="403.82" cy="346.95" r="1.6" fill="#dc143c"/>
<circle cx="297.3" cy="387.4" r="1.6" fill="#223c9c"/>
<circle cx="308" cy="403.4" r="1.6" fill="#223c9c"/>
<circle cx="361.3" cy="249.7" r="1.6" fill="#223c9c"/>
<circle cx="268" cy="329.3" r="1.6" fill="#dc143c"/>
<circle cx="391.79" cy="332.77" r="1.6" fill="#223c9c"/>
<circle cx="264" cy="333" r="1.6" fill="#dc143c"/>
<circle cx="345.93" cy="252.48" r="1.6" fill="#223c9c"/>
<circle cx="353.3" cy="324.9" r="1.6" fill="#dc143c"/>
<circle cx="385.3" cy="284" r="1.6" fill="#223c9c"/>
<circle cx="385.3" cy="395" r="1.6" fill="#dc143c"/>
<circle cx="384" cy="356.3" r="1.6" fill="#dc143c"/>
<circle cx="287.3" cy="306.7" r="1.6" fill="#223c9c"/>
<circle cx="339.3" cy="375.7" r="1.6" fill="#dc143c"/>
<circle cx="322.7" cy="389.7" r="1.6" fill="#dc143c"/>
<circle cx="400.4" cy="343.3" r="1.6" fill="#223c9c"/>
<circle cx="341.3" cy="259.3" r="1.6" fill="#223c9c"/>
<circle cx="386.8" cy="394.9" r="1.6" fill="#dc143c"/>
<circle cx="310.66" cy="394.72" r="1.6" fill="#dc143c"/>
<circle cx="302.17" cy="401.01" r="1.6" fill="#223c9c"/>
<circle cx="374" cy="350.3" r="1.6" fill="#dc143c"/>
<circle cx="336" cy="359" r="1.6" fill="#dc143c"/>
<circle cx="283.7" cy="292" r="1.6" fill="#223c9c"/>
<circle cx="281.3" cy="290.7" r="1.6" fill="#223c9c"/>
<line x1="252.6" y1="238.6" x2="413.4" y2="238.6" stroke="#b8b8b8" stroke-width="1.2" />
<line x1="413.4" y1="238.6" x2="413.4" y2="415" stroke="#b8b8b8" stroke-width="1.2" />
<line x1="252.6" y1="415" x2="413.4" y2="415" stroke="#a0a0a0" stroke-width="1.2" />
<line x1="252.6" y1="238.6" x2="252.6" y2="415" stroke="#979797" stroke-width="1.1" />
<line x1="251.2" y1="269" x2="252.6" y2="269" stroke="#555" stroke-width="0.8" />
<text x="250.6" y="271" font-size="6" fill="#555" stroke="#555" stroke-width="0.2" text-anchor="end" >20</text>
<line x1="251.2" y1="301.2" x2="252.6" y2="301.2" stroke="#555" stroke-width="0.8" />
<text x="250.6" y="303.2" font-size="6" fill="#555" stroke="#555" stroke-width="0.2" text-anchor="end" >10</text>
<line x1="251.2" y1="333.4" x2="252.6" y2="333.4" stroke="#555" stroke-width="0.8" />
<text x="250.6" y="335.4" font-size="6" fill="#555" stroke="#555" stroke-width="0.2" text-anchor="end" >0</text>
<line x1="251.2" y1="365.6" x2="252.6" y2="365.6" stroke="#555" stroke-width="0.8" />
<text x="250.6" y="367.6" font-size="6" fill="#555" stroke="#555" stroke-width="0.2" text-anchor="end" >&#8722;10</text>
<line x1="251.2" y1="397.8" x2="252.6" y2="397.8" stroke="#555" stroke-width="0.8" />
<text x="250.6" y="399.8" font-size="6" fill="#555" stroke="#555" stroke-width="0.2" text-anchor="end" >&#8722;20</text>
<line x1="289.4" y1="415" x2="289.4" y2="416.6" stroke="#555" stroke-width="0.8" />
<text x="289.4" y="423.8" font-size="6" fill="#555" stroke="#555" stroke-width="0.2" text-anchor="middle" >&#8722;20</text>
<line x1="335.4" y1="415" x2="335.4" y2="416.6" stroke="#555" stroke-width="0.8" />
<text x="335.4" y="423.8" font-size="6" fill="#555" stroke="#555" stroke-width="0.2" text-anchor="middle" >0</text>
<line x1="381.4" y1="415" x2="381.4" y2="416.6" stroke="#555" stroke-width="0.8" />
<text x="381.4" y="423.8" font-size="6" fill="#555" stroke="#555" stroke-width="0.2" text-anchor="middle" >20</text>
<text x="332.7" y="432.6" font-size="7.3" fill="#222" stroke="#222" stroke-width="0.2" text-anchor="middle" >tSNE1</text>
<text x="236.6" y="327" font-size="7.3" fill="#222" stroke="#222" stroke-width="0.2" text-anchor="middle" transform="rotate(-90 236.6 327)" >tSNE2</text>
<text x="424" y="316" font-size="6.9" fill="#222" stroke="#222" stroke-width="0.2" text-anchor="start" >Risk</text>
<circle cx="429" cy="327" r="1.6" fill="#dc143c"/>
<circle cx="429" cy="339" r="1.6" fill="#223c9c"/>
<text x="438" y="329.1" font-size="5.6" fill="#333" stroke="#333" stroke-width="0.2" text-anchor="start" >high</text>
<text x="438" y="341.1" font-size="5.6" fill="#333" stroke="#333" stroke-width="0.2" text-anchor="start" >low</text>
<text transform="translate(0.1 15.9) scale(0.91 1)" font-size="23.2" font-weight="bold" fill="#1a1311">A</text>
<text transform="translate(361.4 15.9) scale(0.9 1)" font-size="23.2" font-weight="bold" fill="#1a1311">B</text>
<text transform="translate(0.2 236.2) scale(0.85 1)" font-size="23.2" font-weight="bold" fill="#1a1311">C</text>
<text transform="translate(235.1 246) scale(1.0 1)" font-size="22.4" font-weight="bold" fill="#1a1311">D</text>
<text transform="translate(458.6 246) scale(0.82 1)" font-size="22.4" font-weight="bold" fill="#1a1311">E</text>
</svg></body></html>
